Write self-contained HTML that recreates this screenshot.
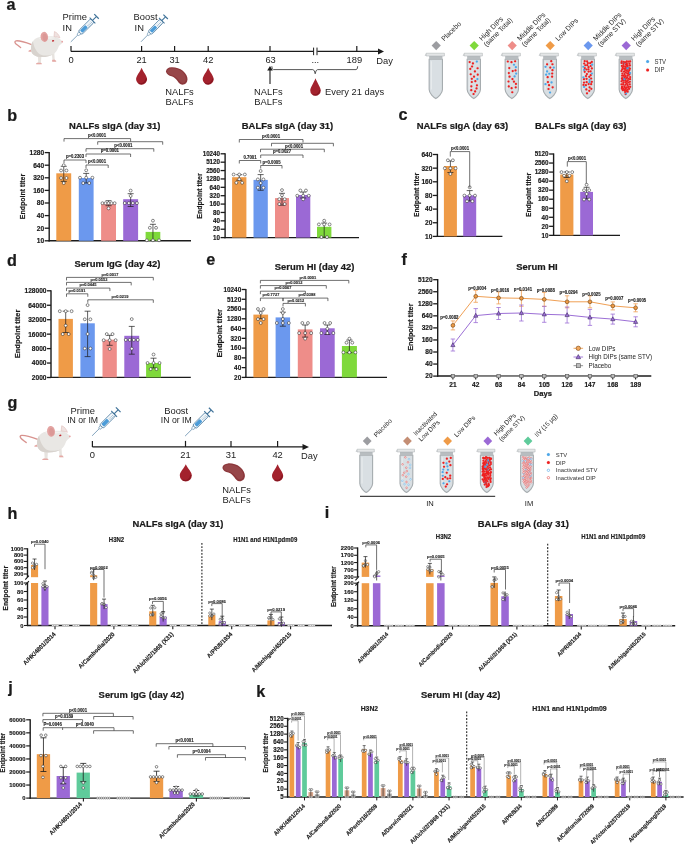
<!DOCTYPE html>
<html><head><meta charset="utf-8"><title>Figure</title>
<style>html,body{margin:0;padding:0;background:#fff;}svg{display:block;will-change:transform;}
text{font-family:"Liberation Sans", sans-serif;}</style></head>
<body><svg width="685" height="844" viewBox="0 0 685 844">
<rect width="685" height="844" fill="#fff"/>
<text transform="translate(6.4 10) scale(1 1.05)" font-size="16.2" font-weight="bold" stroke="#1a1a1a" stroke-width="0.22" text-anchor="start" fill="#1a1a1a">a</text>
<text transform="translate(7.2 120.8) scale(1 1.05)" font-size="16.2" font-weight="bold" stroke="#1a1a1a" stroke-width="0.22" text-anchor="start" fill="#1a1a1a">b</text>
<text transform="translate(398.6 120.4) scale(1 1.05)" font-size="16.2" font-weight="bold" stroke="#1a1a1a" stroke-width="0.22" text-anchor="start" fill="#1a1a1a">c</text>
<text transform="translate(6.9 265.8) scale(1 1.05)" font-size="16.2" font-weight="bold" stroke="#1a1a1a" stroke-width="0.22" text-anchor="start" fill="#1a1a1a">d</text>
<text transform="translate(206.3 264.8) scale(1 1.05)" font-size="16.2" font-weight="bold" stroke="#1a1a1a" stroke-width="0.22" text-anchor="start" fill="#1a1a1a">e</text>
<text transform="translate(401.4 265) scale(1 1.05)" font-size="16.2" font-weight="bold" stroke="#1a1a1a" stroke-width="0.22" text-anchor="start" fill="#1a1a1a">f</text>
<text transform="translate(7.4 408) scale(1 1.05)" font-size="16.2" font-weight="bold" stroke="#1a1a1a" stroke-width="0.22" text-anchor="start" fill="#1a1a1a">g</text>
<text transform="translate(7.6 518.8) scale(1 1.05)" font-size="16.2" font-weight="bold" stroke="#1a1a1a" stroke-width="0.22" text-anchor="start" fill="#1a1a1a">h</text>
<text transform="translate(324.8 517.6) scale(1 1.05)" font-size="16.2" font-weight="bold" stroke="#1a1a1a" stroke-width="0.22" text-anchor="start" fill="#1a1a1a">i</text>
<text transform="translate(8.2 693.4) scale(1 1.05)" font-size="16.2" font-weight="bold" stroke="#1a1a1a" stroke-width="0.22" text-anchor="start" fill="#1a1a1a">j</text>
<text transform="translate(256.2 696.7) scale(1 1.05)" font-size="16.2" font-weight="bold" stroke="#1a1a1a" stroke-width="0.22" text-anchor="start" fill="#1a1a1a">k</text>
<text transform="translate(114.7 128.8) scale(1 1.05)" font-size="9.45" font-weight="bold" stroke="#1a1a1a" stroke-width="0.22" text-anchor="middle" fill="#1a1a1a">NALFs sIgA (day 31)</text>
<line x1="49.2" y1="152" x2="49.2" y2="241.4" stroke="#1b1b1b" stroke-width="1.4"/>
<line x1="44.7" y1="152.6" x2="49.2" y2="152.6" stroke="#1b1b1b" stroke-width="1.3"/>
<text transform="translate(44.2 154.98) scale(1 1.05)" font-size="6.6" font-weight="bold" stroke="#1a1a1a" stroke-width="0.17" text-anchor="end" fill="#1a1a1a">1280</text>
<line x1="44.7" y1="165.2" x2="49.2" y2="165.2" stroke="#1b1b1b" stroke-width="1.3"/>
<text transform="translate(44.2 167.58) scale(1 1.05)" font-size="6.6" font-weight="bold" stroke="#1a1a1a" stroke-width="0.17" text-anchor="end" fill="#1a1a1a">640</text>
<line x1="44.7" y1="177.8" x2="49.2" y2="177.8" stroke="#1b1b1b" stroke-width="1.3"/>
<text transform="translate(44.2 180.18) scale(1 1.05)" font-size="6.6" font-weight="bold" stroke="#1a1a1a" stroke-width="0.17" text-anchor="end" fill="#1a1a1a">320</text>
<line x1="44.7" y1="190.4" x2="49.2" y2="190.4" stroke="#1b1b1b" stroke-width="1.3"/>
<text transform="translate(44.2 192.78) scale(1 1.05)" font-size="6.6" font-weight="bold" stroke="#1a1a1a" stroke-width="0.17" text-anchor="end" fill="#1a1a1a">160</text>
<line x1="44.7" y1="203" x2="49.2" y2="203" stroke="#1b1b1b" stroke-width="1.3"/>
<text transform="translate(44.2 205.38) scale(1 1.05)" font-size="6.6" font-weight="bold" stroke="#1a1a1a" stroke-width="0.17" text-anchor="end" fill="#1a1a1a">80</text>
<line x1="44.7" y1="215.6" x2="49.2" y2="215.6" stroke="#1b1b1b" stroke-width="1.3"/>
<text transform="translate(44.2 217.98) scale(1 1.05)" font-size="6.6" font-weight="bold" stroke="#1a1a1a" stroke-width="0.17" text-anchor="end" fill="#1a1a1a">40</text>
<line x1="44.7" y1="228.2" x2="49.2" y2="228.2" stroke="#1b1b1b" stroke-width="1.3"/>
<text transform="translate(44.2 230.58) scale(1 1.05)" font-size="6.6" font-weight="bold" stroke="#1a1a1a" stroke-width="0.17" text-anchor="end" fill="#1a1a1a">20</text>
<line x1="44.7" y1="240.8" x2="49.2" y2="240.8" stroke="#1b1b1b" stroke-width="1.3"/>
<text transform="translate(44.2 243.18) scale(1 1.05)" font-size="6.6" font-weight="bold" stroke="#1a1a1a" stroke-width="0.17" text-anchor="end" fill="#1a1a1a">10</text>
<line x1="48.6" y1="240.8" x2="191" y2="240.8" stroke="#1b1b1b" stroke-width="1.4"/>
<text transform="translate(25.2 196.5) rotate(-90) scale(1 1.05)" font-size="7" font-weight="bold" stroke="#1a1a1a" stroke-width="0.18" text-anchor="middle" fill="#1a1a1a">Endpoint titer</text>
<rect x="56.3" y="173.3" width="14.9" height="67.5" fill="#EF9B47"/>
<rect x="78.8" y="178" width="14.8" height="62.8" fill="#6B98EE"/>
<rect x="101.1" y="203.2" width="14.9" height="37.6" fill="#EE8D89"/>
<rect x="123.2" y="199.2" width="14.9" height="41.6" fill="#9B69D5"/>
<rect x="145.6" y="231.9" width="14.7" height="8.9" fill="#7FD93B"/>
<line x1="63.75" y1="166.3" x2="63.75" y2="181.4" stroke="#1b1b1b" stroke-width="0.7"/>
<line x1="60.75" y1="166.3" x2="66.75" y2="166.3" stroke="#1b1b1b" stroke-width="0.7"/>
<line x1="60.75" y1="181.4" x2="66.75" y2="181.4" stroke="#1b1b1b" stroke-width="0.7"/>
<circle cx="63.75" cy="165.2" r="1.45" fill="#fff" stroke="#2a2a2a" stroke-width="0.55"/>
<circle cx="61.05" cy="170.5" r="1.45" fill="#fff" stroke="#2a2a2a" stroke-width="0.55"/>
<circle cx="66.45" cy="170.5" r="1.45" fill="#fff" stroke="#2a2a2a" stroke-width="0.55"/>
<circle cx="61.05" cy="178" r="1.45" fill="#fff" stroke="#2a2a2a" stroke-width="0.55"/>
<circle cx="66.45" cy="178" r="1.45" fill="#fff" stroke="#2a2a2a" stroke-width="0.55"/>
<circle cx="63.75" cy="183.1" r="1.45" fill="#fff" stroke="#2a2a2a" stroke-width="0.55"/>
<line x1="86.2" y1="173.4" x2="86.2" y2="183" stroke="#1b1b1b" stroke-width="0.7"/>
<line x1="83.2" y1="173.4" x2="89.2" y2="173.4" stroke="#1b1b1b" stroke-width="0.7"/>
<line x1="83.2" y1="183" x2="89.2" y2="183" stroke="#1b1b1b" stroke-width="0.7"/>
<circle cx="86.2" cy="170.3" r="1.45" fill="#fff" stroke="#2a2a2a" stroke-width="0.55"/>
<circle cx="80" cy="177.7" r="1.45" fill="#fff" stroke="#2a2a2a" stroke-width="0.55"/>
<circle cx="86.2" cy="177.7" r="1.45" fill="#fff" stroke="#2a2a2a" stroke-width="0.55"/>
<circle cx="92.4" cy="177.7" r="1.45" fill="#fff" stroke="#2a2a2a" stroke-width="0.55"/>
<circle cx="83.2" cy="183.1" r="1.45" fill="#fff" stroke="#2a2a2a" stroke-width="0.55"/>
<circle cx="89.2" cy="183.1" r="1.45" fill="#fff" stroke="#2a2a2a" stroke-width="0.55"/>
<line x1="108.55" y1="200.7" x2="108.55" y2="205.7" stroke="#1b1b1b" stroke-width="0.7"/>
<line x1="105.55" y1="200.7" x2="111.55" y2="200.7" stroke="#1b1b1b" stroke-width="0.7"/>
<line x1="105.55" y1="205.7" x2="111.55" y2="205.7" stroke="#1b1b1b" stroke-width="0.7"/>
<circle cx="102.45" cy="203.2" r="1.45" fill="#fff" stroke="#2a2a2a" stroke-width="0.55"/>
<circle cx="105.55" cy="203.2" r="1.45" fill="#fff" stroke="#2a2a2a" stroke-width="0.55"/>
<circle cx="108.55" cy="203.2" r="1.45" fill="#fff" stroke="#2a2a2a" stroke-width="0.55"/>
<circle cx="111.55" cy="203.2" r="1.45" fill="#fff" stroke="#2a2a2a" stroke-width="0.55"/>
<circle cx="114.65" cy="203.2" r="1.45" fill="#fff" stroke="#2a2a2a" stroke-width="0.55"/>
<circle cx="108.55" cy="208.4" r="1.45" fill="#fff" stroke="#2a2a2a" stroke-width="0.55"/>
<line x1="130.65" y1="193.7" x2="130.65" y2="206.5" stroke="#1b1b1b" stroke-width="0.7"/>
<line x1="127.65" y1="193.7" x2="133.65" y2="193.7" stroke="#1b1b1b" stroke-width="0.7"/>
<line x1="127.65" y1="206.5" x2="133.65" y2="206.5" stroke="#1b1b1b" stroke-width="0.7"/>
<circle cx="130.65" cy="190.6" r="1.45" fill="#fff" stroke="#2a2a2a" stroke-width="0.55"/>
<circle cx="130.65" cy="195.9" r="1.45" fill="#fff" stroke="#2a2a2a" stroke-width="0.55"/>
<circle cx="124.75" cy="203.1" r="1.45" fill="#fff" stroke="#2a2a2a" stroke-width="0.55"/>
<circle cx="128.85" cy="203.1" r="1.45" fill="#fff" stroke="#2a2a2a" stroke-width="0.55"/>
<circle cx="132.85" cy="203.1" r="1.45" fill="#fff" stroke="#2a2a2a" stroke-width="0.55"/>
<circle cx="136.95" cy="203.1" r="1.45" fill="#fff" stroke="#2a2a2a" stroke-width="0.55"/>
<line x1="152.95" y1="224.3" x2="152.95" y2="240.4" stroke="#1b1b1b" stroke-width="0.7"/>
<line x1="149.95" y1="224.3" x2="155.95" y2="224.3" stroke="#1b1b1b" stroke-width="0.7"/>
<line x1="149.95" y1="240.4" x2="155.95" y2="240.4" stroke="#1b1b1b" stroke-width="0.7"/>
<circle cx="152.95" cy="220.7" r="1.45" fill="#fff" stroke="#2a2a2a" stroke-width="0.55"/>
<circle cx="149.85" cy="227.8" r="1.45" fill="#fff" stroke="#2a2a2a" stroke-width="0.55"/>
<circle cx="156.05" cy="227.8" r="1.45" fill="#fff" stroke="#2a2a2a" stroke-width="0.55"/>
<circle cx="146.85" cy="240.3" r="1.45" fill="#fff" stroke="#2a2a2a" stroke-width="0.55"/>
<circle cx="152.95" cy="240.3" r="1.45" fill="#fff" stroke="#2a2a2a" stroke-width="0.55"/>
<circle cx="159.05" cy="240.3" r="1.45" fill="#fff" stroke="#2a2a2a" stroke-width="0.55"/>
<path d="M64 141.6V138.6H130.6V141.6" fill="none" stroke="#333" stroke-width="0.7"/>
<text transform="translate(97 136.8) scale(1 1.05)" font-size="4.29" font-weight="bold" stroke="#222" stroke-width="0.11" text-anchor="middle" fill="#222">p&lt;0.0001</text>
<path d="M97.7 144.7V141.7H162.7V144.7" fill="none" stroke="#333" stroke-width="0.7"/>
<path d="M86 151.7V148.7H153.8V151.7" fill="none" stroke="#333" stroke-width="0.7"/>
<text transform="translate(123.4 147.1) scale(1 1.05)" font-size="4.29" font-weight="bold" stroke="#222" stroke-width="0.11" text-anchor="middle" fill="#222">p&lt;0.0001</text>
<path d="M86 157V154H130.6V157" fill="none" stroke="#333" stroke-width="0.7"/>
<text transform="translate(109.8 152.4) scale(1 1.05)" font-size="4.29" font-weight="bold" stroke="#222" stroke-width="0.11" text-anchor="middle" fill="#222">p=0.0001</text>
<path d="M64 163V160H86V163" fill="none" stroke="#333" stroke-width="0.7"/>
<text transform="translate(75 158.2) scale(1 1.05)" font-size="4.29" font-weight="bold" stroke="#222" stroke-width="0.11" text-anchor="middle" fill="#222">p=0.2303</text>
<path d="M86 168V165H108.2V168" fill="none" stroke="#333" stroke-width="0.7"/>
<text transform="translate(97 163.2) scale(1 1.05)" font-size="4.29" font-weight="bold" stroke="#222" stroke-width="0.11" text-anchor="middle" fill="#222">p&lt;0.0001</text>
<text transform="translate(287.5 128.8) scale(1 1.05)" font-size="9.45" font-weight="bold" stroke="#1a1a1a" stroke-width="0.22" text-anchor="middle" fill="#1a1a1a">BALFs sIgA (day 31)</text>
<line x1="225.1" y1="153.2" x2="225.1" y2="238.2" stroke="#1b1b1b" stroke-width="1.4"/>
<line x1="220.6" y1="153.8" x2="225.1" y2="153.8" stroke="#1b1b1b" stroke-width="1.3"/>
<text transform="translate(220.1 156.07) scale(1 1.05)" font-size="6.3" font-weight="bold" stroke="#1a1a1a" stroke-width="0.16" text-anchor="end" fill="#1a1a1a">10240</text>
<line x1="220.6" y1="162.18" x2="225.1" y2="162.18" stroke="#1b1b1b" stroke-width="1.3"/>
<text transform="translate(220.1 164.45) scale(1 1.05)" font-size="6.3" font-weight="bold" stroke="#1a1a1a" stroke-width="0.16" text-anchor="end" fill="#1a1a1a">5120</text>
<line x1="220.6" y1="170.56" x2="225.1" y2="170.56" stroke="#1b1b1b" stroke-width="1.3"/>
<text transform="translate(220.1 172.83) scale(1 1.05)" font-size="6.3" font-weight="bold" stroke="#1a1a1a" stroke-width="0.16" text-anchor="end" fill="#1a1a1a">2560</text>
<line x1="220.6" y1="178.94" x2="225.1" y2="178.94" stroke="#1b1b1b" stroke-width="1.3"/>
<text transform="translate(220.1 181.21) scale(1 1.05)" font-size="6.3" font-weight="bold" stroke="#1a1a1a" stroke-width="0.16" text-anchor="end" fill="#1a1a1a">1280</text>
<line x1="220.6" y1="187.32" x2="225.1" y2="187.32" stroke="#1b1b1b" stroke-width="1.3"/>
<text transform="translate(220.1 189.59) scale(1 1.05)" font-size="6.3" font-weight="bold" stroke="#1a1a1a" stroke-width="0.16" text-anchor="end" fill="#1a1a1a">640</text>
<line x1="220.6" y1="195.7" x2="225.1" y2="195.7" stroke="#1b1b1b" stroke-width="1.3"/>
<text transform="translate(220.1 197.97) scale(1 1.05)" font-size="6.3" font-weight="bold" stroke="#1a1a1a" stroke-width="0.16" text-anchor="end" fill="#1a1a1a">320</text>
<line x1="220.6" y1="204.08" x2="225.1" y2="204.08" stroke="#1b1b1b" stroke-width="1.3"/>
<text transform="translate(220.1 206.35) scale(1 1.05)" font-size="6.3" font-weight="bold" stroke="#1a1a1a" stroke-width="0.16" text-anchor="end" fill="#1a1a1a">160</text>
<line x1="220.6" y1="212.46" x2="225.1" y2="212.46" stroke="#1b1b1b" stroke-width="1.3"/>
<text transform="translate(220.1 214.73) scale(1 1.05)" font-size="6.3" font-weight="bold" stroke="#1a1a1a" stroke-width="0.16" text-anchor="end" fill="#1a1a1a">80</text>
<line x1="220.6" y1="220.84" x2="225.1" y2="220.84" stroke="#1b1b1b" stroke-width="1.3"/>
<text transform="translate(220.1 223.11) scale(1 1.05)" font-size="6.3" font-weight="bold" stroke="#1a1a1a" stroke-width="0.16" text-anchor="end" fill="#1a1a1a">40</text>
<line x1="220.6" y1="229.22" x2="225.1" y2="229.22" stroke="#1b1b1b" stroke-width="1.3"/>
<text transform="translate(220.1 231.49) scale(1 1.05)" font-size="6.3" font-weight="bold" stroke="#1a1a1a" stroke-width="0.16" text-anchor="end" fill="#1a1a1a">20</text>
<line x1="220.6" y1="237.6" x2="225.1" y2="237.6" stroke="#1b1b1b" stroke-width="1.3"/>
<text transform="translate(220.1 239.87) scale(1 1.05)" font-size="6.3" font-weight="bold" stroke="#1a1a1a" stroke-width="0.16" text-anchor="end" fill="#1a1a1a">10</text>
<line x1="224.5" y1="237.6" x2="359" y2="237.6" stroke="#1b1b1b" stroke-width="1.4"/>
<text transform="translate(202.3 196) rotate(-90) scale(1 1.05)" font-size="7" font-weight="bold" stroke="#1a1a1a" stroke-width="0.18" text-anchor="middle" fill="#1a1a1a">Endpoint titer</text>
<rect x="232.1" y="177.2" width="14.3" height="60.4" fill="#EF9B47"/>
<rect x="253.5" y="179.9" width="14.3" height="57.7" fill="#6B98EE"/>
<rect x="275" y="198.1" width="14" height="39.5" fill="#EE8D89"/>
<rect x="296" y="195" width="14.3" height="42.6" fill="#9B69D5"/>
<rect x="317" y="226.8" width="14.4" height="10.8" fill="#7FD93B"/>
<line x1="239.25" y1="174.7" x2="239.25" y2="180.2" stroke="#1b1b1b" stroke-width="0.7"/>
<line x1="236.25" y1="174.7" x2="242.25" y2="174.7" stroke="#1b1b1b" stroke-width="0.7"/>
<line x1="236.25" y1="180.2" x2="242.25" y2="180.2" stroke="#1b1b1b" stroke-width="0.7"/>
<circle cx="233.65" cy="174.5" r="1.45" fill="#fff" stroke="#2a2a2a" stroke-width="0.55"/>
<circle cx="239.25" cy="174.5" r="1.45" fill="#fff" stroke="#2a2a2a" stroke-width="0.55"/>
<circle cx="244.85" cy="174.5" r="1.45" fill="#fff" stroke="#2a2a2a" stroke-width="0.55"/>
<circle cx="239.25" cy="179.3" r="1.45" fill="#fff" stroke="#2a2a2a" stroke-width="0.55"/>
<circle cx="236.35" cy="182.8" r="1.45" fill="#fff" stroke="#2a2a2a" stroke-width="0.55"/>
<circle cx="242.15" cy="182.8" r="1.45" fill="#fff" stroke="#2a2a2a" stroke-width="0.55"/>
<line x1="260.65" y1="174.6" x2="260.65" y2="190.3" stroke="#1b1b1b" stroke-width="0.7"/>
<line x1="257.65" y1="174.6" x2="263.65" y2="174.6" stroke="#1b1b1b" stroke-width="0.7"/>
<line x1="257.65" y1="190.3" x2="263.65" y2="190.3" stroke="#1b1b1b" stroke-width="0.7"/>
<circle cx="260.65" cy="171" r="1.45" fill="#fff" stroke="#2a2a2a" stroke-width="0.55"/>
<circle cx="257.85" cy="179.4" r="1.45" fill="#fff" stroke="#2a2a2a" stroke-width="0.55"/>
<circle cx="263.45" cy="179.4" r="1.45" fill="#fff" stroke="#2a2a2a" stroke-width="0.55"/>
<circle cx="260.65" cy="183.1" r="1.45" fill="#fff" stroke="#2a2a2a" stroke-width="0.55"/>
<circle cx="257.85" cy="187.7" r="1.45" fill="#fff" stroke="#2a2a2a" stroke-width="0.55"/>
<circle cx="263.45" cy="187.7" r="1.45" fill="#fff" stroke="#2a2a2a" stroke-width="0.55"/>
<line x1="282" y1="193.3" x2="282" y2="205.2" stroke="#1b1b1b" stroke-width="0.7"/>
<line x1="279" y1="193.3" x2="285" y2="193.3" stroke="#1b1b1b" stroke-width="0.7"/>
<line x1="279" y1="205.2" x2="285" y2="205.2" stroke="#1b1b1b" stroke-width="0.7"/>
<circle cx="282" cy="190.1" r="1.45" fill="#fff" stroke="#2a2a2a" stroke-width="0.55"/>
<circle cx="282" cy="195.2" r="1.45" fill="#fff" stroke="#2a2a2a" stroke-width="0.55"/>
<circle cx="279.3" cy="199.2" r="1.45" fill="#fff" stroke="#2a2a2a" stroke-width="0.55"/>
<circle cx="284.7" cy="199.2" r="1.45" fill="#fff" stroke="#2a2a2a" stroke-width="0.55"/>
<circle cx="279.3" cy="204.1" r="1.45" fill="#fff" stroke="#2a2a2a" stroke-width="0.55"/>
<circle cx="284.7" cy="204.1" r="1.45" fill="#fff" stroke="#2a2a2a" stroke-width="0.55"/>
<line x1="303.15" y1="192" x2="303.15" y2="198" stroke="#1b1b1b" stroke-width="0.7"/>
<line x1="300.15" y1="192" x2="306.15" y2="192" stroke="#1b1b1b" stroke-width="0.7"/>
<line x1="300.15" y1="198" x2="306.15" y2="198" stroke="#1b1b1b" stroke-width="0.7"/>
<circle cx="300.35" cy="190.5" r="1.45" fill="#fff" stroke="#2a2a2a" stroke-width="0.55"/>
<circle cx="305.95" cy="190.5" r="1.45" fill="#fff" stroke="#2a2a2a" stroke-width="0.55"/>
<circle cx="297.25" cy="195.7" r="1.45" fill="#fff" stroke="#2a2a2a" stroke-width="0.55"/>
<circle cx="303.15" cy="195.7" r="1.45" fill="#fff" stroke="#2a2a2a" stroke-width="0.55"/>
<circle cx="308.75" cy="195.7" r="1.45" fill="#fff" stroke="#2a2a2a" stroke-width="0.55"/>
<circle cx="303.15" cy="199.3" r="1.45" fill="#fff" stroke="#2a2a2a" stroke-width="0.55"/>
<line x1="324.2" y1="223.1" x2="324.2" y2="237.3" stroke="#1b1b1b" stroke-width="0.7"/>
<line x1="321.2" y1="223.1" x2="327.2" y2="223.1" stroke="#1b1b1b" stroke-width="0.7"/>
<line x1="321.2" y1="237.3" x2="327.2" y2="237.3" stroke="#1b1b1b" stroke-width="0.7"/>
<circle cx="324.2" cy="220.7" r="1.45" fill="#fff" stroke="#2a2a2a" stroke-width="0.55"/>
<circle cx="318.9" cy="224.4" r="1.45" fill="#fff" stroke="#2a2a2a" stroke-width="0.55"/>
<circle cx="324.2" cy="224.4" r="1.45" fill="#fff" stroke="#2a2a2a" stroke-width="0.55"/>
<circle cx="329.6" cy="224.4" r="1.45" fill="#fff" stroke="#2a2a2a" stroke-width="0.55"/>
<circle cx="321.4" cy="237.1" r="1.45" fill="#fff" stroke="#2a2a2a" stroke-width="0.55"/>
<circle cx="327" cy="237.1" r="1.45" fill="#fff" stroke="#2a2a2a" stroke-width="0.55"/>
<path d="M239.3 142.5V139.5H303V142.5" fill="none" stroke="#333" stroke-width="0.7"/>
<text transform="translate(271 137.7) scale(1 1.05)" font-size="4.29" font-weight="bold" stroke="#222" stroke-width="0.11" text-anchor="middle" fill="#222">p&lt;0.0001</text>
<path d="M271.5 146.3V143.3H333.4V146.3" fill="none" stroke="#333" stroke-width="0.7"/>
<path d="M260.5 152.2V149.2H324.3V152.2" fill="none" stroke="#333" stroke-width="0.7"/>
<text transform="translate(294 147.5) scale(1 1.05)" font-size="4.29" font-weight="bold" stroke="#222" stroke-width="0.11" text-anchor="middle" fill="#222">p&lt;0.0001</text>
<path d="M260.7 158V155H303V158" fill="none" stroke="#333" stroke-width="0.7"/>
<text transform="translate(282 153.2) scale(1 1.05)" font-size="4.29" font-weight="bold" stroke="#222" stroke-width="0.11" text-anchor="middle" fill="#222">p=0.0027</text>
<path d="M239.3 163.5V160.5H260.7V163.5" fill="none" stroke="#333" stroke-width="0.7"/>
<text transform="translate(250 158.7) scale(1 1.05)" font-size="4.29" font-weight="bold" stroke="#222" stroke-width="0.11" text-anchor="middle" fill="#222">0.7001</text>
<path d="M260.7 168.5V165.5H282V168.5" fill="none" stroke="#333" stroke-width="0.7"/>
<text transform="translate(271.5 163.7) scale(1 1.05)" font-size="4.29" font-weight="bold" stroke="#222" stroke-width="0.11" text-anchor="middle" fill="#222">p=0.0005</text>
<text transform="translate(462.4 128.7) scale(1 1.05)" font-size="9.45" font-weight="bold" stroke="#1a1a1a" stroke-width="0.22" text-anchor="middle" fill="#1a1a1a">NALFs sIgA (day 63)</text>
<line x1="437.4" y1="153.9" x2="437.4" y2="237" stroke="#1b1b1b" stroke-width="1.4"/>
<line x1="432.9" y1="154.5" x2="437.4" y2="154.5" stroke="#1b1b1b" stroke-width="1.3"/>
<text transform="translate(432.4 156.88) scale(1 1.05)" font-size="6.6" font-weight="bold" stroke="#1a1a1a" stroke-width="0.17" text-anchor="end" fill="#1a1a1a">640</text>
<line x1="432.9" y1="168.15" x2="437.4" y2="168.15" stroke="#1b1b1b" stroke-width="1.3"/>
<text transform="translate(432.4 170.53) scale(1 1.05)" font-size="6.6" font-weight="bold" stroke="#1a1a1a" stroke-width="0.17" text-anchor="end" fill="#1a1a1a">320</text>
<line x1="432.9" y1="181.8" x2="437.4" y2="181.8" stroke="#1b1b1b" stroke-width="1.3"/>
<text transform="translate(432.4 184.18) scale(1 1.05)" font-size="6.6" font-weight="bold" stroke="#1a1a1a" stroke-width="0.17" text-anchor="end" fill="#1a1a1a">160</text>
<line x1="432.9" y1="195.45" x2="437.4" y2="195.45" stroke="#1b1b1b" stroke-width="1.3"/>
<text transform="translate(432.4 197.83) scale(1 1.05)" font-size="6.6" font-weight="bold" stroke="#1a1a1a" stroke-width="0.17" text-anchor="end" fill="#1a1a1a">80</text>
<line x1="432.9" y1="209.1" x2="437.4" y2="209.1" stroke="#1b1b1b" stroke-width="1.3"/>
<text transform="translate(432.4 211.48) scale(1 1.05)" font-size="6.6" font-weight="bold" stroke="#1a1a1a" stroke-width="0.17" text-anchor="end" fill="#1a1a1a">40</text>
<line x1="432.9" y1="222.75" x2="437.4" y2="222.75" stroke="#1b1b1b" stroke-width="1.3"/>
<text transform="translate(432.4 225.13) scale(1 1.05)" font-size="6.6" font-weight="bold" stroke="#1a1a1a" stroke-width="0.17" text-anchor="end" fill="#1a1a1a">20</text>
<line x1="432.9" y1="236.4" x2="437.4" y2="236.4" stroke="#1b1b1b" stroke-width="1.3"/>
<text transform="translate(432.4 238.78) scale(1 1.05)" font-size="6.6" font-weight="bold" stroke="#1a1a1a" stroke-width="0.17" text-anchor="end" fill="#1a1a1a">10</text>
<line x1="436.8" y1="236.4" x2="502.4" y2="236.4" stroke="#1b1b1b" stroke-width="1.4"/>
<text transform="translate(418.5 195) rotate(-90) scale(1 1.05)" font-size="6.8" font-weight="bold" stroke="#1a1a1a" stroke-width="0.17" text-anchor="middle" fill="#1a1a1a">Endpoint titer</text>
<rect x="443.9" y="166" width="13" height="70.4" fill="#EF9B47"/>
<rect x="463.2" y="195.3" width="13" height="41.1" fill="#9B69D5"/>
<line x1="450.4" y1="160.9" x2="450.4" y2="172.5" stroke="#1b1b1b" stroke-width="0.7"/>
<line x1="447.4" y1="160.9" x2="453.4" y2="160.9" stroke="#1b1b1b" stroke-width="0.7"/>
<line x1="447.4" y1="172.5" x2="453.4" y2="172.5" stroke="#1b1b1b" stroke-width="0.7"/>
<circle cx="447.9" cy="160.3" r="1.45" fill="#fff" stroke="#2a2a2a" stroke-width="0.55"/>
<circle cx="452.9" cy="160.3" r="1.45" fill="#fff" stroke="#2a2a2a" stroke-width="0.55"/>
<circle cx="444.8" cy="168.3" r="1.45" fill="#fff" stroke="#2a2a2a" stroke-width="0.55"/>
<circle cx="450.4" cy="168.3" r="1.45" fill="#fff" stroke="#2a2a2a" stroke-width="0.55"/>
<circle cx="455.6" cy="168.3" r="1.45" fill="#fff" stroke="#2a2a2a" stroke-width="0.55"/>
<circle cx="450.4" cy="174" r="1.45" fill="#fff" stroke="#2a2a2a" stroke-width="0.55"/>
<line x1="469.7" y1="190.6" x2="469.7" y2="201" stroke="#1b1b1b" stroke-width="0.7"/>
<line x1="466.7" y1="190.6" x2="472.7" y2="190.6" stroke="#1b1b1b" stroke-width="0.7"/>
<line x1="466.7" y1="201" x2="472.7" y2="201" stroke="#1b1b1b" stroke-width="0.7"/>
<circle cx="469.7" cy="187.3" r="1.45" fill="#fff" stroke="#2a2a2a" stroke-width="0.55"/>
<circle cx="464.4" cy="195.6" r="1.45" fill="#fff" stroke="#2a2a2a" stroke-width="0.55"/>
<circle cx="469.7" cy="195.6" r="1.45" fill="#fff" stroke="#2a2a2a" stroke-width="0.55"/>
<circle cx="475" cy="195.6" r="1.45" fill="#fff" stroke="#2a2a2a" stroke-width="0.55"/>
<circle cx="467" cy="201.2" r="1.45" fill="#fff" stroke="#2a2a2a" stroke-width="0.55"/>
<circle cx="472.4" cy="201.2" r="1.45" fill="#fff" stroke="#2a2a2a" stroke-width="0.55"/>
<path d="M450.3 156.6V151.6H469.7V187.6" fill="none" stroke="#333" stroke-width="0.7"/>
<text transform="translate(460 149.9) scale(1 1.05)" font-size="4.29" font-weight="bold" stroke="#222" stroke-width="0.11" text-anchor="middle" fill="#222">p&lt;0.0001</text>
<text transform="translate(580.7 128.7) scale(1 1.05)" font-size="9.45" font-weight="bold" stroke="#1a1a1a" stroke-width="0.22" text-anchor="middle" fill="#1a1a1a">BALFs sIgA (day 63)</text>
<line x1="553.6" y1="153.4" x2="553.6" y2="235.96" stroke="#1b1b1b" stroke-width="1.4"/>
<line x1="549.1" y1="154" x2="553.6" y2="154" stroke="#1b1b1b" stroke-width="1.3"/>
<text transform="translate(548.6 156.27) scale(1 1.05)" font-size="6.3" font-weight="bold" stroke="#1a1a1a" stroke-width="0.16" text-anchor="end" fill="#1a1a1a">5120</text>
<line x1="549.1" y1="163.04" x2="553.6" y2="163.04" stroke="#1b1b1b" stroke-width="1.3"/>
<text transform="translate(548.6 165.31) scale(1 1.05)" font-size="6.3" font-weight="bold" stroke="#1a1a1a" stroke-width="0.16" text-anchor="end" fill="#1a1a1a">2560</text>
<line x1="549.1" y1="172.08" x2="553.6" y2="172.08" stroke="#1b1b1b" stroke-width="1.3"/>
<text transform="translate(548.6 174.35) scale(1 1.05)" font-size="6.3" font-weight="bold" stroke="#1a1a1a" stroke-width="0.16" text-anchor="end" fill="#1a1a1a">1280</text>
<line x1="549.1" y1="181.12" x2="553.6" y2="181.12" stroke="#1b1b1b" stroke-width="1.3"/>
<text transform="translate(548.6 183.39) scale(1 1.05)" font-size="6.3" font-weight="bold" stroke="#1a1a1a" stroke-width="0.16" text-anchor="end" fill="#1a1a1a">640</text>
<line x1="549.1" y1="190.16" x2="553.6" y2="190.16" stroke="#1b1b1b" stroke-width="1.3"/>
<text transform="translate(548.6 192.43) scale(1 1.05)" font-size="6.3" font-weight="bold" stroke="#1a1a1a" stroke-width="0.16" text-anchor="end" fill="#1a1a1a">320</text>
<line x1="549.1" y1="199.2" x2="553.6" y2="199.2" stroke="#1b1b1b" stroke-width="1.3"/>
<text transform="translate(548.6 201.47) scale(1 1.05)" font-size="6.3" font-weight="bold" stroke="#1a1a1a" stroke-width="0.16" text-anchor="end" fill="#1a1a1a">160</text>
<line x1="549.1" y1="208.24" x2="553.6" y2="208.24" stroke="#1b1b1b" stroke-width="1.3"/>
<text transform="translate(548.6 210.51) scale(1 1.05)" font-size="6.3" font-weight="bold" stroke="#1a1a1a" stroke-width="0.16" text-anchor="end" fill="#1a1a1a">80</text>
<line x1="549.1" y1="217.28" x2="553.6" y2="217.28" stroke="#1b1b1b" stroke-width="1.3"/>
<text transform="translate(548.6 219.55) scale(1 1.05)" font-size="6.3" font-weight="bold" stroke="#1a1a1a" stroke-width="0.16" text-anchor="end" fill="#1a1a1a">40</text>
<line x1="549.1" y1="226.32" x2="553.6" y2="226.32" stroke="#1b1b1b" stroke-width="1.3"/>
<text transform="translate(548.6 228.59) scale(1 1.05)" font-size="6.3" font-weight="bold" stroke="#1a1a1a" stroke-width="0.16" text-anchor="end" fill="#1a1a1a">20</text>
<line x1="549.1" y1="235.36" x2="553.6" y2="235.36" stroke="#1b1b1b" stroke-width="1.3"/>
<text transform="translate(548.6 237.63) scale(1 1.05)" font-size="6.3" font-weight="bold" stroke="#1a1a1a" stroke-width="0.16" text-anchor="end" fill="#1a1a1a">10</text>
<line x1="553" y1="235.4" x2="620" y2="235.4" stroke="#1b1b1b" stroke-width="1.4"/>
<text transform="translate(531.2 195) rotate(-90) scale(1 1.05)" font-size="6.8" font-weight="bold" stroke="#1a1a1a" stroke-width="0.17" text-anchor="middle" fill="#1a1a1a">Endpoint titer</text>
<rect x="560.2" y="174.5" width="13.2" height="60.9" fill="#EF9B47"/>
<rect x="580.2" y="191.9" width="12.8" height="43.5" fill="#9B69D5"/>
<line x1="566.8" y1="172" x2="566.8" y2="177.5" stroke="#1b1b1b" stroke-width="0.7"/>
<line x1="563.8" y1="172" x2="569.8" y2="172" stroke="#1b1b1b" stroke-width="0.7"/>
<line x1="563.8" y1="177.5" x2="569.8" y2="177.5" stroke="#1b1b1b" stroke-width="0.7"/>
<circle cx="561.5" cy="172.1" r="1.45" fill="#fff" stroke="#2a2a2a" stroke-width="0.55"/>
<circle cx="566.8" cy="172.1" r="1.45" fill="#fff" stroke="#2a2a2a" stroke-width="0.55"/>
<circle cx="572.2" cy="172.1" r="1.45" fill="#fff" stroke="#2a2a2a" stroke-width="0.55"/>
<circle cx="564.1" cy="175.7" r="1.45" fill="#fff" stroke="#2a2a2a" stroke-width="0.55"/>
<circle cx="569.5" cy="175.7" r="1.45" fill="#fff" stroke="#2a2a2a" stroke-width="0.55"/>
<circle cx="566.8" cy="181.2" r="1.45" fill="#fff" stroke="#2a2a2a" stroke-width="0.55"/>
<line x1="586.6" y1="187.3" x2="586.6" y2="198.9" stroke="#1b1b1b" stroke-width="0.7"/>
<line x1="583.6" y1="187.3" x2="589.6" y2="187.3" stroke="#1b1b1b" stroke-width="0.7"/>
<line x1="583.6" y1="198.9" x2="589.6" y2="198.9" stroke="#1b1b1b" stroke-width="0.7"/>
<circle cx="586.6" cy="184.7" r="1.45" fill="#fff" stroke="#2a2a2a" stroke-width="0.55"/>
<circle cx="584" cy="190.2" r="1.45" fill="#fff" stroke="#2a2a2a" stroke-width="0.55"/>
<circle cx="589.2" cy="190.2" r="1.45" fill="#fff" stroke="#2a2a2a" stroke-width="0.55"/>
<circle cx="586.6" cy="194" r="1.45" fill="#fff" stroke="#2a2a2a" stroke-width="0.55"/>
<circle cx="584" cy="199.5" r="1.45" fill="#fff" stroke="#2a2a2a" stroke-width="0.55"/>
<circle cx="589.2" cy="199.5" r="1.45" fill="#fff" stroke="#2a2a2a" stroke-width="0.55"/>
<path d="M567.3 166.6V161.6H586.3V183.6" fill="none" stroke="#333" stroke-width="0.7"/>
<text transform="translate(577 159.9) scale(1 1.05)" font-size="4.29" font-weight="bold" stroke="#222" stroke-width="0.11" text-anchor="middle" fill="#222">p&lt;0.0001</text>
<text transform="translate(117.5 267.4) scale(1 1.05)" font-size="9.45" font-weight="bold" stroke="#1a1a1a" stroke-width="0.22" text-anchor="middle" fill="#1a1a1a">Serum IgG (day 42)</text>
<line x1="51" y1="290.2" x2="51" y2="378.1" stroke="#1b1b1b" stroke-width="1.4"/>
<line x1="47" y1="290.8" x2="51" y2="290.8" stroke="#1b1b1b" stroke-width="1.3"/>
<text transform="translate(46.5 293.18) scale(1 1.05)" font-size="6.6" font-weight="bold" stroke="#1a1a1a" stroke-width="0.17" text-anchor="end" fill="#1a1a1a">128000</text>
<line x1="47" y1="305.25" x2="51" y2="305.25" stroke="#1b1b1b" stroke-width="1.3"/>
<text transform="translate(46.5 307.63) scale(1 1.05)" font-size="6.6" font-weight="bold" stroke="#1a1a1a" stroke-width="0.17" text-anchor="end" fill="#1a1a1a">64000</text>
<line x1="47" y1="319.7" x2="51" y2="319.7" stroke="#1b1b1b" stroke-width="1.3"/>
<text transform="translate(46.5 322.08) scale(1 1.05)" font-size="6.6" font-weight="bold" stroke="#1a1a1a" stroke-width="0.17" text-anchor="end" fill="#1a1a1a">32000</text>
<line x1="47" y1="334.15" x2="51" y2="334.15" stroke="#1b1b1b" stroke-width="1.3"/>
<text transform="translate(46.5 336.53) scale(1 1.05)" font-size="6.6" font-weight="bold" stroke="#1a1a1a" stroke-width="0.17" text-anchor="end" fill="#1a1a1a">16000</text>
<line x1="47" y1="348.6" x2="51" y2="348.6" stroke="#1b1b1b" stroke-width="1.3"/>
<text transform="translate(46.5 350.98) scale(1 1.05)" font-size="6.6" font-weight="bold" stroke="#1a1a1a" stroke-width="0.17" text-anchor="end" fill="#1a1a1a">8000</text>
<line x1="47" y1="363.05" x2="51" y2="363.05" stroke="#1b1b1b" stroke-width="1.3"/>
<text transform="translate(46.5 365.43) scale(1 1.05)" font-size="6.6" font-weight="bold" stroke="#1a1a1a" stroke-width="0.17" text-anchor="end" fill="#1a1a1a">4000</text>
<line x1="47" y1="377.5" x2="51" y2="377.5" stroke="#1b1b1b" stroke-width="1.3"/>
<text transform="translate(46.5 379.88) scale(1 1.05)" font-size="6.6" font-weight="bold" stroke="#1a1a1a" stroke-width="0.17" text-anchor="end" fill="#1a1a1a">2000</text>
<line x1="50.4" y1="377.4" x2="190.8" y2="377.4" stroke="#1b1b1b" stroke-width="1.4"/>
<text transform="translate(19.7 333.9) rotate(-90) scale(1 1.05)" font-size="7.5" font-weight="bold" stroke="#1a1a1a" stroke-width="0.19" text-anchor="middle" fill="#1a1a1a">Endpoint titer</text>
<rect x="58.5" y="318.9" width="14.4" height="58.5" fill="#EF9B47"/>
<rect x="80.4" y="323.3" width="14.4" height="54.1" fill="#6B98EE"/>
<rect x="102.5" y="339.7" width="14.3" height="37.7" fill="#EE8D89"/>
<rect x="124.3" y="335.8" width="14.9" height="41.6" fill="#9B69D5"/>
<rect x="146.1" y="363" width="14.9" height="14.4" fill="#7FD93B"/>
<line x1="65.7" y1="311.2" x2="65.7" y2="332.5" stroke="#1b1b1b" stroke-width="0.7"/>
<line x1="62.7" y1="311.2" x2="68.7" y2="311.2" stroke="#1b1b1b" stroke-width="0.7"/>
<line x1="62.7" y1="332.5" x2="68.7" y2="332.5" stroke="#1b1b1b" stroke-width="0.7"/>
<circle cx="59.8" cy="311.2" r="1.45" fill="#fff" stroke="#2a2a2a" stroke-width="0.55"/>
<circle cx="65.7" cy="311.2" r="1.45" fill="#fff" stroke="#2a2a2a" stroke-width="0.55"/>
<circle cx="71.6" cy="311.2" r="1.45" fill="#fff" stroke="#2a2a2a" stroke-width="0.55"/>
<circle cx="65.7" cy="325.6" r="1.45" fill="#fff" stroke="#2a2a2a" stroke-width="0.55"/>
<circle cx="62.7" cy="334.1" r="1.45" fill="#fff" stroke="#2a2a2a" stroke-width="0.55"/>
<circle cx="68.7" cy="334.1" r="1.45" fill="#fff" stroke="#2a2a2a" stroke-width="0.55"/>
<line x1="87.6" y1="311.2" x2="87.6" y2="356.6" stroke="#1b1b1b" stroke-width="0.7"/>
<line x1="84.6" y1="311.2" x2="90.6" y2="311.2" stroke="#1b1b1b" stroke-width="0.7"/>
<line x1="84.6" y1="356.6" x2="90.6" y2="356.6" stroke="#1b1b1b" stroke-width="0.7"/>
<circle cx="87.6" cy="305.1" r="1.45" fill="#fff" stroke="#2a2a2a" stroke-width="0.55"/>
<circle cx="84.8" cy="319.3" r="1.45" fill="#fff" stroke="#2a2a2a" stroke-width="0.55"/>
<circle cx="90.4" cy="319.3" r="1.45" fill="#fff" stroke="#2a2a2a" stroke-width="0.55"/>
<circle cx="87.6" cy="334" r="1.45" fill="#fff" stroke="#2a2a2a" stroke-width="0.55"/>
<circle cx="84.8" cy="348.5" r="1.45" fill="#fff" stroke="#2a2a2a" stroke-width="0.55"/>
<circle cx="90.4" cy="348.5" r="1.45" fill="#fff" stroke="#2a2a2a" stroke-width="0.55"/>
<line x1="109.65" y1="335.3" x2="109.65" y2="345.3" stroke="#1b1b1b" stroke-width="0.7"/>
<line x1="106.65" y1="335.3" x2="112.65" y2="335.3" stroke="#1b1b1b" stroke-width="0.7"/>
<line x1="106.65" y1="345.3" x2="112.65" y2="345.3" stroke="#1b1b1b" stroke-width="0.7"/>
<circle cx="106.75" cy="334.1" r="1.45" fill="#fff" stroke="#2a2a2a" stroke-width="0.55"/>
<circle cx="112.55" cy="334.1" r="1.45" fill="#fff" stroke="#2a2a2a" stroke-width="0.55"/>
<circle cx="103.65" cy="340.2" r="1.45" fill="#fff" stroke="#2a2a2a" stroke-width="0.55"/>
<circle cx="109.65" cy="340.2" r="1.45" fill="#fff" stroke="#2a2a2a" stroke-width="0.55"/>
<circle cx="115.65" cy="340.2" r="1.45" fill="#fff" stroke="#2a2a2a" stroke-width="0.55"/>
<circle cx="109.65" cy="349" r="1.45" fill="#fff" stroke="#2a2a2a" stroke-width="0.55"/>
<line x1="131.75" y1="326.4" x2="131.75" y2="354.2" stroke="#1b1b1b" stroke-width="0.7"/>
<line x1="128.75" y1="326.4" x2="134.75" y2="326.4" stroke="#1b1b1b" stroke-width="0.7"/>
<line x1="128.75" y1="354.2" x2="134.75" y2="354.2" stroke="#1b1b1b" stroke-width="0.7"/>
<circle cx="131.75" cy="319.1" r="1.45" fill="#fff" stroke="#2a2a2a" stroke-width="0.55"/>
<circle cx="125.75" cy="339.9" r="1.45" fill="#fff" stroke="#2a2a2a" stroke-width="0.55"/>
<circle cx="129.75" cy="339.9" r="1.45" fill="#fff" stroke="#2a2a2a" stroke-width="0.55"/>
<circle cx="133.75" cy="339.9" r="1.45" fill="#fff" stroke="#2a2a2a" stroke-width="0.55"/>
<circle cx="137.75" cy="339.9" r="1.45" fill="#fff" stroke="#2a2a2a" stroke-width="0.55"/>
<circle cx="131.75" cy="348.7" r="1.45" fill="#fff" stroke="#2a2a2a" stroke-width="0.55"/>
<line x1="153.55" y1="358.2" x2="153.55" y2="367.9" stroke="#1b1b1b" stroke-width="0.7"/>
<line x1="150.55" y1="358.2" x2="156.55" y2="358.2" stroke="#1b1b1b" stroke-width="0.7"/>
<line x1="150.55" y1="367.9" x2="156.55" y2="367.9" stroke="#1b1b1b" stroke-width="0.7"/>
<circle cx="153.55" cy="354.5" r="1.45" fill="#fff" stroke="#2a2a2a" stroke-width="0.55"/>
<circle cx="147.55" cy="363" r="1.45" fill="#fff" stroke="#2a2a2a" stroke-width="0.55"/>
<circle cx="153.55" cy="363" r="1.45" fill="#fff" stroke="#2a2a2a" stroke-width="0.55"/>
<circle cx="159.55" cy="363" r="1.45" fill="#fff" stroke="#2a2a2a" stroke-width="0.55"/>
<circle cx="150.65" cy="369.1" r="1.45" fill="#fff" stroke="#2a2a2a" stroke-width="0.55"/>
<circle cx="156.45" cy="369.1" r="1.45" fill="#fff" stroke="#2a2a2a" stroke-width="0.55"/>
<path d="M66.5 280.4V277.4H153.3V280.4" fill="none" stroke="#333" stroke-width="0.7"/>
<text transform="translate(110 275.6) scale(1 1.05)" font-size="3.96" font-weight="bold" stroke="#222" stroke-width="0.1" text-anchor="middle" fill="#222">p=0.0017</text>
<path d="M66.5 285.4V282.4H131.2V285.4" fill="none" stroke="#333" stroke-width="0.7"/>
<text transform="translate(99 280.6) scale(1 1.05)" font-size="3.96" font-weight="bold" stroke="#222" stroke-width="0.1" text-anchor="middle" fill="#222">p=0.0553</text>
<path d="M66.5 291.1V288.1H109.9V291.1" fill="none" stroke="#333" stroke-width="0.7"/>
<text transform="translate(88 286.3) scale(1 1.05)" font-size="3.96" font-weight="bold" stroke="#222" stroke-width="0.1" text-anchor="middle" fill="#222">p=0.0445</text>
<path d="M66.5 296.8V293.8H87.8V296.8" fill="none" stroke="#333" stroke-width="0.7"/>
<text transform="translate(77 292) scale(1 1.05)" font-size="3.96" font-weight="bold" stroke="#222" stroke-width="0.1" text-anchor="middle" fill="#222">p=0.0191</text>
<path d="M87.8 302.8V299.8H153.3V302.8" fill="none" stroke="#333" stroke-width="0.7"/>
<text transform="translate(120 298) scale(1 1.05)" font-size="3.96" font-weight="bold" stroke="#222" stroke-width="0.1" text-anchor="middle" fill="#222">p=0.0219</text>
<text transform="translate(314.6 270) scale(1 1.05)" font-size="9.45" font-weight="bold" stroke="#1a1a1a" stroke-width="0.22" text-anchor="middle" fill="#1a1a1a">Serum HI (day 42)</text>
<line x1="245.9" y1="288.9" x2="245.9" y2="377.99" stroke="#1b1b1b" stroke-width="1.4"/>
<line x1="241.7" y1="289.5" x2="245.9" y2="289.5" stroke="#1b1b1b" stroke-width="1.3"/>
<text transform="translate(241.2 291.8) scale(1 1.05)" font-size="6.4" font-weight="bold" stroke="#1a1a1a" stroke-width="0.16" text-anchor="end" fill="#1a1a1a">10240</text>
<line x1="241.7" y1="299.27" x2="245.9" y2="299.27" stroke="#1b1b1b" stroke-width="1.3"/>
<text transform="translate(241.2 301.57) scale(1 1.05)" font-size="6.4" font-weight="bold" stroke="#1a1a1a" stroke-width="0.16" text-anchor="end" fill="#1a1a1a">5120</text>
<line x1="241.7" y1="309.03" x2="245.9" y2="309.03" stroke="#1b1b1b" stroke-width="1.3"/>
<text transform="translate(241.2 311.34) scale(1 1.05)" font-size="6.4" font-weight="bold" stroke="#1a1a1a" stroke-width="0.16" text-anchor="end" fill="#1a1a1a">2560</text>
<line x1="241.7" y1="318.8" x2="245.9" y2="318.8" stroke="#1b1b1b" stroke-width="1.3"/>
<text transform="translate(241.2 321.1) scale(1 1.05)" font-size="6.4" font-weight="bold" stroke="#1a1a1a" stroke-width="0.16" text-anchor="end" fill="#1a1a1a">1280</text>
<line x1="241.7" y1="328.56" x2="245.9" y2="328.56" stroke="#1b1b1b" stroke-width="1.3"/>
<text transform="translate(241.2 330.87) scale(1 1.05)" font-size="6.4" font-weight="bold" stroke="#1a1a1a" stroke-width="0.16" text-anchor="end" fill="#1a1a1a">640</text>
<line x1="241.7" y1="338.33" x2="245.9" y2="338.33" stroke="#1b1b1b" stroke-width="1.3"/>
<text transform="translate(241.2 340.63) scale(1 1.05)" font-size="6.4" font-weight="bold" stroke="#1a1a1a" stroke-width="0.16" text-anchor="end" fill="#1a1a1a">320</text>
<line x1="241.7" y1="348.1" x2="245.9" y2="348.1" stroke="#1b1b1b" stroke-width="1.3"/>
<text transform="translate(241.2 350.4) scale(1 1.05)" font-size="6.4" font-weight="bold" stroke="#1a1a1a" stroke-width="0.16" text-anchor="end" fill="#1a1a1a">160</text>
<line x1="241.7" y1="357.86" x2="245.9" y2="357.86" stroke="#1b1b1b" stroke-width="1.3"/>
<text transform="translate(241.2 360.17) scale(1 1.05)" font-size="6.4" font-weight="bold" stroke="#1a1a1a" stroke-width="0.16" text-anchor="end" fill="#1a1a1a">80</text>
<line x1="241.7" y1="367.63" x2="245.9" y2="367.63" stroke="#1b1b1b" stroke-width="1.3"/>
<text transform="translate(241.2 369.93) scale(1 1.05)" font-size="6.4" font-weight="bold" stroke="#1a1a1a" stroke-width="0.16" text-anchor="end" fill="#1a1a1a">40</text>
<line x1="241.7" y1="377.39" x2="245.9" y2="377.39" stroke="#1b1b1b" stroke-width="1.3"/>
<text transform="translate(241.2 379.7) scale(1 1.05)" font-size="6.4" font-weight="bold" stroke="#1a1a1a" stroke-width="0.16" text-anchor="end" fill="#1a1a1a">20</text>
<line x1="245.3" y1="377.4" x2="387" y2="377.4" stroke="#1b1b1b" stroke-width="1.4"/>
<text transform="translate(221.8 333.3) rotate(-90) scale(1 1.05)" font-size="7.5" font-weight="bold" stroke="#1a1a1a" stroke-width="0.19" text-anchor="middle" fill="#1a1a1a">Endpoint titer</text>
<rect x="253.4" y="314.6" width="14.7" height="62.8" fill="#EF9B47"/>
<rect x="275.6" y="317.4" width="14.5" height="60" fill="#6B98EE"/>
<rect x="297.8" y="329.4" width="14.7" height="48" fill="#EE8D89"/>
<rect x="320" y="328.3" width="14.7" height="49.1" fill="#9B69D5"/>
<rect x="341.9" y="346" width="15" height="31.4" fill="#7FD93B"/>
<line x1="260.75" y1="311.1" x2="260.75" y2="318.6" stroke="#1b1b1b" stroke-width="0.7"/>
<line x1="257.75" y1="311.1" x2="263.75" y2="311.1" stroke="#1b1b1b" stroke-width="0.7"/>
<line x1="257.75" y1="318.6" x2="263.75" y2="318.6" stroke="#1b1b1b" stroke-width="0.7"/>
<circle cx="257.95" cy="309" r="1.45" fill="#fff" stroke="#2a2a2a" stroke-width="0.55"/>
<circle cx="263.55" cy="309" r="1.45" fill="#fff" stroke="#2a2a2a" stroke-width="0.55"/>
<circle cx="260.75" cy="313" r="1.45" fill="#fff" stroke="#2a2a2a" stroke-width="0.55"/>
<circle cx="257.95" cy="319.1" r="1.45" fill="#fff" stroke="#2a2a2a" stroke-width="0.55"/>
<circle cx="263.55" cy="319.1" r="1.45" fill="#fff" stroke="#2a2a2a" stroke-width="0.55"/>
<circle cx="260.75" cy="323" r="1.45" fill="#fff" stroke="#2a2a2a" stroke-width="0.55"/>
<line x1="282.85" y1="312.2" x2="282.85" y2="326.2" stroke="#1b1b1b" stroke-width="0.7"/>
<line x1="279.85" y1="312.2" x2="285.85" y2="312.2" stroke="#1b1b1b" stroke-width="0.7"/>
<line x1="279.85" y1="326.2" x2="285.85" y2="326.2" stroke="#1b1b1b" stroke-width="0.7"/>
<circle cx="282.85" cy="309" r="1.45" fill="#fff" stroke="#2a2a2a" stroke-width="0.55"/>
<circle cx="282.85" cy="313" r="1.45" fill="#fff" stroke="#2a2a2a" stroke-width="0.55"/>
<circle cx="282.85" cy="319.1" r="1.45" fill="#fff" stroke="#2a2a2a" stroke-width="0.55"/>
<circle cx="276.85" cy="323" r="1.45" fill="#fff" stroke="#2a2a2a" stroke-width="0.55"/>
<circle cx="282.85" cy="323" r="1.45" fill="#fff" stroke="#2a2a2a" stroke-width="0.55"/>
<circle cx="288.85" cy="323" r="1.45" fill="#fff" stroke="#2a2a2a" stroke-width="0.55"/>
<line x1="305.15" y1="325" x2="305.15" y2="337.1" stroke="#1b1b1b" stroke-width="0.7"/>
<line x1="302.15" y1="325" x2="308.15" y2="325" stroke="#1b1b1b" stroke-width="0.7"/>
<line x1="302.15" y1="337.1" x2="308.15" y2="337.1" stroke="#1b1b1b" stroke-width="0.7"/>
<circle cx="302.35" cy="323" r="1.45" fill="#fff" stroke="#2a2a2a" stroke-width="0.55"/>
<circle cx="307.95" cy="323" r="1.45" fill="#fff" stroke="#2a2a2a" stroke-width="0.55"/>
<circle cx="299.15" cy="333.1" r="1.45" fill="#fff" stroke="#2a2a2a" stroke-width="0.55"/>
<circle cx="305.15" cy="333.1" r="1.45" fill="#fff" stroke="#2a2a2a" stroke-width="0.55"/>
<circle cx="311.15" cy="333.1" r="1.45" fill="#fff" stroke="#2a2a2a" stroke-width="0.55"/>
<circle cx="305.15" cy="338.7" r="1.45" fill="#fff" stroke="#2a2a2a" stroke-width="0.55"/>
<line x1="327.35" y1="325" x2="327.35" y2="334.4" stroke="#1b1b1b" stroke-width="0.7"/>
<line x1="324.35" y1="325" x2="330.35" y2="325" stroke="#1b1b1b" stroke-width="0.7"/>
<line x1="324.35" y1="334.4" x2="330.35" y2="334.4" stroke="#1b1b1b" stroke-width="0.7"/>
<circle cx="324.55" cy="323" r="1.45" fill="#fff" stroke="#2a2a2a" stroke-width="0.55"/>
<circle cx="330.15" cy="323" r="1.45" fill="#fff" stroke="#2a2a2a" stroke-width="0.55"/>
<circle cx="327.35" cy="328.8" r="1.45" fill="#fff" stroke="#2a2a2a" stroke-width="0.55"/>
<circle cx="321.35" cy="333.1" r="1.45" fill="#fff" stroke="#2a2a2a" stroke-width="0.55"/>
<circle cx="327.35" cy="333.1" r="1.45" fill="#fff" stroke="#2a2a2a" stroke-width="0.55"/>
<circle cx="333.35" cy="333.1" r="1.45" fill="#fff" stroke="#2a2a2a" stroke-width="0.55"/>
<line x1="349.4" y1="340" x2="349.4" y2="352.7" stroke="#1b1b1b" stroke-width="0.7"/>
<line x1="346.4" y1="340" x2="352.4" y2="340" stroke="#1b1b1b" stroke-width="0.7"/>
<line x1="346.4" y1="352.7" x2="352.4" y2="352.7" stroke="#1b1b1b" stroke-width="0.7"/>
<circle cx="349.4" cy="338.7" r="1.45" fill="#fff" stroke="#2a2a2a" stroke-width="0.55"/>
<circle cx="346.5" cy="342.7" r="1.45" fill="#fff" stroke="#2a2a2a" stroke-width="0.55"/>
<circle cx="352.3" cy="342.7" r="1.45" fill="#fff" stroke="#2a2a2a" stroke-width="0.55"/>
<circle cx="343.4" cy="352.4" r="1.45" fill="#fff" stroke="#2a2a2a" stroke-width="0.55"/>
<circle cx="349.4" cy="352.4" r="1.45" fill="#fff" stroke="#2a2a2a" stroke-width="0.55"/>
<circle cx="355.4" cy="352.4" r="1.45" fill="#fff" stroke="#2a2a2a" stroke-width="0.55"/>
<path d="M260.4 283.4V280.4H348.8V283.4" fill="none" stroke="#333" stroke-width="0.7"/>
<text transform="translate(307.8 278.5) scale(1 1.05)" font-size="3.96" font-weight="bold" stroke="#222" stroke-width="0.1" text-anchor="middle" fill="#222">p&lt;0.0001</text>
<path d="M260.4 288.6V285.6H326.3V288.6" fill="none" stroke="#333" stroke-width="0.7"/>
<text transform="translate(294 283.8) scale(1 1.05)" font-size="3.96" font-weight="bold" stroke="#222" stroke-width="0.1" text-anchor="middle" fill="#222">p=0.0012</text>
<path d="M260.4 294.2V291.2H305.4V294.2" fill="none" stroke="#333" stroke-width="0.7"/>
<text transform="translate(283 289.4) scale(1 1.05)" font-size="3.96" font-weight="bold" stroke="#222" stroke-width="0.1" text-anchor="middle" fill="#222">p=0.0067</text>
<path d="M260.4 301.1V298.1H283V301.1" fill="none" stroke="#333" stroke-width="0.7"/>
<text transform="translate(271 296.3) scale(1 1.05)" font-size="3.96" font-weight="bold" stroke="#222" stroke-width="0.1" text-anchor="middle" fill="#222">p=0.7727</text>
<path d="M283 301.1V298.1H327.9V301.1" fill="none" stroke="#333" stroke-width="0.7"/>
<text transform="translate(307 296.3) scale(1 1.05)" font-size="3.96" font-weight="bold" stroke="#222" stroke-width="0.1" text-anchor="middle" fill="#222">p=0.0388</text>
<path d="M283 306.4V303.4H305.4V306.4" fill="none" stroke="#333" stroke-width="0.7"/>
<text transform="translate(295.8 301.6) scale(1 1.05)" font-size="3.96" font-weight="bold" stroke="#222" stroke-width="0.1" text-anchor="middle" fill="#222">p=0.0212</text>
<text transform="translate(536.9 269.5) scale(1 1.05)" font-size="9.45" font-weight="bold" stroke="#1a1a1a" stroke-width="0.22" text-anchor="middle" fill="#1a1a1a">Serum HI</text>
<line x1="437.7" y1="279.1" x2="437.7" y2="376.7" stroke="#1b1b1b" stroke-width="1.4"/>
<line x1="433.2" y1="279.7" x2="437.7" y2="279.7" stroke="#1b1b1b" stroke-width="1.3"/>
<text transform="translate(432.7 282.08) scale(1 1.05)" font-size="6.6" font-weight="bold" stroke="#1a1a1a" stroke-width="0.17" text-anchor="end" fill="#1a1a1a">5120</text>
<line x1="433.2" y1="291.75" x2="437.7" y2="291.75" stroke="#1b1b1b" stroke-width="1.3"/>
<text transform="translate(432.7 294.13) scale(1 1.05)" font-size="6.6" font-weight="bold" stroke="#1a1a1a" stroke-width="0.17" text-anchor="end" fill="#1a1a1a">2560</text>
<line x1="433.2" y1="303.8" x2="437.7" y2="303.8" stroke="#1b1b1b" stroke-width="1.3"/>
<text transform="translate(432.7 306.18) scale(1 1.05)" font-size="6.6" font-weight="bold" stroke="#1a1a1a" stroke-width="0.17" text-anchor="end" fill="#1a1a1a">1280</text>
<line x1="433.2" y1="315.85" x2="437.7" y2="315.85" stroke="#1b1b1b" stroke-width="1.3"/>
<text transform="translate(432.7 318.23) scale(1 1.05)" font-size="6.6" font-weight="bold" stroke="#1a1a1a" stroke-width="0.17" text-anchor="end" fill="#1a1a1a">640</text>
<line x1="433.2" y1="327.9" x2="437.7" y2="327.9" stroke="#1b1b1b" stroke-width="1.3"/>
<text transform="translate(432.7 330.28) scale(1 1.05)" font-size="6.6" font-weight="bold" stroke="#1a1a1a" stroke-width="0.17" text-anchor="end" fill="#1a1a1a">320</text>
<line x1="433.2" y1="339.95" x2="437.7" y2="339.95" stroke="#1b1b1b" stroke-width="1.3"/>
<text transform="translate(432.7 342.33) scale(1 1.05)" font-size="6.6" font-weight="bold" stroke="#1a1a1a" stroke-width="0.17" text-anchor="end" fill="#1a1a1a">160</text>
<line x1="433.2" y1="352" x2="437.7" y2="352" stroke="#1b1b1b" stroke-width="1.3"/>
<text transform="translate(432.7 354.38) scale(1 1.05)" font-size="6.6" font-weight="bold" stroke="#1a1a1a" stroke-width="0.17" text-anchor="end" fill="#1a1a1a">80</text>
<line x1="433.2" y1="364.05" x2="437.7" y2="364.05" stroke="#1b1b1b" stroke-width="1.3"/>
<text transform="translate(432.7 366.43) scale(1 1.05)" font-size="6.6" font-weight="bold" stroke="#1a1a1a" stroke-width="0.17" text-anchor="end" fill="#1a1a1a">40</text>
<line x1="433.2" y1="376.1" x2="437.7" y2="376.1" stroke="#1b1b1b" stroke-width="1.3"/>
<text transform="translate(432.7 378.48) scale(1 1.05)" font-size="6.6" font-weight="bold" stroke="#1a1a1a" stroke-width="0.17" text-anchor="end" fill="#1a1a1a">20</text>
<line x1="437.1" y1="376.1" x2="651.3" y2="376.1" stroke="#1b1b1b" stroke-width="1.5"/>
<text transform="translate(412.9 327.2) rotate(-90) scale(1 1.05)" font-size="7.3" font-weight="bold" stroke="#1a1a1a" stroke-width="0.18" text-anchor="middle" fill="#1a1a1a">Endpoint titer</text>
<line x1="452.9" y1="376.1" x2="452.9" y2="379.6" stroke="#1b1b1b" stroke-width="1.1"/>
<text transform="translate(452.9 386.5) scale(1 1.05)" font-size="6.6" font-weight="bold" stroke="#1a1a1a" stroke-width="0.17" text-anchor="middle" fill="#1a1a1a">21</text>
<line x1="475.74" y1="376.1" x2="475.74" y2="379.6" stroke="#1b1b1b" stroke-width="1.1"/>
<text transform="translate(475.74 386.5) scale(1 1.05)" font-size="6.6" font-weight="bold" stroke="#1a1a1a" stroke-width="0.17" text-anchor="middle" fill="#1a1a1a">42</text>
<line x1="498.58" y1="376.1" x2="498.58" y2="379.6" stroke="#1b1b1b" stroke-width="1.1"/>
<text transform="translate(498.58 386.5) scale(1 1.05)" font-size="6.6" font-weight="bold" stroke="#1a1a1a" stroke-width="0.17" text-anchor="middle" fill="#1a1a1a">63</text>
<line x1="521.42" y1="376.1" x2="521.42" y2="379.6" stroke="#1b1b1b" stroke-width="1.1"/>
<text transform="translate(521.42 386.5) scale(1 1.05)" font-size="6.6" font-weight="bold" stroke="#1a1a1a" stroke-width="0.17" text-anchor="middle" fill="#1a1a1a">84</text>
<line x1="544.26" y1="376.1" x2="544.26" y2="379.6" stroke="#1b1b1b" stroke-width="1.1"/>
<text transform="translate(544.26 386.5) scale(1 1.05)" font-size="6.6" font-weight="bold" stroke="#1a1a1a" stroke-width="0.17" text-anchor="middle" fill="#1a1a1a">105</text>
<line x1="567.1" y1="376.1" x2="567.1" y2="379.6" stroke="#1b1b1b" stroke-width="1.1"/>
<text transform="translate(567.1 386.5) scale(1 1.05)" font-size="6.6" font-weight="bold" stroke="#1a1a1a" stroke-width="0.17" text-anchor="middle" fill="#1a1a1a">126</text>
<line x1="589.94" y1="376.1" x2="589.94" y2="379.6" stroke="#1b1b1b" stroke-width="1.1"/>
<text transform="translate(589.94 386.5) scale(1 1.05)" font-size="6.6" font-weight="bold" stroke="#1a1a1a" stroke-width="0.17" text-anchor="middle" fill="#1a1a1a">147</text>
<line x1="612.78" y1="376.1" x2="612.78" y2="379.6" stroke="#1b1b1b" stroke-width="1.1"/>
<text transform="translate(612.78 386.5) scale(1 1.05)" font-size="6.6" font-weight="bold" stroke="#1a1a1a" stroke-width="0.17" text-anchor="middle" fill="#1a1a1a">168</text>
<line x1="635.62" y1="376.1" x2="635.62" y2="379.6" stroke="#1b1b1b" stroke-width="1.1"/>
<text transform="translate(635.62 386.5) scale(1 1.05)" font-size="6.6" font-weight="bold" stroke="#1a1a1a" stroke-width="0.17" text-anchor="middle" fill="#1a1a1a">189</text>
<text transform="translate(542.9 396.3) scale(1 1.05)" font-size="7.6" font-weight="bold" stroke="#1a1a1a" stroke-width="0.19" text-anchor="middle" fill="#1a1a1a">Days</text>
<line x1="452.9" y1="376.1" x2="635.62" y2="376.1" stroke="#8a8a8a" stroke-width="1.6"/>
<rect x="451.2" y="374.4" width="3.4" height="3.4" fill="#bbb" stroke="#555" stroke-width="0.6"/>
<rect x="474.04" y="374.4" width="3.4" height="3.4" fill="#bbb" stroke="#555" stroke-width="0.6"/>
<rect x="496.88" y="374.4" width="3.4" height="3.4" fill="#bbb" stroke="#555" stroke-width="0.6"/>
<rect x="519.72" y="374.4" width="3.4" height="3.4" fill="#bbb" stroke="#555" stroke-width="0.6"/>
<rect x="542.56" y="374.4" width="3.4" height="3.4" fill="#bbb" stroke="#555" stroke-width="0.6"/>
<rect x="565.4" y="374.4" width="3.4" height="3.4" fill="#bbb" stroke="#555" stroke-width="0.6"/>
<rect x="588.24" y="374.4" width="3.4" height="3.4" fill="#bbb" stroke="#555" stroke-width="0.6"/>
<rect x="611.08" y="374.4" width="3.4" height="3.4" fill="#bbb" stroke="#555" stroke-width="0.6"/>
<rect x="633.92" y="374.4" width="3.4" height="3.4" fill="#bbb" stroke="#555" stroke-width="0.6"/>
<line x1="452.9" y1="320.9" x2="452.9" y2="329.9" stroke="#F0A055" stroke-width="0.8"/>
<line x1="450.7" y1="320.9" x2="455.1" y2="320.9" stroke="#F0A055" stroke-width="0.8"/>
<line x1="450.7" y1="329.9" x2="455.1" y2="329.9" stroke="#F0A055" stroke-width="0.8"/>
<line x1="475.74" y1="290.3" x2="475.74" y2="302.3" stroke="#F0A055" stroke-width="0.8"/>
<line x1="473.54" y1="290.3" x2="477.94" y2="290.3" stroke="#F0A055" stroke-width="0.8"/>
<line x1="473.54" y1="302.3" x2="477.94" y2="302.3" stroke="#F0A055" stroke-width="0.8"/>
<line x1="498.58" y1="291.9" x2="498.58" y2="303.9" stroke="#F0A055" stroke-width="0.8"/>
<line x1="496.38" y1="291.9" x2="500.78" y2="291.9" stroke="#F0A055" stroke-width="0.8"/>
<line x1="496.38" y1="303.9" x2="500.78" y2="303.9" stroke="#F0A055" stroke-width="0.8"/>
<line x1="521.42" y1="290.3" x2="521.42" y2="306.3" stroke="#F0A055" stroke-width="0.8"/>
<line x1="519.22" y1="290.3" x2="523.62" y2="290.3" stroke="#F0A055" stroke-width="0.8"/>
<line x1="519.22" y1="306.3" x2="523.62" y2="306.3" stroke="#F0A055" stroke-width="0.8"/>
<line x1="544.26" y1="292.4" x2="544.26" y2="306.4" stroke="#F0A055" stroke-width="0.8"/>
<line x1="542.06" y1="292.4" x2="546.46" y2="292.4" stroke="#F0A055" stroke-width="0.8"/>
<line x1="542.06" y1="306.4" x2="546.46" y2="306.4" stroke="#F0A055" stroke-width="0.8"/>
<line x1="567.1" y1="295.8" x2="567.1" y2="307.8" stroke="#F0A055" stroke-width="0.8"/>
<line x1="564.9" y1="295.8" x2="569.3" y2="295.8" stroke="#F0A055" stroke-width="0.8"/>
<line x1="564.9" y1="307.8" x2="569.3" y2="307.8" stroke="#F0A055" stroke-width="0.8"/>
<line x1="589.94" y1="295.8" x2="589.94" y2="307.8" stroke="#F0A055" stroke-width="0.8"/>
<line x1="587.74" y1="295.8" x2="592.14" y2="295.8" stroke="#F0A055" stroke-width="0.8"/>
<line x1="587.74" y1="307.8" x2="592.14" y2="307.8" stroke="#F0A055" stroke-width="0.8"/>
<line x1="612.78" y1="301.9" x2="612.78" y2="309.9" stroke="#F0A055" stroke-width="0.8"/>
<line x1="610.58" y1="301.9" x2="614.98" y2="301.9" stroke="#F0A055" stroke-width="0.8"/>
<line x1="610.58" y1="309.9" x2="614.98" y2="309.9" stroke="#F0A055" stroke-width="0.8"/>
<line x1="635.62" y1="303.8" x2="635.62" y2="311.8" stroke="#F0A055" stroke-width="0.8"/>
<line x1="633.42" y1="303.8" x2="637.82" y2="303.8" stroke="#F0A055" stroke-width="0.8"/>
<line x1="633.42" y1="311.8" x2="637.82" y2="311.8" stroke="#F0A055" stroke-width="0.8"/>
<line x1="452.9" y1="339" x2="452.9" y2="351" stroke="#9C6FD6" stroke-width="0.8"/>
<line x1="450.7" y1="339" x2="455.1" y2="339" stroke="#9C6FD6" stroke-width="0.8"/>
<line x1="450.7" y1="351" x2="455.1" y2="351" stroke="#9C6FD6" stroke-width="0.8"/>
<line x1="475.74" y1="308.6" x2="475.74" y2="322.6" stroke="#9C6FD6" stroke-width="0.8"/>
<line x1="473.54" y1="308.6" x2="477.94" y2="308.6" stroke="#9C6FD6" stroke-width="0.8"/>
<line x1="473.54" y1="322.6" x2="477.94" y2="322.6" stroke="#9C6FD6" stroke-width="0.8"/>
<line x1="498.58" y1="307.5" x2="498.58" y2="319.5" stroke="#9C6FD6" stroke-width="0.8"/>
<line x1="496.38" y1="307.5" x2="500.78" y2="307.5" stroke="#9C6FD6" stroke-width="0.8"/>
<line x1="496.38" y1="319.5" x2="500.78" y2="319.5" stroke="#9C6FD6" stroke-width="0.8"/>
<line x1="521.42" y1="305" x2="521.42" y2="321" stroke="#9C6FD6" stroke-width="0.8"/>
<line x1="519.22" y1="305" x2="523.62" y2="305" stroke="#9C6FD6" stroke-width="0.8"/>
<line x1="519.22" y1="321" x2="523.62" y2="321" stroke="#9C6FD6" stroke-width="0.8"/>
<line x1="544.26" y1="306.3" x2="544.26" y2="322.3" stroke="#9C6FD6" stroke-width="0.8"/>
<line x1="542.06" y1="306.3" x2="546.46" y2="306.3" stroke="#9C6FD6" stroke-width="0.8"/>
<line x1="542.06" y1="322.3" x2="546.46" y2="322.3" stroke="#9C6FD6" stroke-width="0.8"/>
<line x1="567.1" y1="307" x2="567.1" y2="323" stroke="#9C6FD6" stroke-width="0.8"/>
<line x1="564.9" y1="307" x2="569.3" y2="307" stroke="#9C6FD6" stroke-width="0.8"/>
<line x1="564.9" y1="323" x2="569.3" y2="323" stroke="#9C6FD6" stroke-width="0.8"/>
<line x1="589.94" y1="309.4" x2="589.94" y2="325.4" stroke="#9C6FD6" stroke-width="0.8"/>
<line x1="587.74" y1="309.4" x2="592.14" y2="309.4" stroke="#9C6FD6" stroke-width="0.8"/>
<line x1="587.74" y1="325.4" x2="592.14" y2="325.4" stroke="#9C6FD6" stroke-width="0.8"/>
<line x1="612.78" y1="314.1" x2="612.78" y2="324.1" stroke="#9C6FD6" stroke-width="0.8"/>
<line x1="610.58" y1="314.1" x2="614.98" y2="314.1" stroke="#9C6FD6" stroke-width="0.8"/>
<line x1="610.58" y1="324.1" x2="614.98" y2="324.1" stroke="#9C6FD6" stroke-width="0.8"/>
<line x1="635.62" y1="316.8" x2="635.62" y2="326.8" stroke="#9C6FD6" stroke-width="0.8"/>
<line x1="633.42" y1="316.8" x2="637.82" y2="316.8" stroke="#9C6FD6" stroke-width="0.8"/>
<line x1="633.42" y1="326.8" x2="637.82" y2="326.8" stroke="#9C6FD6" stroke-width="0.8"/>
<path d="M452.9 325.4 L475.74 296.3 L498.58 297.9 L521.42 298.3 L544.26 299.4 L567.1 301.8 L589.94 301.8 L612.78 305.9 L635.62 307.8" fill="none" stroke="#F0A055" stroke-width="1"/>
<path d="M452.9 345 L475.74 315.6 L498.58 313.5 L521.42 313 L544.26 314.3 L567.1 315 L589.94 317.4 L612.78 319.1 L635.62 321.8" fill="none" stroke="#9C6FD6" stroke-width="1"/>
<circle cx="452.9" cy="325.4" r="1.9" fill="#EE9A45" stroke="#6a3f12" stroke-width="0.6"/>
<circle cx="475.74" cy="296.3" r="1.9" fill="#EE9A45" stroke="#6a3f12" stroke-width="0.6"/>
<circle cx="498.58" cy="297.9" r="1.9" fill="#EE9A45" stroke="#6a3f12" stroke-width="0.6"/>
<circle cx="521.42" cy="298.3" r="1.9" fill="#EE9A45" stroke="#6a3f12" stroke-width="0.6"/>
<circle cx="544.26" cy="299.4" r="1.9" fill="#EE9A45" stroke="#6a3f12" stroke-width="0.6"/>
<circle cx="567.1" cy="301.8" r="1.9" fill="#EE9A45" stroke="#6a3f12" stroke-width="0.6"/>
<circle cx="589.94" cy="301.8" r="1.9" fill="#EE9A45" stroke="#6a3f12" stroke-width="0.6"/>
<circle cx="612.78" cy="305.9" r="1.9" fill="#EE9A45" stroke="#6a3f12" stroke-width="0.6"/>
<circle cx="635.62" cy="307.8" r="1.9" fill="#EE9A45" stroke="#6a3f12" stroke-width="0.6"/>
<path d="M452.9 342.7 L450.8 346.6 L455 346.6 Z" fill="#9C6FD6" stroke="#3e2a60" stroke-width="0.6"/>
<path d="M475.74 313.3 L473.64 317.2 L477.84 317.2 Z" fill="#9C6FD6" stroke="#3e2a60" stroke-width="0.6"/>
<path d="M498.58 311.2 L496.48 315.1 L500.68 315.1 Z" fill="#9C6FD6" stroke="#3e2a60" stroke-width="0.6"/>
<path d="M521.42 310.7 L519.32 314.6 L523.52 314.6 Z" fill="#9C6FD6" stroke="#3e2a60" stroke-width="0.6"/>
<path d="M544.26 312 L542.16 315.9 L546.36 315.9 Z" fill="#9C6FD6" stroke="#3e2a60" stroke-width="0.6"/>
<path d="M567.1 312.7 L565 316.6 L569.2 316.6 Z" fill="#9C6FD6" stroke="#3e2a60" stroke-width="0.6"/>
<path d="M589.94 315.1 L587.84 319 L592.04 319 Z" fill="#9C6FD6" stroke="#3e2a60" stroke-width="0.6"/>
<path d="M612.78 316.8 L610.68 320.7 L614.88 320.7 Z" fill="#9C6FD6" stroke="#3e2a60" stroke-width="0.6"/>
<path d="M635.62 319.5 L633.52 323.4 L637.72 323.4 Z" fill="#9C6FD6" stroke="#3e2a60" stroke-width="0.6"/>
<text transform="translate(449.3 319.1) scale(1 1.05)" font-size="4.29" font-weight="bold" stroke="#222" stroke-width="0.11" text-anchor="middle" fill="#222">p=0.0082</text>
<text transform="translate(477.24 289.6) scale(1 1.05)" font-size="4.29" font-weight="bold" stroke="#222" stroke-width="0.11" text-anchor="middle" fill="#222">p=0.0004</text>
<text transform="translate(500.08 291.7) scale(1 1.05)" font-size="4.29" font-weight="bold" stroke="#222" stroke-width="0.11" text-anchor="middle" fill="#222">p=0.0016</text>
<text transform="translate(522.92 290.6) scale(1 1.05)" font-size="4.29" font-weight="bold" stroke="#222" stroke-width="0.11" text-anchor="middle" fill="#222">p=0.0141</text>
<text transform="translate(545.76 292) scale(1 1.05)" font-size="4.29" font-weight="bold" stroke="#222" stroke-width="0.11" text-anchor="middle" fill="#222">p=0.0088</text>
<text transform="translate(568.6 294.3) scale(1 1.05)" font-size="4.29" font-weight="bold" stroke="#222" stroke-width="0.11" text-anchor="middle" fill="#222">p=0.0294</text>
<text transform="translate(591.44 296) scale(1 1.05)" font-size="4.29" font-weight="bold" stroke="#222" stroke-width="0.11" text-anchor="middle" fill="#222">p=0.0025</text>
<text transform="translate(614.28 300.3) scale(1 1.05)" font-size="4.29" font-weight="bold" stroke="#222" stroke-width="0.11" text-anchor="middle" fill="#222">p=0.0007</text>
<text transform="translate(637.12 302) scale(1 1.05)" font-size="4.29" font-weight="bold" stroke="#222" stroke-width="0.11" text-anchor="middle" fill="#222">p=0.0005</text>
<line x1="573.5" y1="348.3" x2="583.1" y2="348.3" stroke="#F0A055" stroke-width="0.9"/>
<circle cx="578.3" cy="348.3" r="2.2" fill="#F2A85E" stroke="#7a4a1a" stroke-width="0.6"/>
<text transform="translate(588.6 350.6) scale(1 1.05)" font-size="6.3" text-anchor="start" fill="#222">Low DIPs</text>
<line x1="573.5" y1="357" x2="583.1" y2="357" stroke="#9C6FD6" stroke-width="0.9"/>
<path d="M578.3 354.6 L576 358.7 L580.6 358.7 Z" fill="#9C6FD6" stroke="#3e2a60" stroke-width="0.6"/>
<text transform="translate(588.6 359.3) scale(1 1.05)" font-size="6.3" text-anchor="start" fill="#222">High DIPs (same STV)</text>
<line x1="573.5" y1="365.7" x2="583.1" y2="365.7" stroke="#888" stroke-width="0.9"/>
<rect x="576.3" y="363.7" width="4" height="4" fill="#bbb" stroke="#555" stroke-width="0.6"/>
<text transform="translate(588.6 368) scale(1 1.05)" font-size="6.3" text-anchor="start" fill="#222">Placebo</text>
<g transform="translate(10 28) scale(0.08759)"><path d="M250 190 C190 168 120 142 72 146 C48 150 52 172 80 192 C98 205 112 214 122 224" fill="none" stroke="#D8928E" stroke-width="15" stroke-linecap="round"/><path d="M248 242 L214 256 L210 270 L252 270 Z" fill="#E4A7A3"/><path d="M318 318 L322 388 C318 398 306 404 298 410 C320 414 345 414 362 412 C356 402 353 392 354 382 L358 322 Z" fill="#E7E3DF"/><path d="M300 402 C318 396 345 396 360 402 L364 414 L296 414 Z" fill="#E6A9A5"/><path d="M478 296 L484 360 C480 370 476 376 486 382 L528 384 C518 374 512 364 510 352 L506 286 Z" fill="#E7E3DF"/><path d="M482 366 C495 362 510 362 518 368 L530 384 L482 384 Z" fill="#E6A9A5"/><path d="M265 302 C232 272 232 192 262 150 C288 114 330 100 372 97 L470 94 C522 94 562 114 586 140 C602 150 606 162 596 171 C580 186 566 196 556 212 C546 242 530 276 500 296 C460 322 400 336 340 331 C300 327 280 316 265 302 Z" fill="#E9E7E4"/><path d="M265 302 C232 272 232 192 262 150 C270 200 290 260 340 300 C380 320 440 318 500 296 C460 322 400 336 340 331 C300 327 280 316 265 302 Z" fill="#D8D3CE"/><path d="M330 110 C400 100 470 100 520 110 C480 125 420 130 340 125 Z" fill="#F2F1EF"/><ellipse cx="392" cy="102" rx="43" ry="58" transform="rotate(-8 392 102)" fill="#E3A3A1"/><ellipse cx="398" cy="108" rx="26" ry="42" transform="rotate(-8 398 108)" fill="#DB9896"/><path d="M502 98 L508 40 C538 52 560 80 570 112 C548 104 525 100 502 98 Z" fill="#EFE2E0" stroke="#DDB8B5" stroke-width="6"/><ellipse cx="492" cy="146" rx="13" ry="9" transform="rotate(-20 492 146)" fill="#C0272D"/><circle cx="596" cy="156" r="10" fill="#E9A2A2"/></g>
<line x1="71" y1="51.4" x2="379" y2="51.4" stroke="#1b1b1b" stroke-width="1.4"/>
<path d="M378 48.4 L384 51.4 L378 54.4 Z" fill="#1b1b1b" stroke="none" stroke-width="1"/>
<line x1="71" y1="46" x2="71" y2="51.4" stroke="#1b1b1b" stroke-width="1.2"/>
<line x1="141.6" y1="46" x2="141.6" y2="51.4" stroke="#1b1b1b" stroke-width="1.2"/>
<line x1="174.6" y1="46" x2="174.6" y2="51.4" stroke="#1b1b1b" stroke-width="1.2"/>
<line x1="208.2" y1="46" x2="208.2" y2="51.4" stroke="#1b1b1b" stroke-width="1.2"/>
<line x1="270" y1="46" x2="270" y2="51.4" stroke="#1b1b1b" stroke-width="1.2"/>
<line x1="356.8" y1="46" x2="356.8" y2="51.4" stroke="#1b1b1b" stroke-width="1.2"/>
<rect x="313.3" y="47.4" width="4" height="8" fill="#fff"/>
<line x1="313.6" y1="47.6" x2="313.6" y2="55.2" stroke="#1b1b1b" stroke-width="1"/>
<line x1="317" y1="47.6" x2="317" y2="55.2" stroke="#1b1b1b" stroke-width="1"/>
<text transform="translate(71 63.2) scale(1 1.05)" font-size="9.35" text-anchor="middle" fill="#222">0</text>
<text transform="translate(141.6 63.2) scale(1 1.05)" font-size="9.35" text-anchor="middle" fill="#222">21</text>
<text transform="translate(174.6 63.2) scale(1 1.05)" font-size="9.35" text-anchor="middle" fill="#222">31</text>
<text transform="translate(208.2 63.2) scale(1 1.05)" font-size="9.35" text-anchor="middle" fill="#222">42</text>
<text transform="translate(270.6 63.2) scale(1 1.05)" font-size="9.35" text-anchor="middle" fill="#222">63</text>
<text transform="translate(354.4 63.2) scale(1 1.05)" font-size="9.35" text-anchor="middle" fill="#222">189</text>
<text transform="translate(315.3 63) scale(1 1.05)" font-size="9.35" text-anchor="middle" fill="#222">...</text>
<text transform="translate(376.3 63.5) scale(1 1.05)" font-size="9.35" text-anchor="start" fill="#222">Day</text>
<text transform="translate(62.6 19.9) scale(1 1.05)" font-size="9.35" text-anchor="start" fill="#222">Prime</text>
<text transform="translate(62.6 30.7) scale(1 1.05)" font-size="9.35" text-anchor="start" fill="#222">IN</text>
<text transform="translate(133.6 19.9) scale(1 1.05)" font-size="9.35" text-anchor="start" fill="#222">Boost</text>
<text transform="translate(134.6 30.7) scale(1 1.05)" font-size="9.35" text-anchor="start" fill="#222">IN</text>
<g transform="translate(70.8 41.9) rotate(-44.68) scale(1.01)"><line x1="0" y1="0" x2="10" y2="0" stroke="#3F7299" stroke-width="0.6"/><path d="M9.8 -0.9 L12.6 -1.6 L12.6 1.6 L9.8 0.9 Z" fill="none" stroke="#3F7299" stroke-width="0.5"/><rect x="12.8" y="-2.5" width="17.4" height="5" rx="1.6" fill="#F4F8FB" stroke="#3F7299" stroke-width="0.7"/><rect x="14.4" y="-1.8" width="7.6" height="3.6" rx="1" fill="#4C9CD8"/><line x1="23.5" y1="-0.5" x2="23.5" y2="1.9" stroke="#3F7299" stroke-width="0.4"/><line x1="25" y1="-0.5" x2="25" y2="1.9" stroke="#3F7299" stroke-width="0.4"/><line x1="26.5" y1="-0.5" x2="26.5" y2="1.9" stroke="#3F7299" stroke-width="0.4"/><line x1="28" y1="-0.5" x2="28" y2="1.9" stroke="#3F7299" stroke-width="0.4"/><line x1="30.2" y1="-4" x2="30.2" y2="4" stroke="#3F7299" stroke-width="1.0"/><line x1="30.2" y1="0" x2="35.6" y2="0" stroke="#3F7299" stroke-width="1.1"/><line x1="35.8" y1="-3.2" x2="35.8" y2="3.2" stroke="#3F7299" stroke-width="1.2"/></g>
<g transform="translate(141 41.8) rotate(-45.44) scale(0.98)"><line x1="0" y1="0" x2="10" y2="0" stroke="#3F7299" stroke-width="0.6"/><path d="M9.8 -0.9 L12.6 -1.6 L12.6 1.6 L9.8 0.9 Z" fill="none" stroke="#3F7299" stroke-width="0.5"/><rect x="12.8" y="-2.5" width="17.4" height="5" rx="1.6" fill="#F4F8FB" stroke="#3F7299" stroke-width="0.7"/><rect x="14.4" y="-1.8" width="7.6" height="3.6" rx="1" fill="#4C9CD8"/><line x1="23.5" y1="-0.5" x2="23.5" y2="1.9" stroke="#3F7299" stroke-width="0.4"/><line x1="25" y1="-0.5" x2="25" y2="1.9" stroke="#3F7299" stroke-width="0.4"/><line x1="26.5" y1="-0.5" x2="26.5" y2="1.9" stroke="#3F7299" stroke-width="0.4"/><line x1="28" y1="-0.5" x2="28" y2="1.9" stroke="#3F7299" stroke-width="0.4"/><line x1="30.2" y1="-4" x2="30.2" y2="4" stroke="#3F7299" stroke-width="1.0"/><line x1="30.2" y1="0" x2="35.6" y2="0" stroke="#3F7299" stroke-width="1.1"/><line x1="35.8" y1="-3.2" x2="35.8" y2="3.2" stroke="#3F7299" stroke-width="1.2"/></g>
<path d="M141.6 67.7 C143.25 71.95 147.1 75.9 147.1 79.2 A5.5 5.5 0 1 1 136.1 79.2 C136.1 75.9 139.95 71.95 141.6 67.7 Z" fill="#A3222D"/>
<path d="M146.28 78.7 C145.45 83.6 141.6 84.42 138.57 83.33" fill="none" stroke="#7A121C" stroke-width="1.2" opacity="0.7"/>
<path d="M208.2 67.7 C209.85 71.95 213.7 75.9 213.7 79.2 A5.5 5.5 0 1 1 202.7 79.2 C202.7 75.9 206.55 71.95 208.2 67.7 Z" fill="#A3222D"/>
<path d="M212.88 78.7 C212.05 83.6 208.2 84.42 205.17 83.33" fill="none" stroke="#7A121C" stroke-width="1.2" opacity="0.7"/>
<path d="M315.5 78.2 C317.07 82.6 320.75 87.4 320.75 90.55 A5.25 5.25 0 1 1 310.25 90.55 C310.25 87.4 313.93 82.6 315.5 78.2 Z" fill="#A3222D"/>
<path d="M319.96 90.05 C319.18 94.75 315.5 95.54 312.61 94.49" fill="none" stroke="#7A121C" stroke-width="1.2" opacity="0.7"/>
<g transform="translate(165.9 67.2) scale(0.96 0.97)"><path d="M0 4.6 C0.2 1.7 2.6 0.3 5.6 0.1 C9.6 -0.2 14.6 1.2 17.6 3.7 C21.1 6.7 22.7 10.2 22.5 12.7 C22.3 15.7 20.6 17.9 17.1 18 C14.6 17.9 13.6 16.2 12.1 14.2 C10.6 12.2 8.6 10.2 5.9 9.3 C3.1 8.5 1.1 7.7 0 4.6 Z" fill="#8C373B"/><path d="M1.2 4.6 C1.4 2.3 3.4 1.2 6 1.1 C9.6 0.9 14 2.2 16.8 4.5 C19.8 7.2 21 10.2 20.8 12.4 C20.6 14.8 19.4 16.2 17.4 16.3 C15.6 16.2 14.6 14.8 13.2 13 C11.6 11 9.4 9 6.4 8.2 C3.6 7.4 1.8 6.6 1.2 4.6 Z" fill="#974649"/></g>
<text transform="translate(179.5 94.9) scale(1 1.05)" font-size="9.35" text-anchor="middle" fill="#222">NALFs</text>
<text transform="translate(179.5 104.8) scale(1 1.05)" font-size="9.35" text-anchor="middle" fill="#222">BALFs</text>
<text transform="translate(268.3 94.9) scale(1 1.05)" font-size="9.35" text-anchor="middle" fill="#222">NALFs</text>
<text transform="translate(268.3 104.8) scale(1 1.05)" font-size="9.35" text-anchor="middle" fill="#222">BALFs</text>
<line x1="270" y1="84" x2="270" y2="70" stroke="#1b1b1b" stroke-width="1.1"/>
<path d="M267.2 70.5 L270 66 L272.8 70.5 Z" fill="#1b1b1b" stroke="none" stroke-width="1"/>
<path d="M271.8 66.2 Q271.8 69.6 273.5 69.6 H312.8 Q314.6 69.6 315.2 73.8 Q315.8 69.6 317.6 69.6 H356 Q357.7 69.6 357.7 66.2" fill="none" stroke="#444" stroke-width="0.9"/>
<text transform="translate(325 94.6) scale(1 1.05)" font-size="9.35" text-anchor="start" fill="#222">Every 21 days</text>
<path d="M429.15 59.2 V89.6 C429.15 93.6 433.8 97.6 435.8 98.6 C437.8 97.6 442.45 93.6 442.45 89.6 V59.2 Z" fill="#D9DFE3" stroke="#A6ACAF" stroke-width="1.1"/>
<path d="M431.35 61.2 V89.6" stroke="#EEF1F2" stroke-width="1.2" opacity="0.7"/>
<rect x="429.15" y="56" width="13.3" height="3.4" fill="#B8BDC0"/>
<path d="M426.2 53.2 H444.4 V56 H426.2 Z" fill="#E4E6E7" stroke="#A9AEB1" stroke-width="0.5"/>
<path d="M426.2 53.2 L424.6 55.6 L426.2 56 Z" fill="#C5C9CB"/>
<path d="M436.2 41 L440.8 45.6 L436.2 50.2 L431.6 45.6 Z" fill="#9C9DA1"/>
<text transform="translate(444.2 41.6) rotate(-45) scale(1 1.05)" font-size="6.8" text-anchor="start" fill="#2a2a2a">Placebo</text>
<path d="M467.15 59.2 V89.6 C467.15 93.6 471.8 97.6 473.8 98.6 C475.8 97.6 480.45 93.6 480.45 89.6 V59.2 Z" fill="#D9DFE3" stroke="#A6ACAF" stroke-width="1.1"/>
<path d="M469.35 61.2 V89.6" stroke="#EEF1F2" stroke-width="1.2" opacity="0.7"/>
<rect x="467.15" y="56" width="13.3" height="3.4" fill="#B8BDC0"/>
<path d="M464.2 53.2 H482.4 V56 H464.2 Z" fill="#E4E6E7" stroke="#A9AEB1" stroke-width="0.5"/>
<path d="M464.2 53.2 L462.6 55.6 L464.2 56 Z" fill="#C5C9CB"/>
<circle cx="477.6" cy="68.25" r="1.1" fill="#EE2020" stroke="#EE2020" stroke-width="0.1"/>
<circle cx="471.33" cy="86.37" r="1.1" fill="#EE2020" stroke="#EE2020" stroke-width="0.1"/>
<circle cx="476.81" cy="61.55" r="1.1" fill="#4DA6E8" stroke="#4DA6E8" stroke-width="0.1"/>
<circle cx="473.55" cy="94.01" r="1.1" fill="#EE2020" stroke="#EE2020" stroke-width="0.1"/>
<circle cx="477.4" cy="79.03" r="1.1" fill="#4DA6E8" stroke="#4DA6E8" stroke-width="0.1"/>
<circle cx="472.92" cy="63.39" r="1.1" fill="#EE2020" stroke="#EE2020" stroke-width="0.1"/>
<circle cx="471.28" cy="90.15" r="1.1" fill="#EE2020" stroke="#EE2020" stroke-width="0.1"/>
<circle cx="477.75" cy="74.7" r="1.1" fill="#EE2020" stroke="#EE2020" stroke-width="0.1"/>
<circle cx="470.73" cy="74.23" r="1.1" fill="#EE2020" stroke="#EE2020" stroke-width="0.1"/>
<circle cx="474.93" cy="71.39" r="1.1" fill="#EE2020" stroke="#EE2020" stroke-width="0.1"/>
<circle cx="471.81" cy="82.01" r="1.1" fill="#EE2020" stroke="#EE2020" stroke-width="0.1"/>
<circle cx="469.65" cy="62.07" r="1.1" fill="#EE2020" stroke="#EE2020" stroke-width="0.1"/>
<circle cx="475.33" cy="81.13" r="1.1" fill="#EE2020" stroke="#EE2020" stroke-width="0.1"/>
<circle cx="472.07" cy="66.51" r="1.1" fill="#EE2020" stroke="#EE2020" stroke-width="0.1"/>
<circle cx="476.53" cy="88.47" r="1.1" fill="#EE2020" stroke="#EE2020" stroke-width="0.1"/>
<circle cx="474.04" cy="76.71" r="1.1" fill="#EE2020" stroke="#EE2020" stroke-width="0.1"/>
<circle cx="475.12" cy="91.4" r="1.1" fill="#EE2020" stroke="#EE2020" stroke-width="0.1"/>
<circle cx="476.96" cy="85.28" r="1.1" fill="#EE2020" stroke="#EE2020" stroke-width="0.1"/>
<circle cx="470.27" cy="68.97" r="1.1" fill="#EE2020" stroke="#EE2020" stroke-width="0.1"/>
<circle cx="471.81" cy="78.86" r="1.1" fill="#EE2020" stroke="#EE2020" stroke-width="0.1"/>
<path d="M474.2 41 L478.8 45.6 L474.2 50.2 L469.6 45.6 Z" fill="#7FD93B"/>
<text transform="translate(482.1 41.2) rotate(-45) scale(1 1.05)" font-size="6.8" text-anchor="start" fill="#2a2a2a">High DIPs</text>
<text transform="translate(486.55 47.07) rotate(-45) scale(1 1.05)" font-size="6.8" text-anchor="start" fill="#2a2a2a">(same Total)</text>
<path d="M505.15 59.2 V89.6 C505.15 93.6 509.8 97.6 511.8 98.6 C513.8 97.6 518.45 93.6 518.45 89.6 V59.2 Z" fill="#D9DFE3" stroke="#A6ACAF" stroke-width="1.1"/>
<path d="M507.35 61.2 V89.6" stroke="#EEF1F2" stroke-width="1.2" opacity="0.7"/>
<rect x="505.15" y="56" width="13.3" height="3.4" fill="#B8BDC0"/>
<path d="M502.2 53.2 H520.4 V56 H502.2 Z" fill="#E4E6E7" stroke="#A9AEB1" stroke-width="0.5"/>
<path d="M502.2 53.2 L500.6 55.6 L502.2 56 Z" fill="#C5C9CB"/>
<circle cx="513.95" cy="81.69" r="1.1" fill="#EE2020" stroke="#EE2020" stroke-width="0.1"/>
<circle cx="512.28" cy="92.24" r="1.1" fill="#EE2020" stroke="#EE2020" stroke-width="0.1"/>
<circle cx="515.51" cy="70.39" r="1.1" fill="#EE2020" stroke="#EE2020" stroke-width="0.1"/>
<circle cx="509.27" cy="68.09" r="1.1" fill="#EE2020" stroke="#EE2020" stroke-width="0.1"/>
<circle cx="514.01" cy="64.75" r="1.1" fill="#4DA6E8" stroke="#4DA6E8" stroke-width="0.1"/>
<circle cx="515.74" cy="87.36" r="1.1" fill="#EE2020" stroke="#EE2020" stroke-width="0.1"/>
<circle cx="509.54" cy="76.63" r="1.1" fill="#EE2020" stroke="#EE2020" stroke-width="0.1"/>
<circle cx="508.83" cy="73.08" r="1.1" fill="#EE2020" stroke="#EE2020" stroke-width="0.1"/>
<circle cx="515.11" cy="61.26" r="1.1" fill="#EE2020" stroke="#EE2020" stroke-width="0.1"/>
<circle cx="511.63" cy="88.13" r="1.1" fill="#EE2020" stroke="#EE2020" stroke-width="0.1"/>
<circle cx="508.77" cy="86.39" r="1.1" fill="#EE2020" stroke="#EE2020" stroke-width="0.1"/>
<circle cx="515.85" cy="67.15" r="1.1" fill="#4DA6E8" stroke="#4DA6E8" stroke-width="0.1"/>
<circle cx="511.49" cy="62.15" r="1.1" fill="#EE2020" stroke="#EE2020" stroke-width="0.1"/>
<circle cx="507.77" cy="61.5" r="1.1" fill="#EE2020" stroke="#EE2020" stroke-width="0.1"/>
<circle cx="512.46" cy="79.09" r="1.1" fill="#EE2020" stroke="#EE2020" stroke-width="0.1"/>
<circle cx="512.72" cy="71.11" r="1.1" fill="#EE2020" stroke="#EE2020" stroke-width="0.1"/>
<circle cx="516.15" cy="73.6" r="1.1" fill="#4DA6E8" stroke="#4DA6E8" stroke-width="0.1"/>
<circle cx="508.48" cy="81.51" r="1.1" fill="#EE2020" stroke="#EE2020" stroke-width="0.1"/>
<circle cx="514.62" cy="76.43" r="1.1" fill="#4DA6E8" stroke="#4DA6E8" stroke-width="0.1"/>
<circle cx="515.95" cy="83.92" r="1.1" fill="#EE2020" stroke="#EE2020" stroke-width="0.1"/>
<path d="M512.2 41 L516.8 45.6 L512.2 50.2 L507.6 45.6 Z" fill="#EE8D89"/>
<text transform="translate(520.1 41.2) rotate(-45) scale(1 1.05)" font-size="6.8" text-anchor="start" fill="#2a2a2a">Middle DIPs</text>
<text transform="translate(524.55 47.07) rotate(-45) scale(1 1.05)" font-size="6.8" text-anchor="start" fill="#2a2a2a">(same Total)</text>
<path d="M543.15 59.2 V89.6 C543.15 93.6 547.8 97.6 549.8 98.6 C551.8 97.6 556.45 93.6 556.45 89.6 V59.2 Z" fill="#D9DFE3" stroke="#A6ACAF" stroke-width="1.1"/>
<path d="M545.35 61.2 V89.6" stroke="#EEF1F2" stroke-width="1.2" opacity="0.7"/>
<rect x="543.15" y="56" width="13.3" height="3.4" fill="#B8BDC0"/>
<path d="M540.2 53.2 H558.4 V56 H540.2 Z" fill="#E4E6E7" stroke="#A9AEB1" stroke-width="0.5"/>
<path d="M540.2 53.2 L538.6 55.6 L540.2 56 Z" fill="#C5C9CB"/>
<circle cx="552.47" cy="64.26" r="1.1" fill="#EE2020" stroke="#EE2020" stroke-width="0.1"/>
<circle cx="545.46" cy="84.17" r="1.1" fill="#4DA6E8" stroke="#4DA6E8" stroke-width="0.1"/>
<circle cx="552.67" cy="87.3" r="1.1" fill="#EE2020" stroke="#EE2020" stroke-width="0.1"/>
<circle cx="552.11" cy="76.67" r="1.1" fill="#EE2020" stroke="#EE2020" stroke-width="0.1"/>
<circle cx="549.03" cy="85.21" r="1.1" fill="#EE2020" stroke="#EE2020" stroke-width="0.1"/>
<circle cx="547.1" cy="71.47" r="1.1" fill="#4DA6E8" stroke="#4DA6E8" stroke-width="0.1"/>
<circle cx="547.68" cy="77.16" r="1.1" fill="#EE2020" stroke="#EE2020" stroke-width="0.1"/>
<circle cx="551.56" cy="82.41" r="1.1" fill="#4DA6E8" stroke="#4DA6E8" stroke-width="0.1"/>
<circle cx="551.25" cy="61.21" r="1.1" fill="#EE2020" stroke="#EE2020" stroke-width="0.1"/>
<circle cx="553.78" cy="67.54" r="1.1" fill="#4DA6E8" stroke="#4DA6E8" stroke-width="0.1"/>
<circle cx="552.49" cy="70.17" r="1.1" fill="#EE2020" stroke="#EE2020" stroke-width="0.1"/>
<circle cx="547.94" cy="82.09" r="1.1" fill="#EE2020" stroke="#EE2020" stroke-width="0.1"/>
<circle cx="549.27" cy="73.74" r="1.1" fill="#4DA6E8" stroke="#4DA6E8" stroke-width="0.1"/>
<circle cx="548.53" cy="88.98" r="1.1" fill="#EE2020" stroke="#EE2020" stroke-width="0.1"/>
<circle cx="547.1" cy="64.29" r="1.1" fill="#EE2020" stroke="#EE2020" stroke-width="0.1"/>
<circle cx="550.28" cy="67.55" r="1.1" fill="#EE2020" stroke="#EE2020" stroke-width="0.1"/>
<circle cx="552.2" cy="73.48" r="1.1" fill="#EE2020" stroke="#EE2020" stroke-width="0.1"/>
<circle cx="545.54" cy="66.86" r="1.1" fill="#4DA6E8" stroke="#4DA6E8" stroke-width="0.1"/>
<circle cx="546.11" cy="74.66" r="1.1" fill="#4DA6E8" stroke="#4DA6E8" stroke-width="0.1"/>
<circle cx="550.05" cy="92.5" r="1.1" fill="#4DA6E8" stroke="#4DA6E8" stroke-width="0.1"/>
<path d="M550.2 41 L554.8 45.6 L550.2 50.2 L545.6 45.6 Z" fill="#EF9B47"/>
<text transform="translate(558.2 41.6) rotate(-45) scale(1 1.05)" font-size="6.8" text-anchor="start" fill="#2a2a2a">Low DIPs</text>
<path d="M581.15 59.2 V89.6 C581.15 93.6 585.8 97.6 587.8 98.6 C589.8 97.6 594.45 93.6 594.45 89.6 V59.2 Z" fill="#D9DFE3" stroke="#A6ACAF" stroke-width="1.1"/>
<path d="M583.35 61.2 V89.6" stroke="#EEF1F2" stroke-width="1.2" opacity="0.7"/>
<rect x="581.15" y="56" width="13.3" height="3.4" fill="#B8BDC0"/>
<path d="M578.2 53.2 H596.4 V56 H578.2 Z" fill="#E4E6E7" stroke="#A9AEB1" stroke-width="0.5"/>
<path d="M578.2 53.2 L576.6 55.6 L578.2 56 Z" fill="#C5C9CB"/>
<circle cx="590.71" cy="66.01" r="1.1" fill="#EE2020" stroke="#EE2020" stroke-width="0.1"/>
<circle cx="588.46" cy="69.23" r="1.1" fill="#EE2020" stroke="#EE2020" stroke-width="0.1"/>
<circle cx="588.53" cy="67.15" r="1.1" fill="#EE2020" stroke="#EE2020" stroke-width="0.1"/>
<circle cx="583.91" cy="79.22" r="1.1" fill="#EE2020" stroke="#EE2020" stroke-width="0.1"/>
<circle cx="584.1" cy="69.91" r="1.1" fill="#4DA6E8" stroke="#4DA6E8" stroke-width="0.1"/>
<circle cx="591.83" cy="68.42" r="1.1" fill="#EE2020" stroke="#EE2020" stroke-width="0.1"/>
<circle cx="587.87" cy="63.11" r="1.1" fill="#EE2020" stroke="#EE2020" stroke-width="0.1"/>
<circle cx="586.6" cy="78.83" r="1.1" fill="#EE2020" stroke="#EE2020" stroke-width="0.1"/>
<circle cx="586.44" cy="69.5" r="1.1" fill="#EE2020" stroke="#EE2020" stroke-width="0.1"/>
<circle cx="591.81" cy="61.96" r="1.1" fill="#EE2020" stroke="#EE2020" stroke-width="0.1"/>
<circle cx="589.57" cy="82.13" r="1.1" fill="#4DA6E8" stroke="#4DA6E8" stroke-width="0.1"/>
<circle cx="586.66" cy="82.22" r="1.1" fill="#EE2020" stroke="#EE2020" stroke-width="0.1"/>
<circle cx="585.34" cy="65.27" r="1.1" fill="#EE2020" stroke="#EE2020" stroke-width="0.1"/>
<circle cx="589.26" cy="76.8" r="1.1" fill="#EE2020" stroke="#EE2020" stroke-width="0.1"/>
<circle cx="586.02" cy="76.11" r="1.1" fill="#EE2020" stroke="#EE2020" stroke-width="0.1"/>
<circle cx="591.15" cy="84.2" r="1.1" fill="#EE2020" stroke="#EE2020" stroke-width="0.1"/>
<circle cx="584.16" cy="63.5" r="1.1" fill="#EE2020" stroke="#EE2020" stroke-width="0.1"/>
<circle cx="591.78" cy="81.84" r="1.1" fill="#EE2020" stroke="#EE2020" stroke-width="0.1"/>
<circle cx="584.79" cy="68.07" r="1.1" fill="#EE2020" stroke="#EE2020" stroke-width="0.1"/>
<circle cx="584.69" cy="71.85" r="1.1" fill="#EE2020" stroke="#EE2020" stroke-width="0.1"/>
<circle cx="590.61" cy="71.35" r="1.1" fill="#EE2020" stroke="#EE2020" stroke-width="0.1"/>
<circle cx="591.14" cy="78.48" r="1.1" fill="#EE2020" stroke="#EE2020" stroke-width="0.1"/>
<circle cx="588.64" cy="84.08" r="1.1" fill="#EE2020" stroke="#EE2020" stroke-width="0.1"/>
<circle cx="586.9" cy="74.11" r="1.1" fill="#EE2020" stroke="#EE2020" stroke-width="0.1"/>
<circle cx="587" cy="93.32" r="1.1" fill="#EE2020" stroke="#EE2020" stroke-width="0.1"/>
<circle cx="592.19" cy="64.64" r="1.1" fill="#4DA6E8" stroke="#4DA6E8" stroke-width="0.1"/>
<circle cx="583.38" cy="77.3" r="1.1" fill="#4DA6E8" stroke="#4DA6E8" stroke-width="0.1"/>
<circle cx="583.99" cy="82.62" r="1.1" fill="#EE2020" stroke="#EE2020" stroke-width="0.1"/>
<circle cx="583.52" cy="84.96" r="1.1" fill="#EE2020" stroke="#EE2020" stroke-width="0.1"/>
<circle cx="585.91" cy="85.2" r="1.1" fill="#EE2020" stroke="#EE2020" stroke-width="0.1"/>
<circle cx="587.28" cy="65.2" r="1.1" fill="#EE2020" stroke="#EE2020" stroke-width="0.1"/>
<circle cx="588.56" cy="71.54" r="1.1" fill="#EE2020" stroke="#EE2020" stroke-width="0.1"/>
<circle cx="584.7" cy="61.21" r="1.1" fill="#EE2020" stroke="#EE2020" stroke-width="0.1"/>
<circle cx="590.71" cy="75.17" r="1.1" fill="#EE2020" stroke="#EE2020" stroke-width="0.1"/>
<circle cx="591.31" cy="88.83" r="1.1" fill="#EE2020" stroke="#EE2020" stroke-width="0.1"/>
<circle cx="591.86" cy="73.48" r="1.1" fill="#4DA6E8" stroke="#4DA6E8" stroke-width="0.1"/>
<circle cx="586.31" cy="89.44" r="1.1" fill="#EE2020" stroke="#EE2020" stroke-width="0.1"/>
<circle cx="589.58" cy="79.97" r="1.1" fill="#4DA6E8" stroke="#4DA6E8" stroke-width="0.1"/>
<circle cx="584.05" cy="86.94" r="1.1" fill="#4DA6E8" stroke="#4DA6E8" stroke-width="0.1"/>
<circle cx="587.08" cy="61.33" r="1.1" fill="#EE2020" stroke="#EE2020" stroke-width="0.1"/>
<circle cx="589.57" cy="87.34" r="1.1" fill="#EE2020" stroke="#EE2020" stroke-width="0.1"/>
<circle cx="590.19" cy="63.14" r="1.1" fill="#EE2020" stroke="#EE2020" stroke-width="0.1"/>
<circle cx="589.26" cy="90.79" r="1.1" fill="#EE2020" stroke="#EE2020" stroke-width="0.1"/>
<circle cx="583.38" cy="66.77" r="1.1" fill="#4DA6E8" stroke="#4DA6E8" stroke-width="0.1"/>
<path d="M588.2 41 L592.8 45.6 L588.2 50.2 L583.6 45.6 Z" fill="#6B98EE"/>
<text transform="translate(596.1 41.2) rotate(-45) scale(1 1.05)" font-size="6.8" text-anchor="start" fill="#2a2a2a">Middle DIPs</text>
<text transform="translate(600.55 47.07) rotate(-45) scale(1 1.05)" font-size="6.8" text-anchor="start" fill="#2a2a2a">(same STV)</text>
<path d="M619.15 59.2 V89.6 C619.15 93.6 623.8 97.6 625.8 98.6 C627.8 97.6 632.45 93.6 632.45 89.6 V59.2 Z" fill="#D9DFE3" stroke="#A6ACAF" stroke-width="1.1"/>
<path d="M621.35 61.2 V89.6" stroke="#EEF1F2" stroke-width="1.2" opacity="0.7"/>
<rect x="619.15" y="56" width="13.3" height="3.4" fill="#B8BDC0"/>
<path d="M616.2 53.2 H634.4 V56 H616.2 Z" fill="#E4E6E7" stroke="#A9AEB1" stroke-width="0.5"/>
<path d="M616.2 53.2 L614.6 55.6 L616.2 56 Z" fill="#C5C9CB"/>
<circle cx="621.88" cy="62.78" r="1.1" fill="#4DA6E8" stroke="#4DA6E8" stroke-width="0.1"/>
<circle cx="629.38" cy="74.61" r="1.1" fill="#EE2020" stroke="#EE2020" stroke-width="0.1"/>
<circle cx="628.41" cy="86.89" r="1.1" fill="#EE2020" stroke="#EE2020" stroke-width="0.1"/>
<circle cx="625.59" cy="94.07" r="1.1" fill="#EE2020" stroke="#EE2020" stroke-width="0.1"/>
<circle cx="622.24" cy="86.93" r="1.1" fill="#EE2020" stroke="#EE2020" stroke-width="0.1"/>
<circle cx="627.13" cy="77.57" r="1.1" fill="#EE2020" stroke="#EE2020" stroke-width="0.1"/>
<circle cx="628.74" cy="67.52" r="1.1" fill="#EE2020" stroke="#EE2020" stroke-width="0.1"/>
<circle cx="628.34" cy="82.49" r="1.1" fill="#EE2020" stroke="#EE2020" stroke-width="0.1"/>
<circle cx="625.76" cy="76.11" r="1.1" fill="#EE2020" stroke="#EE2020" stroke-width="0.1"/>
<circle cx="622.84" cy="90.19" r="1.1" fill="#EE2020" stroke="#EE2020" stroke-width="0.1"/>
<circle cx="626.09" cy="93.28" r="1.1" fill="#4DA6E8" stroke="#4DA6E8" stroke-width="0.1"/>
<circle cx="627.23" cy="73.61" r="1.1" fill="#EE2020" stroke="#EE2020" stroke-width="0.1"/>
<circle cx="627.65" cy="85.06" r="1.1" fill="#EE2020" stroke="#EE2020" stroke-width="0.1"/>
<circle cx="629.16" cy="72.94" r="1.1" fill="#EE2020" stroke="#EE2020" stroke-width="0.1"/>
<circle cx="621.95" cy="87.13" r="1.1" fill="#EE2020" stroke="#EE2020" stroke-width="0.1"/>
<circle cx="628.96" cy="68.36" r="1.1" fill="#4DA6E8" stroke="#4DA6E8" stroke-width="0.1"/>
<circle cx="622.69" cy="67.7" r="1.1" fill="#EE2020" stroke="#EE2020" stroke-width="0.1"/>
<circle cx="621.47" cy="84.44" r="1.1" fill="#EE2020" stroke="#EE2020" stroke-width="0.1"/>
<circle cx="624.56" cy="74.15" r="1.1" fill="#EE2020" stroke="#EE2020" stroke-width="0.1"/>
<circle cx="625.56" cy="80.4" r="1.1" fill="#EE2020" stroke="#EE2020" stroke-width="0.1"/>
<circle cx="628.2" cy="71.64" r="1.1" fill="#EE2020" stroke="#EE2020" stroke-width="0.1"/>
<circle cx="624.11" cy="68.66" r="1.1" fill="#EE2020" stroke="#EE2020" stroke-width="0.1"/>
<circle cx="626.22" cy="90.86" r="1.1" fill="#EE2020" stroke="#EE2020" stroke-width="0.1"/>
<circle cx="623.92" cy="80.56" r="1.1" fill="#EE2020" stroke="#EE2020" stroke-width="0.1"/>
<circle cx="622.38" cy="79.92" r="1.1" fill="#EE2020" stroke="#EE2020" stroke-width="0.1"/>
<circle cx="625.99" cy="64.7" r="1.1" fill="#EE2020" stroke="#EE2020" stroke-width="0.1"/>
<circle cx="629.87" cy="81.77" r="1.1" fill="#EE2020" stroke="#EE2020" stroke-width="0.1"/>
<circle cx="625.83" cy="88.95" r="1.1" fill="#EE2020" stroke="#EE2020" stroke-width="0.1"/>
<circle cx="625.12" cy="69.98" r="1.1" fill="#EE2020" stroke="#EE2020" stroke-width="0.1"/>
<circle cx="626.04" cy="68.36" r="1.1" fill="#EE2020" stroke="#EE2020" stroke-width="0.1"/>
<circle cx="621.55" cy="81.32" r="1.1" fill="#EE2020" stroke="#EE2020" stroke-width="0.1"/>
<circle cx="623.93" cy="78.89" r="1.1" fill="#EE2020" stroke="#EE2020" stroke-width="0.1"/>
<circle cx="627.48" cy="69.19" r="1.1" fill="#EE2020" stroke="#EE2020" stroke-width="0.1"/>
<circle cx="623.14" cy="84.4" r="1.1" fill="#EE2020" stroke="#EE2020" stroke-width="0.1"/>
<circle cx="625.44" cy="82.32" r="1.1" fill="#EE2020" stroke="#EE2020" stroke-width="0.1"/>
<circle cx="622" cy="78.26" r="1.1" fill="#EE2020" stroke="#EE2020" stroke-width="0.1"/>
<circle cx="622.36" cy="73.67" r="1.1" fill="#EE2020" stroke="#EE2020" stroke-width="0.1"/>
<circle cx="626.75" cy="83.52" r="1.1" fill="#EE2020" stroke="#EE2020" stroke-width="0.1"/>
<circle cx="627.7" cy="91.72" r="1.1" fill="#EE2020" stroke="#EE2020" stroke-width="0.1"/>
<circle cx="630.13" cy="77.04" r="1.1" fill="#EE2020" stroke="#EE2020" stroke-width="0.1"/>
<circle cx="627.62" cy="65.36" r="1.1" fill="#EE2020" stroke="#EE2020" stroke-width="0.1"/>
<circle cx="629.08" cy="73.71" r="1.1" fill="#EE2020" stroke="#EE2020" stroke-width="0.1"/>
<circle cx="623.38" cy="82.63" r="1.1" fill="#EE2020" stroke="#EE2020" stroke-width="0.1"/>
<circle cx="621.47" cy="71.07" r="1.1" fill="#EE2020" stroke="#EE2020" stroke-width="0.1"/>
<circle cx="622.36" cy="78.31" r="1.1" fill="#EE2020" stroke="#EE2020" stroke-width="0.1"/>
<circle cx="625.02" cy="62.96" r="1.1" fill="#4DA6E8" stroke="#4DA6E8" stroke-width="0.1"/>
<circle cx="628.58" cy="61.56" r="1.1" fill="#EE2020" stroke="#EE2020" stroke-width="0.1"/>
<circle cx="629.13" cy="88.83" r="1.1" fill="#EE2020" stroke="#EE2020" stroke-width="0.1"/>
<circle cx="624.46" cy="79.25" r="1.1" fill="#4DA6E8" stroke="#4DA6E8" stroke-width="0.1"/>
<circle cx="629.26" cy="70.32" r="1.1" fill="#EE2020" stroke="#EE2020" stroke-width="0.1"/>
<circle cx="625.54" cy="84.74" r="1.1" fill="#EE2020" stroke="#EE2020" stroke-width="0.1"/>
<circle cx="625.23" cy="66.8" r="1.1" fill="#EE2020" stroke="#EE2020" stroke-width="0.1"/>
<circle cx="624.39" cy="86.35" r="1.1" fill="#EE2020" stroke="#EE2020" stroke-width="0.1"/>
<circle cx="624.85" cy="87.49" r="1.1" fill="#EE2020" stroke="#EE2020" stroke-width="0.1"/>
<circle cx="622.09" cy="75.73" r="1.1" fill="#EE2020" stroke="#EE2020" stroke-width="0.1"/>
<circle cx="628.45" cy="78.74" r="1.1" fill="#EE2020" stroke="#EE2020" stroke-width="0.1"/>
<circle cx="626.87" cy="63.28" r="1.1" fill="#EE2020" stroke="#EE2020" stroke-width="0.1"/>
<circle cx="625.3" cy="62.28" r="1.1" fill="#EE2020" stroke="#EE2020" stroke-width="0.1"/>
<circle cx="621.92" cy="65.88" r="1.1" fill="#EE2020" stroke="#EE2020" stroke-width="0.1"/>
<circle cx="623.99" cy="71.7" r="1.1" fill="#EE2020" stroke="#EE2020" stroke-width="0.1"/>
<circle cx="630.08" cy="73.03" r="1.1" fill="#4DA6E8" stroke="#4DA6E8" stroke-width="0.1"/>
<circle cx="626.84" cy="81.52" r="1.1" fill="#EE2020" stroke="#EE2020" stroke-width="0.1"/>
<circle cx="629.91" cy="68.66" r="1.1" fill="#EE2020" stroke="#EE2020" stroke-width="0.1"/>
<circle cx="627.68" cy="89.71" r="1.1" fill="#EE2020" stroke="#EE2020" stroke-width="0.1"/>
<circle cx="626.78" cy="87.41" r="1.1" fill="#EE2020" stroke="#EE2020" stroke-width="0.1"/>
<circle cx="621.67" cy="61.25" r="1.1" fill="#EE2020" stroke="#EE2020" stroke-width="0.1"/>
<circle cx="630.19" cy="86.87" r="1.1" fill="#EE2020" stroke="#EE2020" stroke-width="0.1"/>
<circle cx="627.15" cy="67.11" r="1.1" fill="#EE2020" stroke="#EE2020" stroke-width="0.1"/>
<circle cx="623.46" cy="88.69" r="1.1" fill="#EE2020" stroke="#EE2020" stroke-width="0.1"/>
<circle cx="625.89" cy="78.59" r="1.1" fill="#EE2020" stroke="#EE2020" stroke-width="0.1"/>
<circle cx="629.93" cy="65.39" r="1.1" fill="#EE2020" stroke="#EE2020" stroke-width="0.1"/>
<circle cx="623.72" cy="61.86" r="1.1" fill="#EE2020" stroke="#EE2020" stroke-width="0.1"/>
<circle cx="627.84" cy="80.25" r="1.1" fill="#EE2020" stroke="#EE2020" stroke-width="0.1"/>
<circle cx="625.06" cy="92.02" r="1.1" fill="#EE2020" stroke="#EE2020" stroke-width="0.1"/>
<circle cx="622.12" cy="69.36" r="1.1" fill="#EE2020" stroke="#EE2020" stroke-width="0.1"/>
<circle cx="627.81" cy="75.66" r="1.1" fill="#EE2020" stroke="#EE2020" stroke-width="0.1"/>
<circle cx="626.81" cy="61.42" r="1.1" fill="#EE2020" stroke="#EE2020" stroke-width="0.1"/>
<circle cx="624.44" cy="78.26" r="1.1" fill="#4DA6E8" stroke="#4DA6E8" stroke-width="0.1"/>
<circle cx="623.81" cy="75.8" r="1.1" fill="#EE2020" stroke="#EE2020" stroke-width="0.1"/>
<circle cx="629.8" cy="84.3" r="1.1" fill="#EE2020" stroke="#EE2020" stroke-width="0.1"/>
<circle cx="623.55" cy="64" r="1.1" fill="#EE2020" stroke="#EE2020" stroke-width="0.1"/>
<circle cx="621.83" cy="88.7" r="1.1" fill="#EE2020" stroke="#EE2020" stroke-width="0.1"/>
<circle cx="626.81" cy="70.76" r="1.1" fill="#EE2020" stroke="#EE2020" stroke-width="0.1"/>
<circle cx="627.4" cy="68.31" r="1.1" fill="#4DA6E8" stroke="#4DA6E8" stroke-width="0.1"/>
<circle cx="623.74" cy="66.08" r="1.1" fill="#EE2020" stroke="#EE2020" stroke-width="0.1"/>
<circle cx="626.95" cy="65.43" r="1.1" fill="#EE2020" stroke="#EE2020" stroke-width="0.1"/>
<circle cx="621.5" cy="62.92" r="1.1" fill="#EE2020" stroke="#EE2020" stroke-width="0.1"/>
<circle cx="624.61" cy="77.31" r="1.1" fill="#EE2020" stroke="#EE2020" stroke-width="0.1"/>
<circle cx="630.04" cy="79.21" r="1.1" fill="#EE2020" stroke="#EE2020" stroke-width="0.1"/>
<circle cx="630.17" cy="61.39" r="1.1" fill="#EE2020" stroke="#EE2020" stroke-width="0.1"/>
<circle cx="624.5" cy="90.18" r="1.1" fill="#EE2020" stroke="#EE2020" stroke-width="0.1"/>
<circle cx="625.81" cy="72.29" r="1.1" fill="#EE2020" stroke="#EE2020" stroke-width="0.1"/>
<circle cx="629.39" cy="63.55" r="1.1" fill="#EE2020" stroke="#EE2020" stroke-width="0.1"/>
<path d="M626.2 41 L630.8 45.6 L626.2 50.2 L621.6 45.6 Z" fill="#9B69D5"/>
<text transform="translate(634.1 41.2) rotate(-45) scale(1 1.05)" font-size="6.8" text-anchor="start" fill="#2a2a2a">High DIPs</text>
<text transform="translate(638.55 47.07) rotate(-45) scale(1 1.05)" font-size="6.8" text-anchor="start" fill="#2a2a2a">(same STV)</text>
<circle cx="647.6" cy="61.6" r="1.5" fill="#4DA6E8" stroke="#4DA6E8" stroke-width="0.1"/>
<circle cx="647.6" cy="69.9" r="1.5" fill="#EE2020" stroke="#EE2020" stroke-width="0.1"/>
<text transform="translate(654.4 64.1) scale(1 1.05)" font-size="6" text-anchor="start" fill="#333">STV</text>
<text transform="translate(654.4 72.4) scale(1 1.05)" font-size="6" text-anchor="start" fill="#333">DIP</text>
<g transform="translate(15 422) scale(0.09197)"><path d="M250 190 C190 168 120 142 72 146 C48 150 52 172 80 192 C98 205 112 214 122 224" fill="none" stroke="#D8928E" stroke-width="15" stroke-linecap="round"/><path d="M248 242 L214 256 L210 270 L252 270 Z" fill="#E4A7A3"/><path d="M318 318 L322 388 C318 398 306 404 298 410 C320 414 345 414 362 412 C356 402 353 392 354 382 L358 322 Z" fill="#E7E3DF"/><path d="M300 402 C318 396 345 396 360 402 L364 414 L296 414 Z" fill="#E6A9A5"/><path d="M478 296 L484 360 C480 370 476 376 486 382 L528 384 C518 374 512 364 510 352 L506 286 Z" fill="#E7E3DF"/><path d="M482 366 C495 362 510 362 518 368 L530 384 L482 384 Z" fill="#E6A9A5"/><path d="M265 302 C232 272 232 192 262 150 C288 114 330 100 372 97 L470 94 C522 94 562 114 586 140 C602 150 606 162 596 171 C580 186 566 196 556 212 C546 242 530 276 500 296 C460 322 400 336 340 331 C300 327 280 316 265 302 Z" fill="#E9E7E4"/><path d="M265 302 C232 272 232 192 262 150 C270 200 290 260 340 300 C380 320 440 318 500 296 C460 322 400 336 340 331 C300 327 280 316 265 302 Z" fill="#D8D3CE"/><path d="M330 110 C400 100 470 100 520 110 C480 125 420 130 340 125 Z" fill="#F2F1EF"/><ellipse cx="392" cy="102" rx="43" ry="58" transform="rotate(-8 392 102)" fill="#E3A3A1"/><ellipse cx="398" cy="108" rx="26" ry="42" transform="rotate(-8 398 108)" fill="#DB9896"/><path d="M502 98 L508 40 C538 52 560 80 570 112 C548 104 525 100 502 98 Z" fill="#EFE2E0" stroke="#DDB8B5" stroke-width="6"/><ellipse cx="492" cy="146" rx="13" ry="9" transform="rotate(-20 492 146)" fill="#C0272D"/><circle cx="596" cy="156" r="10" fill="#E9A2A2"/></g>
<line x1="92.4" y1="446.9" x2="304" y2="446.9" stroke="#1b1b1b" stroke-width="1.4"/>
<path d="M302.5 443.9 L309 446.9 L302.5 449.9 Z" fill="#1b1b1b" stroke="none" stroke-width="1"/>
<line x1="92.4" y1="440.9" x2="92.4" y2="446.9" stroke="#1b1b1b" stroke-width="1.2"/>
<line x1="185.5" y1="440.9" x2="185.5" y2="446.9" stroke="#1b1b1b" stroke-width="1.2"/>
<line x1="231" y1="440.9" x2="231" y2="446.9" stroke="#1b1b1b" stroke-width="1.2"/>
<line x1="277.6" y1="440.9" x2="277.6" y2="446.9" stroke="#1b1b1b" stroke-width="1.2"/>
<text transform="translate(92.4 458.4) scale(1 1.05)" font-size="9.35" text-anchor="middle" fill="#222">0</text>
<text transform="translate(185.5 458.4) scale(1 1.05)" font-size="9.35" text-anchor="middle" fill="#222">21</text>
<text transform="translate(231 458.4) scale(1 1.05)" font-size="9.35" text-anchor="middle" fill="#222">31</text>
<text transform="translate(277.6 458.4) scale(1 1.05)" font-size="9.35" text-anchor="middle" fill="#222">42</text>
<text transform="translate(301 458.6) scale(1 1.05)" font-size="9.35" text-anchor="start" fill="#222">Day</text>
<text transform="translate(82.8 414.3) scale(1 1.05)" font-size="9.35" text-anchor="middle" fill="#222">Prime</text>
<text transform="translate(82.6 423) scale(1 1.05)" font-size="8.7" text-anchor="middle" fill="#222">IN or IM</text>
<text transform="translate(176.2 414.1) scale(1 1.05)" font-size="9.35" text-anchor="middle" fill="#222">Boost</text>
<text transform="translate(176.3 423) scale(1 1.05)" font-size="8.7" text-anchor="middle" fill="#222">IN or IM</text>
<g transform="translate(92.1 435.8) rotate(-44.9) scale(1.03)"><line x1="0" y1="0" x2="10" y2="0" stroke="#3F7299" stroke-width="0.6"/><path d="M9.8 -0.9 L12.6 -1.6 L12.6 1.6 L9.8 0.9 Z" fill="none" stroke="#3F7299" stroke-width="0.5"/><rect x="12.8" y="-2.5" width="17.4" height="5" rx="1.6" fill="#F4F8FB" stroke="#3F7299" stroke-width="0.7"/><rect x="14.4" y="-1.8" width="7.6" height="3.6" rx="1" fill="#4C9CD8"/><line x1="23.5" y1="-0.5" x2="23.5" y2="1.9" stroke="#3F7299" stroke-width="0.4"/><line x1="25" y1="-0.5" x2="25" y2="1.9" stroke="#3F7299" stroke-width="0.4"/><line x1="26.5" y1="-0.5" x2="26.5" y2="1.9" stroke="#3F7299" stroke-width="0.4"/><line x1="28" y1="-0.5" x2="28" y2="1.9" stroke="#3F7299" stroke-width="0.4"/><line x1="30.2" y1="-4" x2="30.2" y2="4" stroke="#3F7299" stroke-width="1.0"/><line x1="30.2" y1="0" x2="35.6" y2="0" stroke="#3F7299" stroke-width="1.1"/><line x1="35.8" y1="-3.2" x2="35.8" y2="3.2" stroke="#3F7299" stroke-width="1.2"/></g>
<g transform="translate(185.1 436.1) rotate(-44.9) scale(1.03)"><line x1="0" y1="0" x2="10" y2="0" stroke="#3F7299" stroke-width="0.6"/><path d="M9.8 -0.9 L12.6 -1.6 L12.6 1.6 L9.8 0.9 Z" fill="none" stroke="#3F7299" stroke-width="0.5"/><rect x="12.8" y="-2.5" width="17.4" height="5" rx="1.6" fill="#F4F8FB" stroke="#3F7299" stroke-width="0.7"/><rect x="14.4" y="-1.8" width="7.6" height="3.6" rx="1" fill="#4C9CD8"/><line x1="23.5" y1="-0.5" x2="23.5" y2="1.9" stroke="#3F7299" stroke-width="0.4"/><line x1="25" y1="-0.5" x2="25" y2="1.9" stroke="#3F7299" stroke-width="0.4"/><line x1="26.5" y1="-0.5" x2="26.5" y2="1.9" stroke="#3F7299" stroke-width="0.4"/><line x1="28" y1="-0.5" x2="28" y2="1.9" stroke="#3F7299" stroke-width="0.4"/><line x1="30.2" y1="-4" x2="30.2" y2="4" stroke="#3F7299" stroke-width="1.0"/><line x1="30.2" y1="0" x2="35.6" y2="0" stroke="#3F7299" stroke-width="1.1"/><line x1="35.8" y1="-3.2" x2="35.8" y2="3.2" stroke="#3F7299" stroke-width="1.2"/></g>
<path d="M185.8 464.3 C187.6 468.6 191.8 471.9 191.8 475.5 A6 6 0 1 1 179.8 475.5 C179.8 471.9 184 468.6 185.8 464.3 Z" fill="#A3222D"/>
<path d="M190.9 475 C190 480.3 185.8 481.2 182.5 480" fill="none" stroke="#7A121C" stroke-width="1.2" opacity="0.7"/>
<path d="M277.6 464.3 C279.28 468.6 283.2 472.54 283.2 475.9 A5.6 5.6 0 1 1 272 475.9 C272 472.54 275.92 468.6 277.6 464.3 Z" fill="#A3222D"/>
<path d="M282.36 475.4 C281.52 480.38 277.6 481.22 274.52 480.1" fill="none" stroke="#7A121C" stroke-width="1.2" opacity="0.7"/>
<g transform="translate(222.4 463.3) scale(1 1)"><path d="M0 4.6 C0.2 1.7 2.6 0.3 5.6 0.1 C9.6 -0.2 14.6 1.2 17.6 3.7 C21.1 6.7 22.7 10.2 22.5 12.7 C22.3 15.7 20.6 17.9 17.1 18 C14.6 17.9 13.6 16.2 12.1 14.2 C10.6 12.2 8.6 10.2 5.9 9.3 C3.1 8.5 1.1 7.7 0 4.6 Z" fill="#8C373B"/><path d="M1.2 4.6 C1.4 2.3 3.4 1.2 6 1.1 C9.6 0.9 14 2.2 16.8 4.5 C19.8 7.2 21 10.2 20.8 12.4 C20.6 14.8 19.4 16.2 17.4 16.3 C15.6 16.2 14.6 14.8 13.2 13 C11.6 11 9.4 9 6.4 8.2 C3.6 7.4 1.8 6.6 1.2 4.6 Z" fill="#974649"/></g>
<text transform="translate(236.6 492.6) scale(1 1.05)" font-size="9.35" text-anchor="middle" fill="#222">NALFs</text>
<text transform="translate(236.6 503.2) scale(1 1.05)" font-size="9.35" text-anchor="middle" fill="#222">BALFs</text>
<path d="M359.8 455.2 V483.4 C359.8 487.4 364.2 491.4 366.2 492.4 C368.2 491.4 372.6 487.4 372.6 483.4 V455.2 Z" fill="#D9DFE3" stroke="#A6ACAF" stroke-width="1.1"/>
<path d="M362 457.2 V483.4" stroke="#EEF1F2" stroke-width="1.2" opacity="0.7"/>
<rect x="359.8" y="452" width="12.8" height="3.4" fill="#B8BDC0"/>
<path d="M357.1 449.2 H374.3 V452 H357.1 Z" fill="#E4E6E7" stroke="#A9AEB1" stroke-width="0.5"/>
<path d="M357.1 449.2 L355.5 451.6 L357.1 452 Z" fill="#C5C9CB"/>
<path d="M367.2 436.6 L371.6 441 L367.2 445.4 L362.8 441 Z" fill="#9C9DA1"/>
<text transform="translate(376.4 437.4) rotate(-45) scale(1 1.05)" font-size="6.3" text-anchor="start" fill="#2a2a2a">Placebo</text>
<path d="M400 455.2 V483.4 C400 487.4 404.4 491.4 406.4 492.4 C408.4 491.4 412.8 487.4 412.8 483.4 V455.2 Z" fill="#D9DFE3" stroke="#A6ACAF" stroke-width="1.1"/>
<path d="M402.2 457.2 V483.4" stroke="#EEF1F2" stroke-width="1.2" opacity="0.7"/>
<rect x="400" y="452" width="12.8" height="3.4" fill="#B8BDC0"/>
<path d="M397.3 449.2 H414.5 V452 H397.3 Z" fill="#E4E6E7" stroke="#A9AEB1" stroke-width="0.5"/>
<path d="M397.3 449.2 L395.7 451.6 L397.3 452 Z" fill="#C5C9CB"/>
<circle cx="406.5" cy="482" r="0.8" fill="#fff" stroke="#E24B4B" stroke-width="0.5"/>
<circle cx="408.48" cy="474.1" r="0.8" fill="#fff" stroke="#5AAEE8" stroke-width="0.5"/>
<circle cx="410.25" cy="464.94" r="0.8" fill="#fff" stroke="#5AAEE8" stroke-width="0.5"/>
<circle cx="404.52" cy="484.1" r="0.8" fill="#fff" stroke="#5AAEE8" stroke-width="0.5"/>
<circle cx="409.04" cy="459.22" r="0.8" fill="#fff" stroke="#5AAEE8" stroke-width="0.5"/>
<circle cx="406.22" cy="476.69" r="0.8" fill="#fff" stroke="#E24B4B" stroke-width="0.5"/>
<circle cx="406.58" cy="487.83" r="0.8" fill="#fff" stroke="#E24B4B" stroke-width="0.5"/>
<circle cx="409.99" cy="467.89" r="0.8" fill="#fff" stroke="#5AAEE8" stroke-width="0.5"/>
<circle cx="402.29" cy="480.79" r="0.8" fill="#fff" stroke="#5AAEE8" stroke-width="0.5"/>
<circle cx="402.56" cy="464.34" r="0.8" fill="#fff" stroke="#E24B4B" stroke-width="0.5"/>
<circle cx="408.54" cy="484.79" r="0.8" fill="#fff" stroke="#5AAEE8" stroke-width="0.5"/>
<circle cx="404.18" cy="472.71" r="0.8" fill="#fff" stroke="#E24B4B" stroke-width="0.5"/>
<circle cx="410.54" cy="479.25" r="0.8" fill="#fff" stroke="#5AAEE8" stroke-width="0.5"/>
<circle cx="402.78" cy="475.17" r="0.8" fill="#fff" stroke="#E24B4B" stroke-width="0.5"/>
<circle cx="406.27" cy="467.73" r="0.8" fill="#fff" stroke="#E24B4B" stroke-width="0.5"/>
<circle cx="406.84" cy="471.11" r="0.8" fill="#fff" stroke="#E24B4B" stroke-width="0.5"/>
<circle cx="407.99" cy="462.26" r="0.8" fill="#fff" stroke="#E24B4B" stroke-width="0.5"/>
<circle cx="405.32" cy="457.3" r="0.8" fill="#fff" stroke="#E24B4B" stroke-width="0.5"/>
<path d="M407.4 436.6 L411.8 441 L407.4 445.4 L403 441 Z" fill="#C48E74"/>
<text transform="translate(416.1 435.9) rotate(-45) scale(1 1.05)" font-size="6.3" text-anchor="start" fill="#2a2a2a">Inactivated</text>
<text transform="translate(421.19 441.84) rotate(-45) scale(1 1.05)" font-size="6.3" text-anchor="start" fill="#2a2a2a">Low DIPs</text>
<path d="M440.2 455.2 V483.4 C440.2 487.4 444.6 491.4 446.6 492.4 C448.6 491.4 453 487.4 453 483.4 V455.2 Z" fill="#D9DFE3" stroke="#A6ACAF" stroke-width="1.1"/>
<path d="M442.4 457.2 V483.4" stroke="#EEF1F2" stroke-width="1.2" opacity="0.7"/>
<rect x="440.2" y="452" width="12.8" height="3.4" fill="#B8BDC0"/>
<path d="M437.5 449.2 H454.7 V452 H437.5 Z" fill="#E4E6E7" stroke="#A9AEB1" stroke-width="0.5"/>
<path d="M437.5 449.2 L435.9 451.6 L437.5 452 Z" fill="#C5C9CB"/>
<circle cx="450.44" cy="465.13" r="1.1" fill="#EE2020" stroke="#EE2020" stroke-width="0.1"/>
<circle cx="445.3" cy="477.2" r="1.1" fill="#EE2020" stroke="#EE2020" stroke-width="0.1"/>
<circle cx="444" cy="466.74" r="1.1" fill="#EE2020" stroke="#EE2020" stroke-width="0.1"/>
<circle cx="443.5" cy="483.26" r="1.1" fill="#4DA6E8" stroke="#4DA6E8" stroke-width="0.1"/>
<circle cx="443.21" cy="469.5" r="1.1" fill="#4DA6E8" stroke="#4DA6E8" stroke-width="0.1"/>
<circle cx="446.87" cy="458.71" r="1.1" fill="#EE2020" stroke="#EE2020" stroke-width="0.1"/>
<circle cx="447.54" cy="478.64" r="1.1" fill="#EE2020" stroke="#EE2020" stroke-width="0.1"/>
<circle cx="443.41" cy="462.86" r="1.1" fill="#EE2020" stroke="#EE2020" stroke-width="0.1"/>
<circle cx="450.79" cy="457.93" r="1.1" fill="#EE2020" stroke="#EE2020" stroke-width="0.1"/>
<circle cx="442.75" cy="475.73" r="1.1" fill="#4DA6E8" stroke="#4DA6E8" stroke-width="0.1"/>
<circle cx="442.65" cy="472.14" r="1.1" fill="#4DA6E8" stroke="#4DA6E8" stroke-width="0.1"/>
<circle cx="449.33" cy="461.57" r="1.1" fill="#EE2020" stroke="#EE2020" stroke-width="0.1"/>
<circle cx="447.4" cy="466.33" r="1.1" fill="#4DA6E8" stroke="#4DA6E8" stroke-width="0.1"/>
<circle cx="449.29" cy="481.27" r="1.1" fill="#4DA6E8" stroke="#4DA6E8" stroke-width="0.1"/>
<circle cx="450.16" cy="478.24" r="1.1" fill="#EE2020" stroke="#EE2020" stroke-width="0.1"/>
<circle cx="450.23" cy="475.66" r="1.1" fill="#EE2020" stroke="#EE2020" stroke-width="0.1"/>
<circle cx="446.75" cy="472.74" r="1.1" fill="#EE2020" stroke="#EE2020" stroke-width="0.1"/>
<circle cx="446.52" cy="463.44" r="1.1" fill="#4DA6E8" stroke="#4DA6E8" stroke-width="0.1"/>
<circle cx="447.08" cy="484.26" r="1.1" fill="#EE2020" stroke="#EE2020" stroke-width="0.1"/>
<circle cx="447.95" cy="469.77" r="1.1" fill="#4DA6E8" stroke="#4DA6E8" stroke-width="0.1"/>
<circle cx="442.81" cy="478.94" r="1.1" fill="#EE2020" stroke="#EE2020" stroke-width="0.1"/>
<circle cx="445.77" cy="486.62" r="1.1" fill="#EE2020" stroke="#EE2020" stroke-width="0.1"/>
<path d="M447.6 436.6 L452 441 L447.6 445.4 L443.2 441 Z" fill="#EF9B47"/>
<text transform="translate(456.8 437.4) rotate(-45) scale(1 1.05)" font-size="6.3" text-anchor="start" fill="#2a2a2a">Low DIPs</text>
<path d="M480.4 455.2 V483.4 C480.4 487.4 484.8 491.4 486.8 492.4 C488.8 491.4 493.2 487.4 493.2 483.4 V455.2 Z" fill="#D9DFE3" stroke="#A6ACAF" stroke-width="1.1"/>
<path d="M482.6 457.2 V483.4" stroke="#EEF1F2" stroke-width="1.2" opacity="0.7"/>
<rect x="480.4" y="452" width="12.8" height="3.4" fill="#B8BDC0"/>
<path d="M477.7 449.2 H494.9 V452 H477.7 Z" fill="#E4E6E7" stroke="#A9AEB1" stroke-width="0.5"/>
<path d="M477.7 449.2 L476.1 451.6 L477.7 452 Z" fill="#C5C9CB"/>
<circle cx="490.87" cy="463.99" r="1.1" fill="#EE2020" stroke="#EE2020" stroke-width="0.1"/>
<circle cx="486.33" cy="463.09" r="1.1" fill="#EE2020" stroke="#EE2020" stroke-width="0.1"/>
<circle cx="490.73" cy="458.92" r="1.1" fill="#EE2020" stroke="#EE2020" stroke-width="0.1"/>
<circle cx="490.98" cy="469.35" r="1.1" fill="#EE2020" stroke="#EE2020" stroke-width="0.1"/>
<circle cx="490.06" cy="479.33" r="1.1" fill="#4DA6E8" stroke="#4DA6E8" stroke-width="0.1"/>
<circle cx="487.55" cy="481.24" r="1.1" fill="#EE2020" stroke="#EE2020" stroke-width="0.1"/>
<circle cx="483.12" cy="474.29" r="1.1" fill="#EE2020" stroke="#EE2020" stroke-width="0.1"/>
<circle cx="490.1" cy="467.72" r="1.1" fill="#EE2020" stroke="#EE2020" stroke-width="0.1"/>
<circle cx="488.84" cy="484.89" r="1.1" fill="#EE2020" stroke="#EE2020" stroke-width="0.1"/>
<circle cx="487.11" cy="473.23" r="1.1" fill="#EE2020" stroke="#EE2020" stroke-width="0.1"/>
<circle cx="484.43" cy="475.21" r="1.1" fill="#EE2020" stroke="#EE2020" stroke-width="0.1"/>
<circle cx="484.13" cy="476.92" r="1.1" fill="#EE2020" stroke="#EE2020" stroke-width="0.1"/>
<circle cx="487.9" cy="486.27" r="1.1" fill="#EE2020" stroke="#EE2020" stroke-width="0.1"/>
<circle cx="488.77" cy="472.94" r="1.1" fill="#EE2020" stroke="#EE2020" stroke-width="0.1"/>
<circle cx="484.25" cy="471.5" r="1.1" fill="#EE2020" stroke="#EE2020" stroke-width="0.1"/>
<circle cx="487.03" cy="473.11" r="1.1" fill="#EE2020" stroke="#EE2020" stroke-width="0.1"/>
<circle cx="488.54" cy="483.55" r="1.1" fill="#EE2020" stroke="#EE2020" stroke-width="0.1"/>
<circle cx="485.44" cy="481.12" r="1.1" fill="#EE2020" stroke="#EE2020" stroke-width="0.1"/>
<circle cx="483.32" cy="457.96" r="1.1" fill="#EE2020" stroke="#EE2020" stroke-width="0.1"/>
<circle cx="486.16" cy="475.38" r="1.1" fill="#EE2020" stroke="#EE2020" stroke-width="0.1"/>
<circle cx="486.14" cy="479" r="1.1" fill="#EE2020" stroke="#EE2020" stroke-width="0.1"/>
<circle cx="484.32" cy="466.54" r="1.1" fill="#EE2020" stroke="#EE2020" stroke-width="0.1"/>
<circle cx="483.69" cy="473.47" r="1.1" fill="#EE2020" stroke="#EE2020" stroke-width="0.1"/>
<circle cx="488.64" cy="462.07" r="1.1" fill="#4DA6E8" stroke="#4DA6E8" stroke-width="0.1"/>
<circle cx="490.32" cy="473.95" r="1.1" fill="#EE2020" stroke="#EE2020" stroke-width="0.1"/>
<circle cx="489.46" cy="470.08" r="1.1" fill="#EE2020" stroke="#EE2020" stroke-width="0.1"/>
<circle cx="488.07" cy="468.31" r="1.1" fill="#EE2020" stroke="#EE2020" stroke-width="0.1"/>
<circle cx="484.24" cy="482.25" r="1.1" fill="#EE2020" stroke="#EE2020" stroke-width="0.1"/>
<circle cx="483.24" cy="463.13" r="1.1" fill="#EE2020" stroke="#EE2020" stroke-width="0.1"/>
<circle cx="488.15" cy="474.76" r="1.1" fill="#EE2020" stroke="#EE2020" stroke-width="0.1"/>
<circle cx="488.02" cy="472.55" r="1.1" fill="#EE2020" stroke="#EE2020" stroke-width="0.1"/>
<circle cx="482.71" cy="468.97" r="1.1" fill="#EE2020" stroke="#EE2020" stroke-width="0.1"/>
<circle cx="489.29" cy="461.48" r="1.1" fill="#EE2020" stroke="#EE2020" stroke-width="0.1"/>
<circle cx="483.5" cy="465.13" r="1.1" fill="#EE2020" stroke="#EE2020" stroke-width="0.1"/>
<circle cx="484.78" cy="478.68" r="1.1" fill="#EE2020" stroke="#EE2020" stroke-width="0.1"/>
<circle cx="483.32" cy="474.64" r="1.1" fill="#EE2020" stroke="#EE2020" stroke-width="0.1"/>
<circle cx="485.71" cy="467.36" r="1.1" fill="#EE2020" stroke="#EE2020" stroke-width="0.1"/>
<circle cx="488.21" cy="478.96" r="1.1" fill="#EE2020" stroke="#EE2020" stroke-width="0.1"/>
<circle cx="489.33" cy="461.85" r="1.1" fill="#EE2020" stroke="#EE2020" stroke-width="0.1"/>
<circle cx="484.91" cy="458.4" r="1.1" fill="#EE2020" stroke="#EE2020" stroke-width="0.1"/>
<circle cx="484.77" cy="464" r="1.1" fill="#EE2020" stroke="#EE2020" stroke-width="0.1"/>
<circle cx="487.9" cy="460.53" r="1.1" fill="#EE2020" stroke="#EE2020" stroke-width="0.1"/>
<circle cx="486.55" cy="484.86" r="1.1" fill="#EE2020" stroke="#EE2020" stroke-width="0.1"/>
<circle cx="486.14" cy="464.97" r="1.1" fill="#EE2020" stroke="#EE2020" stroke-width="0.1"/>
<circle cx="486.38" cy="471.65" r="1.1" fill="#EE2020" stroke="#EE2020" stroke-width="0.1"/>
<circle cx="486.55" cy="487" r="1.1" fill="#EE2020" stroke="#EE2020" stroke-width="0.1"/>
<circle cx="486.58" cy="459.28" r="1.1" fill="#EE2020" stroke="#EE2020" stroke-width="0.1"/>
<circle cx="482.63" cy="479.25" r="1.1" fill="#EE2020" stroke="#EE2020" stroke-width="0.1"/>
<circle cx="489.43" cy="477.41" r="1.1" fill="#EE2020" stroke="#EE2020" stroke-width="0.1"/>
<circle cx="489.88" cy="462.19" r="1.1" fill="#4DA6E8" stroke="#4DA6E8" stroke-width="0.1"/>
<circle cx="485.39" cy="473.81" r="1.1" fill="#EE2020" stroke="#EE2020" stroke-width="0.1"/>
<circle cx="486.02" cy="457.22" r="1.1" fill="#EE2020" stroke="#EE2020" stroke-width="0.1"/>
<circle cx="488.85" cy="460.61" r="1.1" fill="#EE2020" stroke="#EE2020" stroke-width="0.1"/>
<circle cx="485.72" cy="477.44" r="1.1" fill="#EE2020" stroke="#EE2020" stroke-width="0.1"/>
<circle cx="484.64" cy="462.35" r="1.1" fill="#EE2020" stroke="#EE2020" stroke-width="0.1"/>
<circle cx="483.43" cy="460.71" r="1.1" fill="#EE2020" stroke="#EE2020" stroke-width="0.1"/>
<circle cx="488.3" cy="460.29" r="1.1" fill="#4DA6E8" stroke="#4DA6E8" stroke-width="0.1"/>
<circle cx="484.36" cy="479.31" r="1.1" fill="#EE2020" stroke="#EE2020" stroke-width="0.1"/>
<circle cx="490.37" cy="480.07" r="1.1" fill="#EE2020" stroke="#EE2020" stroke-width="0.1"/>
<circle cx="484.75" cy="484.6" r="1.1" fill="#EE2020" stroke="#EE2020" stroke-width="0.1"/>
<circle cx="485.79" cy="461.17" r="1.1" fill="#EE2020" stroke="#EE2020" stroke-width="0.1"/>
<circle cx="489.96" cy="459.85" r="1.1" fill="#EE2020" stroke="#EE2020" stroke-width="0.1"/>
<circle cx="482.62" cy="471.75" r="1.1" fill="#EE2020" stroke="#EE2020" stroke-width="0.1"/>
<circle cx="484.73" cy="468.7" r="1.1" fill="#EE2020" stroke="#EE2020" stroke-width="0.1"/>
<circle cx="483.08" cy="468.22" r="1.1" fill="#EE2020" stroke="#EE2020" stroke-width="0.1"/>
<circle cx="490.98" cy="458.59" r="1.1" fill="#EE2020" stroke="#EE2020" stroke-width="0.1"/>
<circle cx="482.61" cy="475.41" r="1.1" fill="#EE2020" stroke="#EE2020" stroke-width="0.1"/>
<circle cx="490.79" cy="462.33" r="1.1" fill="#EE2020" stroke="#EE2020" stroke-width="0.1"/>
<circle cx="483.29" cy="470.17" r="1.1" fill="#EE2020" stroke="#EE2020" stroke-width="0.1"/>
<circle cx="486.52" cy="480.62" r="1.1" fill="#EE2020" stroke="#EE2020" stroke-width="0.1"/>
<circle cx="487.88" cy="465.01" r="1.1" fill="#EE2020" stroke="#EE2020" stroke-width="0.1"/>
<circle cx="490.78" cy="478.3" r="1.1" fill="#EE2020" stroke="#EE2020" stroke-width="0.1"/>
<circle cx="485.66" cy="482.88" r="1.1" fill="#4DA6E8" stroke="#4DA6E8" stroke-width="0.1"/>
<circle cx="488.32" cy="463.45" r="1.1" fill="#EE2020" stroke="#EE2020" stroke-width="0.1"/>
<circle cx="487.81" cy="466.7" r="1.1" fill="#EE2020" stroke="#EE2020" stroke-width="0.1"/>
<circle cx="486.04" cy="482.99" r="1.1" fill="#EE2020" stroke="#EE2020" stroke-width="0.1"/>
<circle cx="490.91" cy="472.19" r="1.1" fill="#EE2020" stroke="#EE2020" stroke-width="0.1"/>
<circle cx="485.24" cy="466.81" r="1.1" fill="#4DA6E8" stroke="#4DA6E8" stroke-width="0.1"/>
<circle cx="487.59" cy="469.7" r="1.1" fill="#4DA6E8" stroke="#4DA6E8" stroke-width="0.1"/>
<circle cx="490.32" cy="475.87" r="1.1" fill="#EE2020" stroke="#EE2020" stroke-width="0.1"/>
<circle cx="482.64" cy="466.67" r="1.1" fill="#EE2020" stroke="#EE2020" stroke-width="0.1"/>
<circle cx="486.19" cy="469.53" r="1.1" fill="#EE2020" stroke="#EE2020" stroke-width="0.1"/>
<circle cx="483.43" cy="480.79" r="1.1" fill="#EE2020" stroke="#EE2020" stroke-width="0.1"/>
<circle cx="483.45" cy="458.06" r="1.1" fill="#EE2020" stroke="#EE2020" stroke-width="0.1"/>
<circle cx="488.43" cy="485.59" r="1.1" fill="#EE2020" stroke="#EE2020" stroke-width="0.1"/>
<circle cx="488.01" cy="471.28" r="1.1" fill="#EE2020" stroke="#EE2020" stroke-width="0.1"/>
<circle cx="489.4" cy="457.92" r="1.1" fill="#EE2020" stroke="#EE2020" stroke-width="0.1"/>
<circle cx="487.73" cy="457.79" r="1.1" fill="#EE2020" stroke="#EE2020" stroke-width="0.1"/>
<circle cx="487.04" cy="464.63" r="1.1" fill="#4DA6E8" stroke="#4DA6E8" stroke-width="0.1"/>
<circle cx="489.76" cy="465.3" r="1.1" fill="#EE2020" stroke="#EE2020" stroke-width="0.1"/>
<circle cx="490.57" cy="481.91" r="1.1" fill="#EE2020" stroke="#EE2020" stroke-width="0.1"/>
<circle cx="487.82" cy="477.4" r="1.1" fill="#EE2020" stroke="#EE2020" stroke-width="0.1"/>
<circle cx="486.47" cy="469.39" r="1.1" fill="#EE2020" stroke="#EE2020" stroke-width="0.1"/>
<path d="M487.8 436.6 L492.2 441 L487.8 445.4 L483.4 441 Z" fill="#9B69D5"/>
<text transform="translate(496.5 435.9) rotate(-45) scale(1 1.05)" font-size="6.3" text-anchor="start" fill="#2a2a2a">High DIPs</text>
<text transform="translate(501.59 441.84) rotate(-45) scale(1 1.05)" font-size="6.3" text-anchor="start" fill="#2a2a2a">(same STV)</text>
<path d="M520.6 455.2 V483.4 C520.6 487.4 525 491.4 527 492.4 C529 491.4 533.4 487.4 533.4 483.4 V455.2 Z" fill="#D9DFE3" stroke="#A6ACAF" stroke-width="1.1"/>
<path d="M522.8 457.2 V483.4" stroke="#EEF1F2" stroke-width="1.2" opacity="0.7"/>
<rect x="520.6" y="452" width="12.8" height="3.4" fill="#B8BDC0"/>
<path d="M517.9 449.2 H535.1 V452 H517.9 Z" fill="#E4E6E7" stroke="#A9AEB1" stroke-width="0.5"/>
<path d="M517.9 449.2 L516.3 451.6 L517.9 452 Z" fill="#C5C9CB"/>
<circle cx="530.4" cy="476.62" r="0.8" fill="#fff" stroke="#E24B4B" stroke-width="0.5"/>
<circle cx="530.85" cy="473.07" r="0.8" fill="#fff" stroke="#E24B4B" stroke-width="0.5"/>
<circle cx="529.28" cy="464" r="0.8" fill="#fff" stroke="#5AAEE8" stroke-width="0.5"/>
<circle cx="523.09" cy="479.08" r="0.8" fill="#fff" stroke="#E24B4B" stroke-width="0.5"/>
<circle cx="527.2" cy="483.14" r="0.8" fill="#fff" stroke="#E24B4B" stroke-width="0.5"/>
<circle cx="526.57" cy="487.53" r="0.8" fill="#fff" stroke="#E24B4B" stroke-width="0.5"/>
<circle cx="525.43" cy="471.04" r="0.8" fill="#fff" stroke="#E24B4B" stroke-width="0.5"/>
<circle cx="523.36" cy="466.25" r="0.8" fill="#fff" stroke="#E24B4B" stroke-width="0.5"/>
<circle cx="523.67" cy="481.57" r="0.8" fill="#fff" stroke="#E24B4B" stroke-width="0.5"/>
<circle cx="531.12" cy="478.09" r="0.8" fill="#fff" stroke="#E24B4B" stroke-width="0.5"/>
<circle cx="529.42" cy="461.88" r="0.8" fill="#fff" stroke="#E24B4B" stroke-width="0.5"/>
<circle cx="526.19" cy="481.6" r="0.8" fill="#fff" stroke="#E24B4B" stroke-width="0.5"/>
<circle cx="522.94" cy="476.88" r="0.8" fill="#fff" stroke="#E24B4B" stroke-width="0.5"/>
<circle cx="526.1" cy="469.07" r="0.8" fill="#fff" stroke="#E24B4B" stroke-width="0.5"/>
<circle cx="529.15" cy="457.47" r="0.8" fill="#fff" stroke="#E24B4B" stroke-width="0.5"/>
<circle cx="524.54" cy="476.71" r="0.8" fill="#fff" stroke="#E24B4B" stroke-width="0.5"/>
<circle cx="529.65" cy="476.45" r="0.8" fill="#fff" stroke="#5AAEE8" stroke-width="0.5"/>
<circle cx="525.67" cy="484.81" r="0.8" fill="#fff" stroke="#E24B4B" stroke-width="0.5"/>
<circle cx="526.11" cy="469.76" r="0.8" fill="#fff" stroke="#5AAEE8" stroke-width="0.5"/>
<circle cx="529.51" cy="470.19" r="0.8" fill="#fff" stroke="#5AAEE8" stroke-width="0.5"/>
<circle cx="527.12" cy="466.65" r="0.8" fill="#fff" stroke="#E24B4B" stroke-width="0.5"/>
<circle cx="530.81" cy="475.36" r="0.8" fill="#fff" stroke="#5AAEE8" stroke-width="0.5"/>
<circle cx="531.19" cy="462.81" r="0.8" fill="#fff" stroke="#E24B4B" stroke-width="0.5"/>
<circle cx="528.14" cy="458.74" r="0.8" fill="#fff" stroke="#5AAEE8" stroke-width="0.5"/>
<circle cx="525.46" cy="462.89" r="0.8" fill="#fff" stroke="#E24B4B" stroke-width="0.5"/>
<circle cx="522.81" cy="460.74" r="0.8" fill="#fff" stroke="#5AAEE8" stroke-width="0.5"/>
<circle cx="531.2" cy="464.69" r="0.8" fill="#fff" stroke="#5AAEE8" stroke-width="0.5"/>
<circle cx="523.02" cy="457.21" r="0.8" fill="#fff" stroke="#E24B4B" stroke-width="0.5"/>
<circle cx="523.61" cy="459.34" r="0.8" fill="#fff" stroke="#E24B4B" stroke-width="0.5"/>
<circle cx="528.44" cy="463.16" r="0.8" fill="#fff" stroke="#E24B4B" stroke-width="0.5"/>
<circle cx="530.81" cy="466.55" r="0.8" fill="#fff" stroke="#E24B4B" stroke-width="0.5"/>
<circle cx="526.61" cy="472.36" r="0.8" fill="#fff" stroke="#E24B4B" stroke-width="0.5"/>
<circle cx="530.07" cy="470.75" r="0.8" fill="#fff" stroke="#E24B4B" stroke-width="0.5"/>
<circle cx="524.24" cy="474.87" r="0.8" fill="#fff" stroke="#E24B4B" stroke-width="0.5"/>
<circle cx="529.16" cy="460.02" r="0.8" fill="#fff" stroke="#E24B4B" stroke-width="0.5"/>
<circle cx="527.64" cy="473.74" r="0.8" fill="#fff" stroke="#E24B4B" stroke-width="0.5"/>
<circle cx="525.02" cy="457.54" r="0.8" fill="#fff" stroke="#E24B4B" stroke-width="0.5"/>
<circle cx="523.29" cy="468.6" r="0.8" fill="#fff" stroke="#E24B4B" stroke-width="0.5"/>
<circle cx="527.04" cy="475.45" r="0.8" fill="#fff" stroke="#E24B4B" stroke-width="0.5"/>
<circle cx="523.55" cy="470.82" r="0.8" fill="#fff" stroke="#E24B4B" stroke-width="0.5"/>
<circle cx="526.69" cy="457.8" r="0.8" fill="#fff" stroke="#E24B4B" stroke-width="0.5"/>
<circle cx="529.85" cy="479.07" r="0.8" fill="#fff" stroke="#E24B4B" stroke-width="0.5"/>
<circle cx="529.67" cy="464.22" r="0.8" fill="#fff" stroke="#E24B4B" stroke-width="0.5"/>
<circle cx="530.88" cy="480.72" r="0.8" fill="#fff" stroke="#E24B4B" stroke-width="0.5"/>
<circle cx="524.65" cy="483.09" r="0.8" fill="#fff" stroke="#E24B4B" stroke-width="0.5"/>
<circle cx="526.01" cy="465.41" r="0.8" fill="#fff" stroke="#E24B4B" stroke-width="0.5"/>
<circle cx="529.65" cy="464.14" r="0.8" fill="#fff" stroke="#5AAEE8" stroke-width="0.5"/>
<circle cx="526.53" cy="479.89" r="0.8" fill="#fff" stroke="#E24B4B" stroke-width="0.5"/>
<circle cx="523.52" cy="473.59" r="0.8" fill="#fff" stroke="#5AAEE8" stroke-width="0.5"/>
<circle cx="526.95" cy="460.07" r="0.8" fill="#fff" stroke="#E24B4B" stroke-width="0.5"/>
<circle cx="524.36" cy="464.89" r="0.8" fill="#fff" stroke="#E24B4B" stroke-width="0.5"/>
<circle cx="528.96" cy="482.29" r="0.8" fill="#fff" stroke="#E24B4B" stroke-width="0.5"/>
<circle cx="528.43" cy="471.92" r="0.8" fill="#fff" stroke="#E24B4B" stroke-width="0.5"/>
<circle cx="524.79" cy="480.41" r="0.8" fill="#fff" stroke="#E24B4B" stroke-width="0.5"/>
<circle cx="526.88" cy="463.89" r="0.8" fill="#fff" stroke="#E24B4B" stroke-width="0.5"/>
<circle cx="523.31" cy="477.92" r="0.8" fill="#fff" stroke="#5AAEE8" stroke-width="0.5"/>
<circle cx="526.09" cy="477.11" r="0.8" fill="#fff" stroke="#E24B4B" stroke-width="0.5"/>
<circle cx="530.62" cy="460.69" r="0.8" fill="#fff" stroke="#E24B4B" stroke-width="0.5"/>
<circle cx="531.11" cy="458.35" r="0.8" fill="#fff" stroke="#E24B4B" stroke-width="0.5"/>
<circle cx="529.07" cy="484.64" r="0.8" fill="#fff" stroke="#E24B4B" stroke-width="0.5"/>
<circle cx="525.29" cy="459.2" r="0.8" fill="#fff" stroke="#E24B4B" stroke-width="0.5"/>
<circle cx="524.94" cy="478.82" r="0.8" fill="#fff" stroke="#E24B4B" stroke-width="0.5"/>
<circle cx="528.21" cy="465.21" r="0.8" fill="#fff" stroke="#E24B4B" stroke-width="0.5"/>
<circle cx="528.19" cy="478.08" r="0.8" fill="#fff" stroke="#E24B4B" stroke-width="0.5"/>
<circle cx="529.18" cy="467.66" r="0.8" fill="#fff" stroke="#E24B4B" stroke-width="0.5"/>
<circle cx="528.74" cy="475.96" r="0.8" fill="#fff" stroke="#E24B4B" stroke-width="0.5"/>
<circle cx="525.37" cy="467.23" r="0.8" fill="#fff" stroke="#E24B4B" stroke-width="0.5"/>
<circle cx="531.14" cy="459.04" r="0.8" fill="#fff" stroke="#5AAEE8" stroke-width="0.5"/>
<circle cx="525.47" cy="461.25" r="0.8" fill="#fff" stroke="#5AAEE8" stroke-width="0.5"/>
<circle cx="530.57" cy="468.99" r="0.8" fill="#fff" stroke="#E24B4B" stroke-width="0.5"/>
<circle cx="528.01" cy="480.9" r="0.8" fill="#fff" stroke="#E24B4B" stroke-width="0.5"/>
<circle cx="523.02" cy="463.32" r="0.8" fill="#fff" stroke="#E24B4B" stroke-width="0.5"/>
<circle cx="527.03" cy="470.53" r="0.8" fill="#fff" stroke="#E24B4B" stroke-width="0.5"/>
<circle cx="523.46" cy="472.67" r="0.8" fill="#fff" stroke="#E24B4B" stroke-width="0.5"/>
<circle cx="524" cy="461.94" r="0.8" fill="#fff" stroke="#E24B4B" stroke-width="0.5"/>
<circle cx="527.57" cy="468.22" r="0.8" fill="#fff" stroke="#E24B4B" stroke-width="0.5"/>
<circle cx="528.61" cy="469.52" r="0.8" fill="#fff" stroke="#E24B4B" stroke-width="0.5"/>
<circle cx="527.16" cy="462.02" r="0.8" fill="#fff" stroke="#E24B4B" stroke-width="0.5"/>
<circle cx="529.39" cy="472.84" r="0.8" fill="#fff" stroke="#5AAEE8" stroke-width="0.5"/>
<circle cx="531.13" cy="482.35" r="0.8" fill="#fff" stroke="#E24B4B" stroke-width="0.5"/>
<circle cx="525.88" cy="473.84" r="0.8" fill="#fff" stroke="#E24B4B" stroke-width="0.5"/>
<circle cx="529.22" cy="473.35" r="0.8" fill="#fff" stroke="#E24B4B" stroke-width="0.5"/>
<circle cx="527.92" cy="486.32" r="0.8" fill="#fff" stroke="#E24B4B" stroke-width="0.5"/>
<circle cx="530.25" cy="474.67" r="0.8" fill="#fff" stroke="#E24B4B" stroke-width="0.5"/>
<path d="M528 436.6 L532.4 441 L528 445.4 L523.6 441 Z" fill="#5FCB9B"/>
<text transform="translate(537.2 437.4) rotate(-45) scale(1 1.05)" font-size="6.3" text-anchor="start" fill="#2a2a2a">IIV (15 µg)</text>
<line x1="360" y1="496.3" x2="495.2" y2="496.3" stroke="#1b1b1b" stroke-width="1"/>
<text transform="translate(430 505.5) scale(1 1.05)" font-size="7.6" text-anchor="middle" fill="#222">IN</text>
<text transform="translate(529 505.5) scale(1 1.05)" font-size="7.6" text-anchor="middle" fill="#222">IM</text>
<circle cx="548.4" cy="454.6" r="1.5" fill="#4DA6E8" stroke="#4DA6E8" stroke-width="0.1"/>
<circle cx="548.4" cy="462.6" r="1.5" fill="#EE2020" stroke="#EE2020" stroke-width="0.1"/>
<circle cx="548.4" cy="470.3" r="1.2" fill="#fff" stroke="#4DA6E8" stroke-width="0.6"/>
<circle cx="548.4" cy="477.7" r="1.2" fill="#fff" stroke="#E24B4B" stroke-width="0.6"/>
<text transform="translate(555.8 456.7) scale(1 1.05)" font-size="5.9" text-anchor="start" fill="#333">STV</text>
<text transform="translate(555.8 464.7) scale(1 1.05)" font-size="5.9" text-anchor="start" fill="#333">DIP</text>
<text transform="translate(555.8 472.4) scale(1 1.05)" font-size="5.9" text-anchor="start" fill="#333">Inactivated STV</text>
<text transform="translate(555.8 479.8) scale(1 1.05)" font-size="5.9" text-anchor="start" fill="#333">Inactivated DIP</text>
<text transform="translate(177.9 527) scale(1 1.05)" font-size="9.4" font-weight="bold" stroke="#1a1a1a" stroke-width="0.22" text-anchor="middle" fill="#1a1a1a">NALFs sIgA (day 31)</text>
<line x1="27.5" y1="548.2" x2="27.5" y2="577.2" stroke="#1b1b1b" stroke-width="1.4"/>
<line x1="27.5" y1="582.6" x2="27.5" y2="626.1" stroke="#1b1b1b" stroke-width="1.4"/>
<line x1="25.3" y1="579.6" x2="28.9" y2="575.6" stroke="#1b1b1b" stroke-width="1.1"/>
<line x1="25.3" y1="585.2" x2="28.9" y2="581.2" stroke="#1b1b1b" stroke-width="1.1"/>
<line x1="24" y1="548.8" x2="27.5" y2="548.8" stroke="#1b1b1b" stroke-width="1.1"/>
<text transform="translate(23.5 550.8) scale(1 1.05)" font-size="5.75" font-weight="bold" stroke="#1a1a1a" stroke-width="0.14" text-anchor="end" fill="#1a1a1a">1000</text>
<line x1="24" y1="555.1" x2="27.5" y2="555.1" stroke="#1b1b1b" stroke-width="1.1"/>
<text transform="translate(23.5 557.1) scale(1 1.05)" font-size="5.75" font-weight="bold" stroke="#1a1a1a" stroke-width="0.14" text-anchor="end" fill="#1a1a1a">800</text>
<line x1="24" y1="561.4" x2="27.5" y2="561.4" stroke="#1b1b1b" stroke-width="1.1"/>
<text transform="translate(23.5 563.4) scale(1 1.05)" font-size="5.75" font-weight="bold" stroke="#1a1a1a" stroke-width="0.14" text-anchor="end" fill="#1a1a1a">600</text>
<line x1="24" y1="567.7" x2="27.5" y2="567.7" stroke="#1b1b1b" stroke-width="1.1"/>
<text transform="translate(23.5 569.7) scale(1 1.05)" font-size="5.75" font-weight="bold" stroke="#1a1a1a" stroke-width="0.14" text-anchor="end" fill="#1a1a1a">400</text>
<line x1="24" y1="574" x2="27.5" y2="574" stroke="#1b1b1b" stroke-width="1.1"/>
<text transform="translate(23.5 576) scale(1 1.05)" font-size="5.75" font-weight="bold" stroke="#1a1a1a" stroke-width="0.14" text-anchor="end" fill="#1a1a1a">200</text>
<line x1="24" y1="583" x2="27.5" y2="583" stroke="#1b1b1b" stroke-width="1.1"/>
<text transform="translate(23.5 585) scale(1 1.05)" font-size="5.75" font-weight="bold" stroke="#1a1a1a" stroke-width="0.14" text-anchor="end" fill="#1a1a1a">100</text>
<line x1="24" y1="591.5" x2="27.5" y2="591.5" stroke="#1b1b1b" stroke-width="1.1"/>
<text transform="translate(23.5 593.5) scale(1 1.05)" font-size="5.75" font-weight="bold" stroke="#1a1a1a" stroke-width="0.14" text-anchor="end" fill="#1a1a1a">80</text>
<line x1="24" y1="600" x2="27.5" y2="600" stroke="#1b1b1b" stroke-width="1.1"/>
<text transform="translate(23.5 602) scale(1 1.05)" font-size="5.75" font-weight="bold" stroke="#1a1a1a" stroke-width="0.14" text-anchor="end" fill="#1a1a1a">60</text>
<line x1="24" y1="608.5" x2="27.5" y2="608.5" stroke="#1b1b1b" stroke-width="1.1"/>
<text transform="translate(23.5 610.5) scale(1 1.05)" font-size="5.75" font-weight="bold" stroke="#1a1a1a" stroke-width="0.14" text-anchor="end" fill="#1a1a1a">40</text>
<line x1="24" y1="617" x2="27.5" y2="617" stroke="#1b1b1b" stroke-width="1.1"/>
<text transform="translate(23.5 619) scale(1 1.05)" font-size="5.75" font-weight="bold" stroke="#1a1a1a" stroke-width="0.14" text-anchor="end" fill="#1a1a1a">20</text>
<line x1="24" y1="625.5" x2="27.5" y2="625.5" stroke="#1b1b1b" stroke-width="1.1"/>
<text transform="translate(23.5 627.5) scale(1 1.05)" font-size="5.75" font-weight="bold" stroke="#1a1a1a" stroke-width="0.14" text-anchor="end" fill="#1a1a1a">0</text>
<line x1="26.9" y1="625.5" x2="332" y2="625.5" stroke="#1b1b1b" stroke-width="1.4"/>
<text transform="translate(7.9 588.3) rotate(-90) scale(1 1.05)" font-size="6.9" font-weight="bold" stroke="#1a1a1a" stroke-width="0.17" text-anchor="middle" fill="#1a1a1a">Endpoint titer</text>
<text transform="translate(116.5 541.9) scale(1 1.05)" font-size="6" font-weight="bold" stroke="#222" stroke-width="0.15" text-anchor="middle" fill="#222">H3N2</text>
<text transform="translate(265.3 542) scale(1 1.05)" font-size="6" font-weight="bold" stroke="#222" stroke-width="0.15" text-anchor="middle" fill="#222">H1N1 and H1N1pdm09</text>
<line x1="201.9" y1="543" x2="201.9" y2="625.5" stroke="#222" stroke-width="1.1" stroke-dasharray="1.8 1.5"/>
<rect x="31" y="565" width="7.1" height="12.2" fill="#EF9B47"/>
<rect x="31" y="583" width="7.1" height="42.5" fill="#EF9B47"/>
<rect x="41.4" y="586" width="7.1" height="39.5" fill="#9B69D5"/>
<circle cx="52.8" cy="625.5" r="0.9" fill="#fff" stroke="#999" stroke-width="0.45"/>
<circle cx="54.47" cy="625.5" r="0.9" fill="#fff" stroke="#999" stroke-width="0.45"/>
<circle cx="56.13" cy="625.5" r="0.9" fill="#fff" stroke="#999" stroke-width="0.45"/>
<circle cx="57.8" cy="625.5" r="0.9" fill="#fff" stroke="#999" stroke-width="0.45"/>
<circle cx="63.1" cy="625.5" r="0.9" fill="#fff" stroke="#999" stroke-width="0.45"/>
<circle cx="64.77" cy="625.5" r="0.9" fill="#fff" stroke="#999" stroke-width="0.45"/>
<circle cx="66.43" cy="625.5" r="0.9" fill="#fff" stroke="#999" stroke-width="0.45"/>
<circle cx="68.1" cy="625.5" r="0.9" fill="#fff" stroke="#999" stroke-width="0.45"/>
<circle cx="73.5" cy="625.5" r="0.9" fill="#fff" stroke="#999" stroke-width="0.45"/>
<circle cx="75.17" cy="625.5" r="0.9" fill="#fff" stroke="#999" stroke-width="0.45"/>
<circle cx="76.83" cy="625.5" r="0.9" fill="#fff" stroke="#999" stroke-width="0.45"/>
<circle cx="78.5" cy="625.5" r="0.9" fill="#fff" stroke="#999" stroke-width="0.45"/>
<line x1="55" y1="626.3" x2="55" y2="629.3" stroke="#1b1b1b" stroke-width="1.1"/>
<circle cx="32.5" cy="567.76" r="1.15" fill="#fff" stroke="#333" stroke-width="0.5"/>
<circle cx="34.55" cy="567.06" r="1.15" fill="#fff" stroke="#333" stroke-width="0.5"/>
<circle cx="36.6" cy="564.36" r="1.15" fill="#fff" stroke="#333" stroke-width="0.5"/>
<circle cx="32.5" cy="563.07" r="1.15" fill="#fff" stroke="#333" stroke-width="0.5"/>
<circle cx="34.55" cy="565.09" r="1.15" fill="#fff" stroke="#333" stroke-width="0.5"/>
<circle cx="42.9" cy="586.57" r="1.15" fill="#fff" stroke="#333" stroke-width="0.5"/>
<circle cx="44.95" cy="585.43" r="1.15" fill="#fff" stroke="#333" stroke-width="0.5"/>
<circle cx="47" cy="586.62" r="1.15" fill="#fff" stroke="#333" stroke-width="0.5"/>
<circle cx="42.9" cy="583.65" r="1.15" fill="#fff" stroke="#333" stroke-width="0.5"/>
<circle cx="44.95" cy="588.51" r="1.15" fill="#fff" stroke="#333" stroke-width="0.5"/>
<line x1="34.55" y1="559" x2="34.55" y2="570" stroke="#1b1b1b" stroke-width="0.7"/>
<line x1="32.55" y1="559" x2="36.55" y2="559" stroke="#1b1b1b" stroke-width="0.7"/>
<line x1="44.95" y1="581" x2="44.95" y2="591" stroke="#1b1b1b" stroke-width="0.7"/>
<line x1="42.95" y1="581" x2="46.95" y2="581" stroke="#1b1b1b" stroke-width="0.7"/>
<rect x="90.1" y="575.2" width="7.1" height="2" fill="#EF9B47"/>
<rect x="90.1" y="583" width="7.1" height="42.5" fill="#EF9B47"/>
<rect x="100.5" y="604.1" width="7.1" height="21.4" fill="#9B69D5"/>
<circle cx="111.7" cy="625.5" r="0.9" fill="#fff" stroke="#999" stroke-width="0.45"/>
<circle cx="113.37" cy="625.5" r="0.9" fill="#fff" stroke="#999" stroke-width="0.45"/>
<circle cx="115.03" cy="625.5" r="0.9" fill="#fff" stroke="#999" stroke-width="0.45"/>
<circle cx="116.7" cy="625.5" r="0.9" fill="#fff" stroke="#999" stroke-width="0.45"/>
<circle cx="122" cy="625.5" r="0.9" fill="#fff" stroke="#999" stroke-width="0.45"/>
<circle cx="123.67" cy="625.5" r="0.9" fill="#fff" stroke="#999" stroke-width="0.45"/>
<circle cx="125.33" cy="625.5" r="0.9" fill="#fff" stroke="#999" stroke-width="0.45"/>
<circle cx="127" cy="625.5" r="0.9" fill="#fff" stroke="#999" stroke-width="0.45"/>
<circle cx="132.4" cy="625.5" r="0.9" fill="#fff" stroke="#999" stroke-width="0.45"/>
<circle cx="134.07" cy="625.5" r="0.9" fill="#fff" stroke="#999" stroke-width="0.45"/>
<circle cx="135.73" cy="625.5" r="0.9" fill="#fff" stroke="#999" stroke-width="0.45"/>
<circle cx="137.4" cy="625.5" r="0.9" fill="#fff" stroke="#999" stroke-width="0.45"/>
<line x1="113.9" y1="626.3" x2="113.9" y2="629.3" stroke="#1b1b1b" stroke-width="1.1"/>
<circle cx="91.6" cy="572.27" r="1.15" fill="#fff" stroke="#333" stroke-width="0.5"/>
<circle cx="93.65" cy="577.98" r="1.15" fill="#fff" stroke="#333" stroke-width="0.5"/>
<circle cx="95.7" cy="577.31" r="1.15" fill="#fff" stroke="#333" stroke-width="0.5"/>
<circle cx="91.6" cy="573.24" r="1.15" fill="#fff" stroke="#333" stroke-width="0.5"/>
<circle cx="93.65" cy="575.16" r="1.15" fill="#fff" stroke="#333" stroke-width="0.5"/>
<circle cx="102" cy="603.72" r="1.15" fill="#fff" stroke="#333" stroke-width="0.5"/>
<circle cx="104.05" cy="604.58" r="1.15" fill="#fff" stroke="#333" stroke-width="0.5"/>
<circle cx="106.1" cy="607.49" r="1.15" fill="#fff" stroke="#333" stroke-width="0.5"/>
<circle cx="102" cy="603.83" r="1.15" fill="#fff" stroke="#333" stroke-width="0.5"/>
<circle cx="104.05" cy="604.16" r="1.15" fill="#fff" stroke="#333" stroke-width="0.5"/>
<line x1="93.65" y1="569.2" x2="93.65" y2="580.2" stroke="#1b1b1b" stroke-width="0.7"/>
<line x1="91.65" y1="569.2" x2="95.65" y2="569.2" stroke="#1b1b1b" stroke-width="0.7"/>
<line x1="104.05" y1="599.1" x2="104.05" y2="609.1" stroke="#1b1b1b" stroke-width="0.7"/>
<line x1="102.05" y1="599.1" x2="106.05" y2="599.1" stroke="#1b1b1b" stroke-width="0.7"/>
<rect x="149.2" y="611.3" width="7.1" height="14.2" fill="#EF9B47"/>
<rect x="159.6" y="616.6" width="7.1" height="8.9" fill="#9B69D5"/>
<circle cx="170.6" cy="625.5" r="0.9" fill="#fff" stroke="#999" stroke-width="0.45"/>
<circle cx="172.27" cy="625.5" r="0.9" fill="#fff" stroke="#999" stroke-width="0.45"/>
<circle cx="173.93" cy="625.5" r="0.9" fill="#fff" stroke="#999" stroke-width="0.45"/>
<circle cx="175.6" cy="625.5" r="0.9" fill="#fff" stroke="#999" stroke-width="0.45"/>
<circle cx="180.9" cy="625.5" r="0.9" fill="#fff" stroke="#999" stroke-width="0.45"/>
<circle cx="182.57" cy="625.5" r="0.9" fill="#fff" stroke="#999" stroke-width="0.45"/>
<circle cx="184.23" cy="625.5" r="0.9" fill="#fff" stroke="#999" stroke-width="0.45"/>
<circle cx="185.9" cy="625.5" r="0.9" fill="#fff" stroke="#999" stroke-width="0.45"/>
<circle cx="191.3" cy="625.5" r="0.9" fill="#fff" stroke="#999" stroke-width="0.45"/>
<circle cx="192.97" cy="625.5" r="0.9" fill="#fff" stroke="#999" stroke-width="0.45"/>
<circle cx="194.63" cy="625.5" r="0.9" fill="#fff" stroke="#999" stroke-width="0.45"/>
<circle cx="196.3" cy="625.5" r="0.9" fill="#fff" stroke="#999" stroke-width="0.45"/>
<line x1="172.8" y1="626.3" x2="172.8" y2="629.3" stroke="#1b1b1b" stroke-width="1.1"/>
<circle cx="150.7" cy="614.95" r="1.15" fill="#fff" stroke="#333" stroke-width="0.5"/>
<circle cx="152.75" cy="614.88" r="1.15" fill="#fff" stroke="#333" stroke-width="0.5"/>
<circle cx="154.8" cy="607.75" r="1.15" fill="#fff" stroke="#333" stroke-width="0.5"/>
<circle cx="150.7" cy="607.98" r="1.15" fill="#fff" stroke="#333" stroke-width="0.5"/>
<circle cx="152.75" cy="613.98" r="1.15" fill="#fff" stroke="#333" stroke-width="0.5"/>
<circle cx="161.1" cy="616.4" r="1.15" fill="#fff" stroke="#333" stroke-width="0.5"/>
<circle cx="163.15" cy="617.86" r="1.15" fill="#fff" stroke="#333" stroke-width="0.5"/>
<circle cx="165.2" cy="617.93" r="1.15" fill="#fff" stroke="#333" stroke-width="0.5"/>
<circle cx="161.1" cy="613.74" r="1.15" fill="#fff" stroke="#333" stroke-width="0.5"/>
<circle cx="163.15" cy="612.69" r="1.15" fill="#fff" stroke="#333" stroke-width="0.5"/>
<line x1="152.75" y1="605.3" x2="152.75" y2="616.3" stroke="#1b1b1b" stroke-width="0.7"/>
<line x1="150.75" y1="605.3" x2="154.75" y2="605.3" stroke="#1b1b1b" stroke-width="0.7"/>
<line x1="163.15" y1="611.6" x2="163.15" y2="621.6" stroke="#1b1b1b" stroke-width="0.7"/>
<line x1="161.15" y1="611.6" x2="165.15" y2="611.6" stroke="#1b1b1b" stroke-width="0.7"/>
<rect x="208.3" y="615.1" width="7.1" height="10.4" fill="#EF9B47"/>
<rect x="218.7" y="621.2" width="7.1" height="4.3" fill="#9B69D5"/>
<circle cx="229.5" cy="625.5" r="0.9" fill="#fff" stroke="#999" stroke-width="0.45"/>
<circle cx="231.17" cy="625.5" r="0.9" fill="#fff" stroke="#999" stroke-width="0.45"/>
<circle cx="232.83" cy="625.5" r="0.9" fill="#fff" stroke="#999" stroke-width="0.45"/>
<circle cx="234.5" cy="625.5" r="0.9" fill="#fff" stroke="#999" stroke-width="0.45"/>
<circle cx="239.8" cy="625.5" r="0.9" fill="#fff" stroke="#999" stroke-width="0.45"/>
<circle cx="241.47" cy="625.5" r="0.9" fill="#fff" stroke="#999" stroke-width="0.45"/>
<circle cx="243.13" cy="625.5" r="0.9" fill="#fff" stroke="#999" stroke-width="0.45"/>
<circle cx="244.8" cy="625.5" r="0.9" fill="#fff" stroke="#999" stroke-width="0.45"/>
<circle cx="250.2" cy="625.5" r="0.9" fill="#fff" stroke="#999" stroke-width="0.45"/>
<circle cx="251.87" cy="625.5" r="0.9" fill="#fff" stroke="#999" stroke-width="0.45"/>
<circle cx="253.53" cy="625.5" r="0.9" fill="#fff" stroke="#999" stroke-width="0.45"/>
<circle cx="255.2" cy="625.5" r="0.9" fill="#fff" stroke="#999" stroke-width="0.45"/>
<line x1="231.7" y1="626.3" x2="231.7" y2="629.3" stroke="#1b1b1b" stroke-width="1.1"/>
<circle cx="209.8" cy="613" r="1.15" fill="#fff" stroke="#333" stroke-width="0.5"/>
<circle cx="211.85" cy="615.45" r="1.15" fill="#fff" stroke="#333" stroke-width="0.5"/>
<circle cx="213.9" cy="614.06" r="1.15" fill="#fff" stroke="#333" stroke-width="0.5"/>
<circle cx="209.8" cy="615.93" r="1.15" fill="#fff" stroke="#333" stroke-width="0.5"/>
<circle cx="211.85" cy="616.11" r="1.15" fill="#fff" stroke="#333" stroke-width="0.5"/>
<circle cx="220.2" cy="619.27" r="1.15" fill="#fff" stroke="#333" stroke-width="0.5"/>
<circle cx="222.25" cy="622.68" r="1.15" fill="#fff" stroke="#333" stroke-width="0.5"/>
<circle cx="224.3" cy="622.67" r="1.15" fill="#fff" stroke="#333" stroke-width="0.5"/>
<circle cx="220.2" cy="623.99" r="1.15" fill="#fff" stroke="#333" stroke-width="0.5"/>
<circle cx="222.25" cy="618.69" r="1.15" fill="#fff" stroke="#333" stroke-width="0.5"/>
<line x1="211.85" y1="609.1" x2="211.85" y2="620.1" stroke="#1b1b1b" stroke-width="0.7"/>
<line x1="209.85" y1="609.1" x2="213.85" y2="609.1" stroke="#1b1b1b" stroke-width="0.7"/>
<line x1="222.25" y1="616.2" x2="222.25" y2="626.2" stroke="#1b1b1b" stroke-width="0.7"/>
<line x1="220.25" y1="616.2" x2="224.25" y2="616.2" stroke="#1b1b1b" stroke-width="0.7"/>
<rect x="267.4" y="620.4" width="7.1" height="5.1" fill="#EF9B47"/>
<rect x="277.8" y="622" width="7.1" height="3.5" fill="#9B69D5"/>
<circle cx="288.4" cy="625.5" r="0.9" fill="#fff" stroke="#999" stroke-width="0.45"/>
<circle cx="290.07" cy="625.5" r="0.9" fill="#fff" stroke="#999" stroke-width="0.45"/>
<circle cx="291.73" cy="625.5" r="0.9" fill="#fff" stroke="#999" stroke-width="0.45"/>
<circle cx="293.4" cy="625.5" r="0.9" fill="#fff" stroke="#999" stroke-width="0.45"/>
<circle cx="298.7" cy="625.5" r="0.9" fill="#fff" stroke="#999" stroke-width="0.45"/>
<circle cx="300.37" cy="625.5" r="0.9" fill="#fff" stroke="#999" stroke-width="0.45"/>
<circle cx="302.03" cy="625.5" r="0.9" fill="#fff" stroke="#999" stroke-width="0.45"/>
<circle cx="303.7" cy="625.5" r="0.9" fill="#fff" stroke="#999" stroke-width="0.45"/>
<circle cx="309.1" cy="625.5" r="0.9" fill="#fff" stroke="#999" stroke-width="0.45"/>
<circle cx="310.77" cy="625.5" r="0.9" fill="#fff" stroke="#999" stroke-width="0.45"/>
<circle cx="312.43" cy="625.5" r="0.9" fill="#fff" stroke="#999" stroke-width="0.45"/>
<circle cx="314.1" cy="625.5" r="0.9" fill="#fff" stroke="#999" stroke-width="0.45"/>
<line x1="290.6" y1="626.3" x2="290.6" y2="629.3" stroke="#1b1b1b" stroke-width="1.1"/>
<circle cx="268.9" cy="618.29" r="1.15" fill="#fff" stroke="#333" stroke-width="0.5"/>
<circle cx="270.95" cy="617.23" r="1.15" fill="#fff" stroke="#333" stroke-width="0.5"/>
<circle cx="273" cy="619.57" r="1.15" fill="#fff" stroke="#333" stroke-width="0.5"/>
<circle cx="268.9" cy="617.64" r="1.15" fill="#fff" stroke="#333" stroke-width="0.5"/>
<circle cx="270.95" cy="616.93" r="1.15" fill="#fff" stroke="#333" stroke-width="0.5"/>
<circle cx="279.3" cy="618.85" r="1.15" fill="#fff" stroke="#333" stroke-width="0.5"/>
<circle cx="281.35" cy="623.62" r="1.15" fill="#fff" stroke="#333" stroke-width="0.5"/>
<circle cx="283.4" cy="623.22" r="1.15" fill="#fff" stroke="#333" stroke-width="0.5"/>
<circle cx="279.3" cy="624.5" r="1.15" fill="#fff" stroke="#333" stroke-width="0.5"/>
<circle cx="281.35" cy="620.17" r="1.15" fill="#fff" stroke="#333" stroke-width="0.5"/>
<line x1="270.95" y1="614.4" x2="270.95" y2="625.4" stroke="#1b1b1b" stroke-width="0.7"/>
<line x1="268.95" y1="614.4" x2="272.95" y2="614.4" stroke="#1b1b1b" stroke-width="0.7"/>
<line x1="281.35" y1="617" x2="281.35" y2="627" stroke="#1b1b1b" stroke-width="0.7"/>
<line x1="279.35" y1="617" x2="283.35" y2="617" stroke="#1b1b1b" stroke-width="0.7"/>
<path d="M34.5 546.8V544.2H45V569.2" fill="none" stroke="#333" stroke-width="0.7"/>
<text transform="translate(39.75 543.2) scale(1 1.05)" font-size="4.18" font-weight="bold" stroke="#222" stroke-width="0.1" text-anchor="middle" fill="#222">p=0.0040</text>
<path d="M93.7 572.5V569.5H104V597.5" fill="none" stroke="#333" stroke-width="0.7"/>
<text transform="translate(98.85 568.5) scale(1 1.05)" font-size="4.18" font-weight="bold" stroke="#222" stroke-width="0.1" text-anchor="middle" fill="#222">p=0.0002</text>
<path d="M152.5 603.9V601.4H163.3V611.4" fill="none" stroke="#333" stroke-width="0.7"/>
<text transform="translate(157.9 600.4) scale(1 1.05)" font-size="4.18" font-weight="bold" stroke="#222" stroke-width="0.1" text-anchor="middle" fill="#222">p=0.0056</text>
<path d="M211.8 606.1V603.6H222.2V617.6" fill="none" stroke="#333" stroke-width="0.7"/>
<text transform="translate(217 602.6) scale(1 1.05)" font-size="4.18" font-weight="bold" stroke="#222" stroke-width="0.1" text-anchor="middle" fill="#222">p=0.0086</text>
<path d="M271 614.4V611.9H281.3V617.9" fill="none" stroke="#333" stroke-width="0.7"/>
<text transform="translate(276.15 610.9) scale(1 1.05)" font-size="4.18" font-weight="bold" stroke="#222" stroke-width="0.1" text-anchor="middle" fill="#222">p=0.0219</text>
<text transform="translate(56.1 634.7) rotate(-45) scale(1 1.05)" font-size="5.8" font-weight="bold" stroke="#1a1a1a" stroke-width="0.14" text-anchor="end" fill="#1a1a1a">A/HK/4801/2014</text>
<text transform="translate(115 634.7) rotate(-45) scale(1 1.05)" font-size="5.8" font-weight="bold" stroke="#1a1a1a" stroke-width="0.14" text-anchor="end" fill="#1a1a1a">A/Cambodia/2020</text>
<text transform="translate(173.9 634.7) rotate(-45) scale(1 1.05)" font-size="5.8" font-weight="bold" stroke="#1a1a1a" stroke-width="0.14" text-anchor="end" fill="#1a1a1a">A/Aichi/2/1968 (X31)</text>
<text transform="translate(232.8 634.7) rotate(-45) scale(1 1.05)" font-size="5.8" font-weight="bold" stroke="#1a1a1a" stroke-width="0.14" text-anchor="end" fill="#1a1a1a">A/PR/8/1934</text>
<text transform="translate(291.7 634.7) rotate(-45) scale(1 1.05)" font-size="5.8" font-weight="bold" stroke="#1a1a1a" stroke-width="0.14" text-anchor="end" fill="#1a1a1a">A/Michigan/45/2015</text>
<text transform="translate(523.3 527.2) scale(1 1.05)" font-size="9.4" font-weight="bold" stroke="#1a1a1a" stroke-width="0.22" text-anchor="middle" fill="#1a1a1a">BALFs sIgA (day 31)</text>
<line x1="357.6" y1="547.4" x2="357.6" y2="577.2" stroke="#1b1b1b" stroke-width="1.4"/>
<line x1="357.6" y1="582.2" x2="357.6" y2="626.4" stroke="#1b1b1b" stroke-width="1.4"/>
<line x1="355.4" y1="580.4" x2="359" y2="576.4" stroke="#1b1b1b" stroke-width="1.1"/>
<line x1="355.4" y1="585.6" x2="359" y2="581.6" stroke="#1b1b1b" stroke-width="1.1"/>
<line x1="354.1" y1="548" x2="357.6" y2="548" stroke="#1b1b1b" stroke-width="1.1"/>
<text transform="translate(353.6 550) scale(1 1.05)" font-size="5.75" font-weight="bold" stroke="#1a1a1a" stroke-width="0.14" text-anchor="end" fill="#1a1a1a">2200</text>
<line x1="354.1" y1="555.27" x2="357.6" y2="555.27" stroke="#1b1b1b" stroke-width="1.1"/>
<text transform="translate(353.6 557.27) scale(1 1.05)" font-size="5.75" font-weight="bold" stroke="#1a1a1a" stroke-width="0.14" text-anchor="end" fill="#1a1a1a">1700</text>
<line x1="354.1" y1="562.54" x2="357.6" y2="562.54" stroke="#1b1b1b" stroke-width="1.1"/>
<text transform="translate(353.6 564.54) scale(1 1.05)" font-size="5.75" font-weight="bold" stroke="#1a1a1a" stroke-width="0.14" text-anchor="end" fill="#1a1a1a">1200</text>
<line x1="354.1" y1="569.81" x2="357.6" y2="569.81" stroke="#1b1b1b" stroke-width="1.1"/>
<text transform="translate(353.6 571.81) scale(1 1.05)" font-size="5.75" font-weight="bold" stroke="#1a1a1a" stroke-width="0.14" text-anchor="end" fill="#1a1a1a">700</text>
<line x1="354.1" y1="577.08" x2="357.6" y2="577.08" stroke="#1b1b1b" stroke-width="1.1"/>
<text transform="translate(353.6 579.08) scale(1 1.05)" font-size="5.75" font-weight="bold" stroke="#1a1a1a" stroke-width="0.14" text-anchor="end" fill="#1a1a1a">200</text>
<line x1="354.1" y1="583.2" x2="357.6" y2="583.2" stroke="#1b1b1b" stroke-width="1.1"/>
<text transform="translate(353.6 585.2) scale(1 1.05)" font-size="5.75" font-weight="bold" stroke="#1a1a1a" stroke-width="0.14" text-anchor="end" fill="#1a1a1a">200</text>
<line x1="354.1" y1="591.72" x2="357.6" y2="591.72" stroke="#1b1b1b" stroke-width="1.1"/>
<text transform="translate(353.6 593.72) scale(1 1.05)" font-size="5.75" font-weight="bold" stroke="#1a1a1a" stroke-width="0.14" text-anchor="end" fill="#1a1a1a">160</text>
<line x1="354.1" y1="600.24" x2="357.6" y2="600.24" stroke="#1b1b1b" stroke-width="1.1"/>
<text transform="translate(353.6 602.24) scale(1 1.05)" font-size="5.75" font-weight="bold" stroke="#1a1a1a" stroke-width="0.14" text-anchor="end" fill="#1a1a1a">120</text>
<line x1="354.1" y1="608.76" x2="357.6" y2="608.76" stroke="#1b1b1b" stroke-width="1.1"/>
<text transform="translate(353.6 610.76) scale(1 1.05)" font-size="5.75" font-weight="bold" stroke="#1a1a1a" stroke-width="0.14" text-anchor="end" fill="#1a1a1a">80</text>
<line x1="354.1" y1="617.28" x2="357.6" y2="617.28" stroke="#1b1b1b" stroke-width="1.1"/>
<text transform="translate(353.6 619.28) scale(1 1.05)" font-size="5.75" font-weight="bold" stroke="#1a1a1a" stroke-width="0.14" text-anchor="end" fill="#1a1a1a">40</text>
<line x1="354.1" y1="625.8" x2="357.6" y2="625.8" stroke="#1b1b1b" stroke-width="1.1"/>
<text transform="translate(353.6 627.8) scale(1 1.05)" font-size="5.75" font-weight="bold" stroke="#1a1a1a" stroke-width="0.14" text-anchor="end" fill="#1a1a1a">0</text>
<line x1="357" y1="625.8" x2="675.2" y2="625.8" stroke="#1b1b1b" stroke-width="1.4"/>
<text transform="translate(335.8 586.7) rotate(-90) scale(1 1.05)" font-size="6.3" font-weight="bold" stroke="#1a1a1a" stroke-width="0.16" text-anchor="middle" fill="#1a1a1a">Endpoint titer</text>
<text transform="translate(443.5 538.9) scale(1 1.05)" font-size="6" font-weight="bold" stroke="#222" stroke-width="0.15" text-anchor="middle" fill="#222">H3N2</text>
<text transform="translate(613.3 539.4) scale(1 1.05)" font-size="6" font-weight="bold" stroke="#222" stroke-width="0.15" text-anchor="middle" fill="#222">H1N1 and H1N1pdm09</text>
<line x1="547.7" y1="543.8" x2="547.7" y2="625.8" stroke="#222" stroke-width="1.1" stroke-dasharray="1.8 1.5"/>
<rect x="361.7" y="562.6" width="7.5" height="14.3" fill="#EF9B47"/>
<rect x="361.7" y="583.2" width="7.5" height="42.6" fill="#EF9B47"/>
<rect x="372.9" y="575.5" width="7.5" height="1.4" fill="#9B69D5"/>
<rect x="372.9" y="583.2" width="7.5" height="42.6" fill="#9B69D5"/>
<circle cx="384.95" cy="625.8" r="0.8" fill="#fff" stroke="#999" stroke-width="0.45"/>
<circle cx="386.45" cy="625.8" r="0.8" fill="#fff" stroke="#999" stroke-width="0.45"/>
<circle cx="387.95" cy="625.8" r="0.8" fill="#fff" stroke="#999" stroke-width="0.45"/>
<circle cx="389.45" cy="625.8" r="0.8" fill="#fff" stroke="#999" stroke-width="0.45"/>
<circle cx="390.95" cy="625.8" r="0.8" fill="#fff" stroke="#999" stroke-width="0.45"/>
<circle cx="392.45" cy="625.8" r="0.8" fill="#fff" stroke="#999" stroke-width="0.45"/>
<circle cx="395.65" cy="625.8" r="0.8" fill="#fff" stroke="#999" stroke-width="0.45"/>
<circle cx="397.15" cy="625.8" r="0.8" fill="#fff" stroke="#999" stroke-width="0.45"/>
<circle cx="398.65" cy="625.8" r="0.8" fill="#fff" stroke="#999" stroke-width="0.45"/>
<circle cx="400.15" cy="625.8" r="0.8" fill="#fff" stroke="#999" stroke-width="0.45"/>
<circle cx="401.65" cy="625.8" r="0.8" fill="#fff" stroke="#999" stroke-width="0.45"/>
<circle cx="403.15" cy="625.8" r="0.8" fill="#fff" stroke="#999" stroke-width="0.45"/>
<circle cx="406.35" cy="625.8" r="0.8" fill="#fff" stroke="#999" stroke-width="0.45"/>
<circle cx="407.85" cy="625.8" r="0.8" fill="#fff" stroke="#999" stroke-width="0.45"/>
<circle cx="409.35" cy="625.8" r="0.8" fill="#fff" stroke="#999" stroke-width="0.45"/>
<circle cx="410.85" cy="625.8" r="0.8" fill="#fff" stroke="#999" stroke-width="0.45"/>
<circle cx="412.35" cy="625.8" r="0.8" fill="#fff" stroke="#999" stroke-width="0.45"/>
<circle cx="413.85" cy="625.8" r="0.8" fill="#fff" stroke="#999" stroke-width="0.45"/>
<line x1="388.2" y1="626.6" x2="388.2" y2="629.6" stroke="#1b1b1b" stroke-width="1.1"/>
<circle cx="363.4" cy="565.85" r="1.15" fill="#fff" stroke="#333" stroke-width="0.5"/>
<circle cx="365.45" cy="564.09" r="1.15" fill="#fff" stroke="#333" stroke-width="0.5"/>
<circle cx="367.5" cy="564.73" r="1.15" fill="#fff" stroke="#333" stroke-width="0.5"/>
<circle cx="363.4" cy="565.84" r="1.15" fill="#fff" stroke="#333" stroke-width="0.5"/>
<circle cx="365.45" cy="560.68" r="1.15" fill="#fff" stroke="#333" stroke-width="0.5"/>
<circle cx="374.6" cy="575.81" r="1.15" fill="#fff" stroke="#333" stroke-width="0.5"/>
<circle cx="376.65" cy="573.81" r="1.15" fill="#fff" stroke="#333" stroke-width="0.5"/>
<circle cx="378.7" cy="571.74" r="1.15" fill="#fff" stroke="#333" stroke-width="0.5"/>
<circle cx="374.6" cy="576.73" r="1.15" fill="#fff" stroke="#333" stroke-width="0.5"/>
<circle cx="376.65" cy="573.18" r="1.15" fill="#fff" stroke="#333" stroke-width="0.5"/>
<line x1="365.45" y1="556.6" x2="365.45" y2="567.6" stroke="#1b1b1b" stroke-width="0.7"/>
<line x1="363.45" y1="556.6" x2="367.45" y2="556.6" stroke="#1b1b1b" stroke-width="0.7"/>
<line x1="376.65" y1="570.5" x2="376.65" y2="580.5" stroke="#1b1b1b" stroke-width="0.7"/>
<rect x="426.1" y="569.4" width="7.5" height="7.5" fill="#EF9B47"/>
<rect x="426.1" y="583.2" width="7.5" height="42.6" fill="#EF9B47"/>
<rect x="437.1" y="575.5" width="7.5" height="1.4" fill="#9B69D5"/>
<rect x="437.1" y="583.2" width="7.5" height="42.6" fill="#9B69D5"/>
<circle cx="449.3" cy="625.8" r="0.8" fill="#fff" stroke="#999" stroke-width="0.45"/>
<circle cx="450.8" cy="625.8" r="0.8" fill="#fff" stroke="#999" stroke-width="0.45"/>
<circle cx="452.3" cy="625.8" r="0.8" fill="#fff" stroke="#999" stroke-width="0.45"/>
<circle cx="453.8" cy="625.8" r="0.8" fill="#fff" stroke="#999" stroke-width="0.45"/>
<circle cx="455.3" cy="625.8" r="0.8" fill="#fff" stroke="#999" stroke-width="0.45"/>
<circle cx="456.8" cy="625.8" r="0.8" fill="#fff" stroke="#999" stroke-width="0.45"/>
<circle cx="460" cy="625.8" r="0.8" fill="#fff" stroke="#999" stroke-width="0.45"/>
<circle cx="461.5" cy="625.8" r="0.8" fill="#fff" stroke="#999" stroke-width="0.45"/>
<circle cx="463" cy="625.8" r="0.8" fill="#fff" stroke="#999" stroke-width="0.45"/>
<circle cx="464.5" cy="625.8" r="0.8" fill="#fff" stroke="#999" stroke-width="0.45"/>
<circle cx="466" cy="625.8" r="0.8" fill="#fff" stroke="#999" stroke-width="0.45"/>
<circle cx="467.5" cy="625.8" r="0.8" fill="#fff" stroke="#999" stroke-width="0.45"/>
<circle cx="470.7" cy="625.8" r="0.8" fill="#fff" stroke="#999" stroke-width="0.45"/>
<circle cx="472.2" cy="625.8" r="0.8" fill="#fff" stroke="#999" stroke-width="0.45"/>
<circle cx="473.7" cy="625.8" r="0.8" fill="#fff" stroke="#999" stroke-width="0.45"/>
<circle cx="475.2" cy="625.8" r="0.8" fill="#fff" stroke="#999" stroke-width="0.45"/>
<circle cx="476.7" cy="625.8" r="0.8" fill="#fff" stroke="#999" stroke-width="0.45"/>
<circle cx="478.2" cy="625.8" r="0.8" fill="#fff" stroke="#999" stroke-width="0.45"/>
<line x1="452.55" y1="626.6" x2="452.55" y2="629.6" stroke="#1b1b1b" stroke-width="1.1"/>
<circle cx="427.8" cy="566.72" r="1.15" fill="#fff" stroke="#333" stroke-width="0.5"/>
<circle cx="429.85" cy="570.92" r="1.15" fill="#fff" stroke="#333" stroke-width="0.5"/>
<circle cx="431.9" cy="570.48" r="1.15" fill="#fff" stroke="#333" stroke-width="0.5"/>
<circle cx="427.8" cy="569.23" r="1.15" fill="#fff" stroke="#333" stroke-width="0.5"/>
<circle cx="429.85" cy="567.13" r="1.15" fill="#fff" stroke="#333" stroke-width="0.5"/>
<circle cx="438.8" cy="571.6" r="1.15" fill="#fff" stroke="#333" stroke-width="0.5"/>
<circle cx="440.85" cy="572.4" r="1.15" fill="#fff" stroke="#333" stroke-width="0.5"/>
<circle cx="442.9" cy="574.64" r="1.15" fill="#fff" stroke="#333" stroke-width="0.5"/>
<circle cx="438.8" cy="576.97" r="1.15" fill="#fff" stroke="#333" stroke-width="0.5"/>
<circle cx="440.85" cy="572.61" r="1.15" fill="#fff" stroke="#333" stroke-width="0.5"/>
<line x1="429.85" y1="563.4" x2="429.85" y2="574.4" stroke="#1b1b1b" stroke-width="0.7"/>
<line x1="427.85" y1="563.4" x2="431.85" y2="563.4" stroke="#1b1b1b" stroke-width="0.7"/>
<line x1="440.85" y1="570.5" x2="440.85" y2="580.5" stroke="#1b1b1b" stroke-width="0.7"/>
<rect x="490.5" y="582.9" width="7.5" height="42.9" fill="#EF9B47"/>
<rect x="501.3" y="596.3" width="7.5" height="29.5" fill="#9B69D5"/>
<circle cx="513.65" cy="625.8" r="0.8" fill="#fff" stroke="#999" stroke-width="0.45"/>
<circle cx="515.15" cy="625.8" r="0.8" fill="#fff" stroke="#999" stroke-width="0.45"/>
<circle cx="516.65" cy="625.8" r="0.8" fill="#fff" stroke="#999" stroke-width="0.45"/>
<circle cx="518.15" cy="625.8" r="0.8" fill="#fff" stroke="#999" stroke-width="0.45"/>
<circle cx="519.65" cy="625.8" r="0.8" fill="#fff" stroke="#999" stroke-width="0.45"/>
<circle cx="521.15" cy="625.8" r="0.8" fill="#fff" stroke="#999" stroke-width="0.45"/>
<circle cx="524.35" cy="625.8" r="0.8" fill="#fff" stroke="#999" stroke-width="0.45"/>
<circle cx="525.85" cy="625.8" r="0.8" fill="#fff" stroke="#999" stroke-width="0.45"/>
<circle cx="527.35" cy="625.8" r="0.8" fill="#fff" stroke="#999" stroke-width="0.45"/>
<circle cx="528.85" cy="625.8" r="0.8" fill="#fff" stroke="#999" stroke-width="0.45"/>
<circle cx="530.35" cy="625.8" r="0.8" fill="#fff" stroke="#999" stroke-width="0.45"/>
<circle cx="531.85" cy="625.8" r="0.8" fill="#fff" stroke="#999" stroke-width="0.45"/>
<circle cx="535.05" cy="625.8" r="0.8" fill="#fff" stroke="#999" stroke-width="0.45"/>
<circle cx="536.55" cy="625.8" r="0.8" fill="#fff" stroke="#999" stroke-width="0.45"/>
<circle cx="538.05" cy="625.8" r="0.8" fill="#fff" stroke="#999" stroke-width="0.45"/>
<circle cx="539.55" cy="625.8" r="0.8" fill="#fff" stroke="#999" stroke-width="0.45"/>
<circle cx="541.05" cy="625.8" r="0.8" fill="#fff" stroke="#999" stroke-width="0.45"/>
<circle cx="542.55" cy="625.8" r="0.8" fill="#fff" stroke="#999" stroke-width="0.45"/>
<line x1="516.9" y1="626.6" x2="516.9" y2="629.6" stroke="#1b1b1b" stroke-width="1.1"/>
<circle cx="492.2" cy="586.57" r="1.15" fill="#fff" stroke="#333" stroke-width="0.5"/>
<circle cx="494.25" cy="580.02" r="1.15" fill="#fff" stroke="#333" stroke-width="0.5"/>
<circle cx="496.3" cy="579.09" r="1.15" fill="#fff" stroke="#333" stroke-width="0.5"/>
<circle cx="492.2" cy="586.89" r="1.15" fill="#fff" stroke="#333" stroke-width="0.5"/>
<circle cx="494.25" cy="580.37" r="1.15" fill="#fff" stroke="#333" stroke-width="0.5"/>
<circle cx="503" cy="592.92" r="1.15" fill="#fff" stroke="#333" stroke-width="0.5"/>
<circle cx="505.05" cy="594.01" r="1.15" fill="#fff" stroke="#333" stroke-width="0.5"/>
<circle cx="507.1" cy="594.73" r="1.15" fill="#fff" stroke="#333" stroke-width="0.5"/>
<circle cx="503" cy="599.5" r="1.15" fill="#fff" stroke="#333" stroke-width="0.5"/>
<circle cx="505.05" cy="596.27" r="1.15" fill="#fff" stroke="#333" stroke-width="0.5"/>
<line x1="494.25" y1="576.9" x2="494.25" y2="587.9" stroke="#1b1b1b" stroke-width="0.7"/>
<line x1="492.25" y1="576.9" x2="496.25" y2="576.9" stroke="#1b1b1b" stroke-width="0.7"/>
<line x1="505.05" y1="591.3" x2="505.05" y2="601.3" stroke="#1b1b1b" stroke-width="0.7"/>
<rect x="554.9" y="596" width="7.5" height="29.8" fill="#EF9B47"/>
<rect x="565.5" y="614" width="7.5" height="11.8" fill="#9B69D5"/>
<circle cx="578" cy="625.8" r="0.8" fill="#fff" stroke="#999" stroke-width="0.45"/>
<circle cx="579.5" cy="625.8" r="0.8" fill="#fff" stroke="#999" stroke-width="0.45"/>
<circle cx="581" cy="625.8" r="0.8" fill="#fff" stroke="#999" stroke-width="0.45"/>
<circle cx="582.5" cy="625.8" r="0.8" fill="#fff" stroke="#999" stroke-width="0.45"/>
<circle cx="584" cy="625.8" r="0.8" fill="#fff" stroke="#999" stroke-width="0.45"/>
<circle cx="585.5" cy="625.8" r="0.8" fill="#fff" stroke="#999" stroke-width="0.45"/>
<circle cx="588.7" cy="625.8" r="0.8" fill="#fff" stroke="#999" stroke-width="0.45"/>
<circle cx="590.2" cy="625.8" r="0.8" fill="#fff" stroke="#999" stroke-width="0.45"/>
<circle cx="591.7" cy="625.8" r="0.8" fill="#fff" stroke="#999" stroke-width="0.45"/>
<circle cx="593.2" cy="625.8" r="0.8" fill="#fff" stroke="#999" stroke-width="0.45"/>
<circle cx="594.7" cy="625.8" r="0.8" fill="#fff" stroke="#999" stroke-width="0.45"/>
<circle cx="596.2" cy="625.8" r="0.8" fill="#fff" stroke="#999" stroke-width="0.45"/>
<circle cx="599.4" cy="625.8" r="0.8" fill="#fff" stroke="#999" stroke-width="0.45"/>
<circle cx="600.9" cy="625.8" r="0.8" fill="#fff" stroke="#999" stroke-width="0.45"/>
<circle cx="602.4" cy="625.8" r="0.8" fill="#fff" stroke="#999" stroke-width="0.45"/>
<circle cx="603.9" cy="625.8" r="0.8" fill="#fff" stroke="#999" stroke-width="0.45"/>
<circle cx="605.4" cy="625.8" r="0.8" fill="#fff" stroke="#999" stroke-width="0.45"/>
<circle cx="606.9" cy="625.8" r="0.8" fill="#fff" stroke="#999" stroke-width="0.45"/>
<line x1="581.25" y1="626.6" x2="581.25" y2="629.6" stroke="#1b1b1b" stroke-width="1.1"/>
<circle cx="556.6" cy="599.4" r="1.15" fill="#fff" stroke="#333" stroke-width="0.5"/>
<circle cx="558.65" cy="599.59" r="1.15" fill="#fff" stroke="#333" stroke-width="0.5"/>
<circle cx="560.7" cy="599.14" r="1.15" fill="#fff" stroke="#333" stroke-width="0.5"/>
<circle cx="556.6" cy="592.67" r="1.15" fill="#fff" stroke="#333" stroke-width="0.5"/>
<circle cx="558.65" cy="596.74" r="1.15" fill="#fff" stroke="#333" stroke-width="0.5"/>
<circle cx="567.2" cy="614.56" r="1.15" fill="#fff" stroke="#333" stroke-width="0.5"/>
<circle cx="569.25" cy="615.06" r="1.15" fill="#fff" stroke="#333" stroke-width="0.5"/>
<circle cx="571.3" cy="616.54" r="1.15" fill="#fff" stroke="#333" stroke-width="0.5"/>
<circle cx="567.2" cy="612.22" r="1.15" fill="#fff" stroke="#333" stroke-width="0.5"/>
<circle cx="569.25" cy="615.21" r="1.15" fill="#fff" stroke="#333" stroke-width="0.5"/>
<line x1="558.65" y1="590" x2="558.65" y2="601" stroke="#1b1b1b" stroke-width="0.7"/>
<line x1="556.65" y1="590" x2="560.65" y2="590" stroke="#1b1b1b" stroke-width="0.7"/>
<line x1="569.25" y1="609" x2="569.25" y2="619" stroke="#1b1b1b" stroke-width="0.7"/>
<rect x="619.3" y="619" width="7.5" height="6.8" fill="#EF9B47"/>
<rect x="629.7" y="621" width="7.5" height="4.8" fill="#9B69D5"/>
<circle cx="642.35" cy="625.8" r="0.8" fill="#fff" stroke="#999" stroke-width="0.45"/>
<circle cx="643.85" cy="625.8" r="0.8" fill="#fff" stroke="#999" stroke-width="0.45"/>
<circle cx="645.35" cy="625.8" r="0.8" fill="#fff" stroke="#999" stroke-width="0.45"/>
<circle cx="646.85" cy="625.8" r="0.8" fill="#fff" stroke="#999" stroke-width="0.45"/>
<circle cx="648.35" cy="625.8" r="0.8" fill="#fff" stroke="#999" stroke-width="0.45"/>
<circle cx="649.85" cy="625.8" r="0.8" fill="#fff" stroke="#999" stroke-width="0.45"/>
<circle cx="653.05" cy="625.8" r="0.8" fill="#fff" stroke="#999" stroke-width="0.45"/>
<circle cx="654.55" cy="625.8" r="0.8" fill="#fff" stroke="#999" stroke-width="0.45"/>
<circle cx="656.05" cy="625.8" r="0.8" fill="#fff" stroke="#999" stroke-width="0.45"/>
<circle cx="657.55" cy="625.8" r="0.8" fill="#fff" stroke="#999" stroke-width="0.45"/>
<circle cx="659.05" cy="625.8" r="0.8" fill="#fff" stroke="#999" stroke-width="0.45"/>
<circle cx="660.55" cy="625.8" r="0.8" fill="#fff" stroke="#999" stroke-width="0.45"/>
<circle cx="663.75" cy="625.8" r="0.8" fill="#fff" stroke="#999" stroke-width="0.45"/>
<circle cx="665.25" cy="625.8" r="0.8" fill="#fff" stroke="#999" stroke-width="0.45"/>
<circle cx="666.75" cy="625.8" r="0.8" fill="#fff" stroke="#999" stroke-width="0.45"/>
<circle cx="668.25" cy="625.8" r="0.8" fill="#fff" stroke="#999" stroke-width="0.45"/>
<circle cx="669.75" cy="625.8" r="0.8" fill="#fff" stroke="#999" stroke-width="0.45"/>
<circle cx="671.25" cy="625.8" r="0.8" fill="#fff" stroke="#999" stroke-width="0.45"/>
<line x1="645.6" y1="626.6" x2="645.6" y2="629.6" stroke="#1b1b1b" stroke-width="1.1"/>
<circle cx="621" cy="620.7" r="1.15" fill="#fff" stroke="#333" stroke-width="0.5"/>
<circle cx="623.05" cy="621.72" r="1.15" fill="#fff" stroke="#333" stroke-width="0.5"/>
<circle cx="625.1" cy="616.46" r="1.15" fill="#fff" stroke="#333" stroke-width="0.5"/>
<circle cx="621" cy="622.99" r="1.15" fill="#fff" stroke="#333" stroke-width="0.5"/>
<circle cx="623.05" cy="616.55" r="1.15" fill="#fff" stroke="#333" stroke-width="0.5"/>
<circle cx="631.4" cy="621.23" r="1.15" fill="#fff" stroke="#333" stroke-width="0.5"/>
<circle cx="633.45" cy="621.69" r="1.15" fill="#fff" stroke="#333" stroke-width="0.5"/>
<circle cx="635.5" cy="623.75" r="1.15" fill="#fff" stroke="#333" stroke-width="0.5"/>
<circle cx="631.4" cy="624.19" r="1.15" fill="#fff" stroke="#333" stroke-width="0.5"/>
<circle cx="633.45" cy="624.06" r="1.15" fill="#fff" stroke="#333" stroke-width="0.5"/>
<line x1="623.05" y1="613" x2="623.05" y2="624" stroke="#1b1b1b" stroke-width="0.7"/>
<line x1="621.05" y1="613" x2="625.05" y2="613" stroke="#1b1b1b" stroke-width="0.7"/>
<line x1="633.45" y1="616" x2="633.45" y2="626" stroke="#1b1b1b" stroke-width="0.7"/>
<path d="M365.8 547.4V544.9H376.6V569.9" fill="none" stroke="#333" stroke-width="0.7"/>
<text transform="translate(371.2 543.9) scale(1 1.05)" font-size="4.18" font-weight="bold" stroke="#222" stroke-width="0.1" text-anchor="middle" fill="#222">p=0.0006</text>
<path d="M430.1 561.7V559.2H441.4V571.2" fill="none" stroke="#333" stroke-width="0.7"/>
<text transform="translate(435.75 558.2) scale(1 1.05)" font-size="4.18" font-weight="bold" stroke="#222" stroke-width="0.1" text-anchor="middle" fill="#222">p=0.0005</text>
<path d="M494.2 572.5V569.5H505.5V589.5" fill="none" stroke="#333" stroke-width="0.7"/>
<text transform="translate(499.85 568.5) scale(1 1.05)" font-size="4.18" font-weight="bold" stroke="#222" stroke-width="0.1" text-anchor="middle" fill="#222">p=0.0055</text>
<path d="M559 586V583H569.6V603" fill="none" stroke="#333" stroke-width="0.7"/>
<text transform="translate(564.3 582) scale(1 1.05)" font-size="4.18" font-weight="bold" stroke="#222" stroke-width="0.1" text-anchor="middle" fill="#222">p=0.0004</text>
<path d="M623 611.1V608.6H633.6V616.6" fill="none" stroke="#333" stroke-width="0.7"/>
<text transform="translate(628.3 607.6) scale(1 1.05)" font-size="4.18" font-weight="bold" stroke="#222" stroke-width="0.1" text-anchor="middle" fill="#222">p=0.0046</text>
<text transform="translate(388.7 634.6) rotate(-45) scale(1 1.05)" font-size="5.5" font-weight="bold" stroke="#1a1a1a" stroke-width="0.14" text-anchor="end" fill="#1a1a1a">A/HK/4801/2014</text>
<text transform="translate(453.05 634.6) rotate(-45) scale(1 1.05)" font-size="5.5" font-weight="bold" stroke="#1a1a1a" stroke-width="0.14" text-anchor="end" fill="#1a1a1a">A/Cambodia/2020</text>
<text transform="translate(517.4 634.6) rotate(-45) scale(1 1.05)" font-size="5.5" font-weight="bold" stroke="#1a1a1a" stroke-width="0.14" text-anchor="end" fill="#1a1a1a">A/Aichi/2/1968 (X31)</text>
<text transform="translate(581.75 634.6) rotate(-45) scale(1 1.05)" font-size="5.5" font-weight="bold" stroke="#1a1a1a" stroke-width="0.14" text-anchor="end" fill="#1a1a1a">A/PR/8/1934</text>
<text transform="translate(646.1 634.6) rotate(-45) scale(1 1.05)" font-size="5.5" font-weight="bold" stroke="#1a1a1a" stroke-width="0.14" text-anchor="end" fill="#1a1a1a">A/Michigan/45/2015</text>
<text transform="translate(141.4 698.2) scale(1 1.05)" font-size="9.4" font-weight="bold" stroke="#1a1a1a" stroke-width="0.22" text-anchor="middle" fill="#1a1a1a">Serum IgG (day 42)</text>
<line x1="26.2" y1="719.8" x2="30.2" y2="719.8" stroke="#1b1b1b" stroke-width="1.2"/>
<text transform="translate(25.6 721.9) scale(1 1.05)" font-size="5.9" font-weight="bold" stroke="#1a1a1a" stroke-width="0.15" text-anchor="end" fill="#1a1a1a">60000</text>
<line x1="26.2" y1="732.85" x2="30.2" y2="732.85" stroke="#1b1b1b" stroke-width="1.2"/>
<text transform="translate(25.6 734.95) scale(1 1.05)" font-size="5.9" font-weight="bold" stroke="#1a1a1a" stroke-width="0.15" text-anchor="end" fill="#1a1a1a">50000</text>
<line x1="26.2" y1="745.9" x2="30.2" y2="745.9" stroke="#1b1b1b" stroke-width="1.2"/>
<text transform="translate(25.6 748) scale(1 1.05)" font-size="5.9" font-weight="bold" stroke="#1a1a1a" stroke-width="0.15" text-anchor="end" fill="#1a1a1a">40000</text>
<line x1="26.2" y1="758.95" x2="30.2" y2="758.95" stroke="#1b1b1b" stroke-width="1.2"/>
<text transform="translate(25.6 761.05) scale(1 1.05)" font-size="5.9" font-weight="bold" stroke="#1a1a1a" stroke-width="0.15" text-anchor="end" fill="#1a1a1a">30000</text>
<line x1="26.2" y1="772" x2="30.2" y2="772" stroke="#1b1b1b" stroke-width="1.2"/>
<text transform="translate(25.6 774.1) scale(1 1.05)" font-size="5.9" font-weight="bold" stroke="#1a1a1a" stroke-width="0.15" text-anchor="end" fill="#1a1a1a">20000</text>
<line x1="26.2" y1="785.05" x2="30.2" y2="785.05" stroke="#1b1b1b" stroke-width="1.2"/>
<text transform="translate(25.6 787.15) scale(1 1.05)" font-size="5.9" font-weight="bold" stroke="#1a1a1a" stroke-width="0.15" text-anchor="end" fill="#1a1a1a">10000</text>
<line x1="26.2" y1="798.1" x2="30.2" y2="798.1" stroke="#1b1b1b" stroke-width="1.2"/>
<text transform="translate(25.6 800.2) scale(1 1.05)" font-size="5.9" font-weight="bold" stroke="#1a1a1a" stroke-width="0.15" text-anchor="end" fill="#1a1a1a">0</text>
<line x1="30.2" y1="719.2" x2="30.2" y2="798.7" stroke="#1b1b1b" stroke-width="1.4"/>
<line x1="29.6" y1="798.1" x2="250" y2="798.1" stroke="#1b1b1b" stroke-width="1.4"/>
<text transform="translate(5.4 752.6) rotate(-90) scale(1 1.05)" font-size="6.1" font-weight="bold" stroke="#1a1a1a" stroke-width="0.15" text-anchor="middle" fill="#1a1a1a">Endpoint titer</text>
<rect x="36.8" y="754.2" width="13.3" height="43.9" fill="#EF9B47"/>
<rect x="56.6" y="776" width="13.3" height="22.1" fill="#9B69D5"/>
<rect x="76.6" y="772.6" width="13.3" height="25.5" fill="#5FCB9B"/>
<line x1="83.4" y1="798.1" x2="83.4" y2="801.4" stroke="#1b1b1b" stroke-width="1.1"/>
<circle cx="97.3" cy="798.1" r="1" fill="#fff" stroke="#555" stroke-width="0.45"/>
<circle cx="99.3" cy="798.1" r="1" fill="#fff" stroke="#555" stroke-width="0.45"/>
<circle cx="101.3" cy="798.1" r="1" fill="#fff" stroke="#555" stroke-width="0.45"/>
<circle cx="103.3" cy="798.1" r="1" fill="#fff" stroke="#555" stroke-width="0.45"/>
<circle cx="105.3" cy="798.1" r="1" fill="#fff" stroke="#555" stroke-width="0.45"/>
<circle cx="107.3" cy="798.1" r="1" fill="#fff" stroke="#555" stroke-width="0.45"/>
<circle cx="109.3" cy="798.1" r="1" fill="#fff" stroke="#555" stroke-width="0.45"/>
<circle cx="117.3" cy="798.1" r="1" fill="#fff" stroke="#555" stroke-width="0.45"/>
<circle cx="119.3" cy="798.1" r="1" fill="#fff" stroke="#555" stroke-width="0.45"/>
<circle cx="121.3" cy="798.1" r="1" fill="#fff" stroke="#555" stroke-width="0.45"/>
<circle cx="123.3" cy="798.1" r="1" fill="#fff" stroke="#555" stroke-width="0.45"/>
<circle cx="125.3" cy="798.1" r="1" fill="#fff" stroke="#555" stroke-width="0.45"/>
<circle cx="127.3" cy="798.1" r="1" fill="#fff" stroke="#555" stroke-width="0.45"/>
<circle cx="129.3" cy="798.1" r="1" fill="#fff" stroke="#555" stroke-width="0.45"/>
<line x1="43.45" y1="737.8" x2="43.45" y2="771.5" stroke="#1b1b1b" stroke-width="0.8"/>
<line x1="40.45" y1="737.8" x2="46.45" y2="737.8" stroke="#1b1b1b" stroke-width="0.8"/>
<line x1="40.45" y1="771.5" x2="46.45" y2="771.5" stroke="#1b1b1b" stroke-width="0.8"/>
<circle cx="41.15" cy="735.2" r="1.3" fill="#fff" stroke="#2a2a2a" stroke-width="0.55"/>
<circle cx="45.75" cy="735.2" r="1.3" fill="#fff" stroke="#2a2a2a" stroke-width="0.55"/>
<circle cx="40.95" cy="755.6" r="1.3" fill="#fff" stroke="#2a2a2a" stroke-width="0.55"/>
<circle cx="45.95" cy="755.6" r="1.3" fill="#fff" stroke="#2a2a2a" stroke-width="0.55"/>
<circle cx="42.95" cy="766.4" r="1.3" fill="#fff" stroke="#2a2a2a" stroke-width="0.55"/>
<circle cx="42.95" cy="777.3" r="1.3" fill="#fff" stroke="#2a2a2a" stroke-width="0.55"/>
<line x1="63.25" y1="767.4" x2="63.25" y2="783.8" stroke="#1b1b1b" stroke-width="0.8"/>
<line x1="60.25" y1="767.4" x2="66.25" y2="767.4" stroke="#1b1b1b" stroke-width="0.8"/>
<line x1="60.25" y1="783.8" x2="66.25" y2="783.8" stroke="#1b1b1b" stroke-width="0.8"/>
<circle cx="60.85" cy="766.4" r="1.3" fill="#fff" stroke="#2a2a2a" stroke-width="0.55"/>
<circle cx="65.65" cy="766.4" r="1.3" fill="#fff" stroke="#2a2a2a" stroke-width="0.55"/>
<circle cx="60.85" cy="777.8" r="1.3" fill="#fff" stroke="#2a2a2a" stroke-width="0.55"/>
<circle cx="65.65" cy="777.8" r="1.3" fill="#fff" stroke="#2a2a2a" stroke-width="0.55"/>
<circle cx="63.25" cy="782.8" r="1.3" fill="#fff" stroke="#2a2a2a" stroke-width="0.55"/>
<circle cx="63.25" cy="787.9" r="1.3" fill="#fff" stroke="#2a2a2a" stroke-width="0.55"/>
<line x1="83.25" y1="763.4" x2="83.25" y2="781.7" stroke="#1b1b1b" stroke-width="0.8"/>
<line x1="80.25" y1="763.4" x2="86.25" y2="763.4" stroke="#1b1b1b" stroke-width="0.8"/>
<line x1="80.25" y1="781.7" x2="86.25" y2="781.7" stroke="#1b1b1b" stroke-width="0.8"/>
<circle cx="77.25" cy="766.4" r="1.3" fill="#fff" stroke="#2a2a2a" stroke-width="0.55"/>
<circle cx="80.25" cy="766.4" r="1.3" fill="#fff" stroke="#2a2a2a" stroke-width="0.55"/>
<circle cx="83.25" cy="766.4" r="1.3" fill="#fff" stroke="#2a2a2a" stroke-width="0.55"/>
<circle cx="86.75" cy="766.4" r="1.3" fill="#fff" stroke="#2a2a2a" stroke-width="0.55"/>
<circle cx="89.85" cy="766.4" r="1.3" fill="#fff" stroke="#2a2a2a" stroke-width="0.55"/>
<circle cx="83.25" cy="782.8" r="1.3" fill="#fff" stroke="#2a2a2a" stroke-width="0.55"/>
<circle cx="83.25" cy="787.9" r="1.3" fill="#fff" stroke="#2a2a2a" stroke-width="0.55"/>
<rect x="149.9" y="776.9" width="13.3" height="21.2" fill="#EF9B47"/>
<rect x="169.5" y="789.8" width="13.3" height="8.3" fill="#9B69D5"/>
<rect x="189.4" y="793.6" width="13.7" height="4.5" fill="#5FCB9B"/>
<line x1="196.4" y1="798.1" x2="196.4" y2="801.4" stroke="#1b1b1b" stroke-width="1.1"/>
<circle cx="210.3" cy="798.1" r="1" fill="#fff" stroke="#555" stroke-width="0.45"/>
<circle cx="212.3" cy="798.1" r="1" fill="#fff" stroke="#555" stroke-width="0.45"/>
<circle cx="214.3" cy="798.1" r="1" fill="#fff" stroke="#555" stroke-width="0.45"/>
<circle cx="216.3" cy="798.1" r="1" fill="#fff" stroke="#555" stroke-width="0.45"/>
<circle cx="218.3" cy="798.1" r="1" fill="#fff" stroke="#555" stroke-width="0.45"/>
<circle cx="220.3" cy="798.1" r="1" fill="#fff" stroke="#555" stroke-width="0.45"/>
<circle cx="222.3" cy="798.1" r="1" fill="#fff" stroke="#555" stroke-width="0.45"/>
<circle cx="230.3" cy="798.1" r="1" fill="#fff" stroke="#555" stroke-width="0.45"/>
<circle cx="232.3" cy="798.1" r="1" fill="#fff" stroke="#555" stroke-width="0.45"/>
<circle cx="234.3" cy="798.1" r="1" fill="#fff" stroke="#555" stroke-width="0.45"/>
<circle cx="236.3" cy="798.1" r="1" fill="#fff" stroke="#555" stroke-width="0.45"/>
<circle cx="238.3" cy="798.1" r="1" fill="#fff" stroke="#555" stroke-width="0.45"/>
<circle cx="240.3" cy="798.1" r="1" fill="#fff" stroke="#555" stroke-width="0.45"/>
<circle cx="242.3" cy="798.1" r="1" fill="#fff" stroke="#555" stroke-width="0.45"/>
<line x1="156.55" y1="771.2" x2="156.55" y2="781.6" stroke="#1b1b1b" stroke-width="0.8"/>
<line x1="153.55" y1="771.2" x2="159.55" y2="771.2" stroke="#1b1b1b" stroke-width="0.8"/>
<line x1="153.55" y1="781.6" x2="159.55" y2="781.6" stroke="#1b1b1b" stroke-width="0.8"/>
<circle cx="156.55" cy="766.8" r="1.3" fill="#fff" stroke="#2a2a2a" stroke-width="0.55"/>
<circle cx="150.55" cy="776.9" r="1.3" fill="#fff" stroke="#2a2a2a" stroke-width="0.55"/>
<circle cx="153.55" cy="776.9" r="1.3" fill="#fff" stroke="#2a2a2a" stroke-width="0.55"/>
<circle cx="156.55" cy="776.9" r="1.3" fill="#fff" stroke="#2a2a2a" stroke-width="0.55"/>
<circle cx="159.55" cy="776.9" r="1.3" fill="#fff" stroke="#2a2a2a" stroke-width="0.55"/>
<circle cx="162.55" cy="776.9" r="1.3" fill="#fff" stroke="#2a2a2a" stroke-width="0.55"/>
<circle cx="156.55" cy="782.6" r="1.3" fill="#fff" stroke="#2a2a2a" stroke-width="0.55"/>
<line x1="176.15" y1="786.5" x2="176.15" y2="792.5" stroke="#1b1b1b" stroke-width="0.8"/>
<line x1="173.15" y1="786.5" x2="179.15" y2="786.5" stroke="#1b1b1b" stroke-width="0.8"/>
<line x1="173.15" y1="792.5" x2="179.15" y2="792.5" stroke="#1b1b1b" stroke-width="0.8"/>
<circle cx="176.15" cy="787.3" r="1.3" fill="#fff" stroke="#2a2a2a" stroke-width="0.55"/>
<circle cx="170.15" cy="790.1" r="1.3" fill="#fff" stroke="#2a2a2a" stroke-width="0.55"/>
<circle cx="173.15" cy="790.1" r="1.3" fill="#fff" stroke="#2a2a2a" stroke-width="0.55"/>
<circle cx="176.15" cy="790.1" r="1.3" fill="#fff" stroke="#2a2a2a" stroke-width="0.55"/>
<circle cx="179.15" cy="790.1" r="1.3" fill="#fff" stroke="#2a2a2a" stroke-width="0.55"/>
<circle cx="182.15" cy="790.1" r="1.3" fill="#fff" stroke="#2a2a2a" stroke-width="0.55"/>
<circle cx="174.65" cy="793" r="1.3" fill="#fff" stroke="#2a2a2a" stroke-width="0.55"/>
<circle cx="177.65" cy="793" r="1.3" fill="#fff" stroke="#2a2a2a" stroke-width="0.55"/>
<line x1="196.25" y1="790.5" x2="196.25" y2="796" stroke="#1b1b1b" stroke-width="0.8"/>
<line x1="193.25" y1="790.5" x2="199.25" y2="790.5" stroke="#1b1b1b" stroke-width="0.8"/>
<line x1="193.25" y1="796" x2="199.25" y2="796" stroke="#1b1b1b" stroke-width="0.8"/>
<circle cx="196.25" cy="790.1" r="1.3" fill="#fff" stroke="#2a2a2a" stroke-width="0.55"/>
<circle cx="190.25" cy="794" r="1.3" fill="#fff" stroke="#2a2a2a" stroke-width="0.55"/>
<circle cx="193.25" cy="794" r="1.3" fill="#fff" stroke="#2a2a2a" stroke-width="0.55"/>
<circle cx="196.25" cy="794" r="1.3" fill="#fff" stroke="#2a2a2a" stroke-width="0.55"/>
<circle cx="199.25" cy="794" r="1.3" fill="#fff" stroke="#2a2a2a" stroke-width="0.55"/>
<circle cx="202.25" cy="794" r="1.3" fill="#fff" stroke="#2a2a2a" stroke-width="0.55"/>
<path d="M42.9 716.3V713.3H113.4V716.3" fill="none" stroke="#333" stroke-width="0.7"/>
<text transform="translate(78 711.6) scale(1 1.05)" font-size="4.29" font-weight="bold" stroke="#222" stroke-width="0.11" text-anchor="middle" fill="#222">p&lt;0.0001</text>
<path d="M93.7 719.5V716.5H133.1V719.5" fill="none" stroke="#333" stroke-width="0.7"/>
<path d="M42.9 722.6V719.6H82.6V722.6" fill="none" stroke="#333" stroke-width="0.7"/>
<text transform="translate(64.1 718) scale(1 1.05)" font-size="4.29" font-weight="bold" stroke="#222" stroke-width="0.11" text-anchor="middle" fill="#222">p=0.0189</text>
<path d="M43.2 730.7V727.7H114V730.7" fill="none" stroke="#333" stroke-width="0.7"/>
<line x1="62.6" y1="727.7" x2="62.6" y2="730" stroke="#333" stroke-width="0.7"/>
<text transform="translate(52.6 726.2) scale(1 1.05)" font-size="4.29" font-weight="bold" stroke="#222" stroke-width="0.11" text-anchor="middle" fill="#222">P=0.0046</text>
<text transform="translate(84.8 726.2) scale(1 1.05)" font-size="4.29" font-weight="bold" stroke="#222" stroke-width="0.11" text-anchor="middle" fill="#222">p=0.0040</text>
<path d="M93.6 733.7V730.7H133.3V733.7" fill="none" stroke="#333" stroke-width="0.7"/>
<path d="M156.2 746.7V743.7H212.9V746.7" fill="none" stroke="#333" stroke-width="0.7"/>
<text transform="translate(184.5 741.9) scale(1 1.05)" font-size="4.29" font-weight="bold" stroke="#222" stroke-width="0.11" text-anchor="middle" fill="#222">p&lt;0.0001</text>
<path d="M168.9 749.5V746.5H245.4V749.5" fill="none" stroke="#333" stroke-width="0.7"/>
<path d="M177.4 757.7V754.7H225.5V757.7" fill="none" stroke="#333" stroke-width="0.7"/>
<text transform="translate(201.5 752.9) scale(1 1.05)" font-size="4.29" font-weight="bold" stroke="#222" stroke-width="0.11" text-anchor="middle" fill="#222">p=0.0004</text>
<path d="M205.5 760.5V757.5H245.4V760.5" fill="none" stroke="#333" stroke-width="0.7"/>
<text transform="translate(82.3 804.7) rotate(-45) scale(1 1.05)" font-size="5.8" font-weight="bold" stroke="#1a1a1a" stroke-width="0.14" text-anchor="end" fill="#1a1a1a">A/HK/4801/2014</text>
<text transform="translate(195.3 804.7) rotate(-45) scale(1 1.05)" font-size="5.8" font-weight="bold" stroke="#1a1a1a" stroke-width="0.14" text-anchor="end" fill="#1a1a1a">A/Cambodia/2020</text>
<text transform="translate(460.7 697.9) scale(1 1.05)" font-size="9.4" font-weight="bold" stroke="#1a1a1a" stroke-width="0.22" text-anchor="middle" fill="#1a1a1a">Serum HI (day 42)</text>
<line x1="284.1" y1="718.4" x2="287.6" y2="718.4" stroke="#1b1b1b" stroke-width="1.1"/>
<text transform="translate(283.6 720.6) scale(1 1.05)" font-size="6.2" font-weight="bold" stroke="#1a1a1a" stroke-width="0.16" text-anchor="end" fill="#1a1a1a">5120</text>
<line x1="284.1" y1="726.26" x2="287.6" y2="726.26" stroke="#1b1b1b" stroke-width="1.1"/>
<text transform="translate(283.6 728.46) scale(1 1.05)" font-size="6.2" font-weight="bold" stroke="#1a1a1a" stroke-width="0.16" text-anchor="end" fill="#1a1a1a">2560</text>
<line x1="284.1" y1="734.12" x2="287.6" y2="734.12" stroke="#1b1b1b" stroke-width="1.1"/>
<text transform="translate(283.6 736.32) scale(1 1.05)" font-size="6.2" font-weight="bold" stroke="#1a1a1a" stroke-width="0.16" text-anchor="end" fill="#1a1a1a">1280</text>
<line x1="284.1" y1="741.98" x2="287.6" y2="741.98" stroke="#1b1b1b" stroke-width="1.1"/>
<text transform="translate(283.6 744.18) scale(1 1.05)" font-size="6.2" font-weight="bold" stroke="#1a1a1a" stroke-width="0.16" text-anchor="end" fill="#1a1a1a">640</text>
<line x1="284.1" y1="749.84" x2="287.6" y2="749.84" stroke="#1b1b1b" stroke-width="1.1"/>
<text transform="translate(283.6 752.04) scale(1 1.05)" font-size="6.2" font-weight="bold" stroke="#1a1a1a" stroke-width="0.16" text-anchor="end" fill="#1a1a1a">320</text>
<line x1="284.1" y1="757.7" x2="287.6" y2="757.7" stroke="#1b1b1b" stroke-width="1.1"/>
<text transform="translate(283.6 759.9) scale(1 1.05)" font-size="6.2" font-weight="bold" stroke="#1a1a1a" stroke-width="0.16" text-anchor="end" fill="#1a1a1a">160</text>
<line x1="284.1" y1="765.56" x2="287.6" y2="765.56" stroke="#1b1b1b" stroke-width="1.1"/>
<text transform="translate(283.6 767.76) scale(1 1.05)" font-size="6.2" font-weight="bold" stroke="#1a1a1a" stroke-width="0.16" text-anchor="end" fill="#1a1a1a">80</text>
<line x1="284.1" y1="773.42" x2="287.6" y2="773.42" stroke="#1b1b1b" stroke-width="1.1"/>
<text transform="translate(283.6 775.62) scale(1 1.05)" font-size="6.2" font-weight="bold" stroke="#1a1a1a" stroke-width="0.16" text-anchor="end" fill="#1a1a1a">40</text>
<line x1="284.1" y1="781.28" x2="287.6" y2="781.28" stroke="#1b1b1b" stroke-width="1.1"/>
<text transform="translate(283.6 783.48) scale(1 1.05)" font-size="6.2" font-weight="bold" stroke="#1a1a1a" stroke-width="0.16" text-anchor="end" fill="#1a1a1a">20</text>
<line x1="284.1" y1="789.14" x2="287.6" y2="789.14" stroke="#1b1b1b" stroke-width="1.1"/>
<text transform="translate(283.6 791.34) scale(1 1.05)" font-size="6.2" font-weight="bold" stroke="#1a1a1a" stroke-width="0.16" text-anchor="end" fill="#1a1a1a">10</text>
<line x1="284.1" y1="797" x2="287.6" y2="797" stroke="#1b1b1b" stroke-width="1.1"/>
<text transform="translate(283.6 799.2) scale(1 1.05)" font-size="6.2" font-weight="bold" stroke="#1a1a1a" stroke-width="0.16" text-anchor="end" fill="#1a1a1a">5</text>
<line x1="287.6" y1="717.8" x2="287.6" y2="797.6" stroke="#1b1b1b" stroke-width="1.4"/>
<line x1="287" y1="797" x2="683.6" y2="797" stroke="#1b1b1b" stroke-width="1.4"/>
<text transform="translate(267.6 752.7) rotate(-90) scale(1 1.05)" font-size="6.1" font-weight="bold" stroke="#1a1a1a" stroke-width="0.15" text-anchor="middle" fill="#1a1a1a">Endpoint titer</text>
<text transform="translate(369.4 710.5) scale(1 1.05)" font-size="6.8" font-weight="bold" stroke="#222" stroke-width="0.17" text-anchor="middle" fill="#222">H3N2</text>
<text transform="translate(569.4 711.3) scale(1 1.05)" font-size="7" font-weight="bold" stroke="#222" stroke-width="0.18" text-anchor="middle" fill="#222">H1N1 and H1N1pdm09</text>
<line x1="466.7" y1="711.5" x2="466.7" y2="797" stroke="#222" stroke-width="1.1" stroke-dasharray="1.8 1.5"/>
<rect x="289.55" y="734.5" width="4.7" height="62.5" fill="#EF9B47"/>
<rect x="295.85" y="746" width="4.7" height="51" fill="#9B69D5"/>
<rect x="302.15" y="742.9" width="4.7" height="54.1" fill="#5FCB9B"/>
<rect x="308.45" y="792.1" width="4.7" height="4.9" fill="#D6A388"/>
<rect x="314.75" y="794.3" width="4.7" height="2.7" fill="#A0A0A0"/>
<line x1="304.5" y1="797" x2="304.5" y2="800.4" stroke="#1b1b1b" stroke-width="1"/>
<line x1="291.9" y1="731" x2="291.9" y2="738" stroke="#1b1b1b" stroke-width="0.6"/>
<line x1="290.4" y1="731" x2="293.4" y2="731" stroke="#1b1b1b" stroke-width="0.6"/>
<circle cx="290.45" cy="733.54" r="1.1" fill="#fff" stroke="#333" stroke-width="0.5"/>
<circle cx="291.9" cy="734.89" r="1.1" fill="#fff" stroke="#333" stroke-width="0.5"/>
<circle cx="293.35" cy="733.33" r="1.1" fill="#fff" stroke="#333" stroke-width="0.5"/>
<circle cx="290.45" cy="736.04" r="1.1" fill="#fff" stroke="#333" stroke-width="0.5"/>
<line x1="298.2" y1="742.5" x2="298.2" y2="749.5" stroke="#1b1b1b" stroke-width="0.6"/>
<line x1="296.7" y1="742.5" x2="299.7" y2="742.5" stroke="#1b1b1b" stroke-width="0.6"/>
<circle cx="296.75" cy="745.97" r="1.1" fill="#fff" stroke="#333" stroke-width="0.5"/>
<circle cx="298.2" cy="746.28" r="1.1" fill="#fff" stroke="#333" stroke-width="0.5"/>
<circle cx="299.65" cy="747.55" r="1.1" fill="#fff" stroke="#333" stroke-width="0.5"/>
<circle cx="296.75" cy="745.1" r="1.1" fill="#fff" stroke="#333" stroke-width="0.5"/>
<line x1="304.5" y1="739.4" x2="304.5" y2="746.4" stroke="#1b1b1b" stroke-width="0.6"/>
<line x1="303" y1="739.4" x2="306" y2="739.4" stroke="#1b1b1b" stroke-width="0.6"/>
<circle cx="303.05" cy="745.04" r="1.1" fill="#fff" stroke="#333" stroke-width="0.5"/>
<circle cx="304.5" cy="741.27" r="1.1" fill="#fff" stroke="#333" stroke-width="0.5"/>
<circle cx="305.95" cy="745.25" r="1.1" fill="#fff" stroke="#333" stroke-width="0.5"/>
<circle cx="303.05" cy="741.59" r="1.1" fill="#fff" stroke="#333" stroke-width="0.5"/>
<line x1="310.8" y1="789.1" x2="310.8" y2="797" stroke="#1b1b1b" stroke-width="0.6"/>
<circle cx="309.9" cy="789.5" r="1" fill="#fff" stroke="#333" stroke-width="0.5"/>
<circle cx="311.7" cy="789.5" r="1" fill="#fff" stroke="#333" stroke-width="0.5"/>
<circle cx="309.8" cy="797" r="0.85" fill="#fff" stroke="#666" stroke-width="0.45"/>
<circle cx="311.8" cy="797" r="0.85" fill="#fff" stroke="#666" stroke-width="0.45"/>
<line x1="317.1" y1="791.3" x2="317.1" y2="797" stroke="#1b1b1b" stroke-width="0.6"/>
<circle cx="316.2" cy="791.7" r="1" fill="#fff" stroke="#333" stroke-width="0.5"/>
<circle cx="318" cy="791.7" r="1" fill="#fff" stroke="#333" stroke-width="0.5"/>
<circle cx="316.1" cy="797" r="0.85" fill="#fff" stroke="#666" stroke-width="0.45"/>
<circle cx="318.1" cy="797" r="0.85" fill="#fff" stroke="#666" stroke-width="0.45"/>
<rect x="325.69" y="750.3" width="4.7" height="46.7" fill="#EF9B47"/>
<rect x="331.99" y="756.1" width="4.7" height="40.9" fill="#9B69D5"/>
<rect x="338.29" y="758.5" width="4.7" height="38.5" fill="#5FCB9B"/>
<rect x="344.59" y="790.3" width="4.7" height="6.7" fill="#D6A388"/>
<rect x="350.89" y="794.5" width="4.7" height="2.5" fill="#A0A0A0"/>
<line x1="340.64" y1="797" x2="340.64" y2="800.4" stroke="#1b1b1b" stroke-width="1"/>
<line x1="328.04" y1="746.8" x2="328.04" y2="753.8" stroke="#1b1b1b" stroke-width="0.6"/>
<line x1="326.54" y1="746.8" x2="329.54" y2="746.8" stroke="#1b1b1b" stroke-width="0.6"/>
<circle cx="326.59" cy="750.18" r="1.1" fill="#fff" stroke="#333" stroke-width="0.5"/>
<circle cx="328.04" cy="750.95" r="1.1" fill="#fff" stroke="#333" stroke-width="0.5"/>
<circle cx="329.49" cy="749.82" r="1.1" fill="#fff" stroke="#333" stroke-width="0.5"/>
<circle cx="326.59" cy="752.4" r="1.1" fill="#fff" stroke="#333" stroke-width="0.5"/>
<line x1="334.34" y1="752.6" x2="334.34" y2="759.6" stroke="#1b1b1b" stroke-width="0.6"/>
<line x1="332.84" y1="752.6" x2="335.84" y2="752.6" stroke="#1b1b1b" stroke-width="0.6"/>
<circle cx="332.89" cy="755.67" r="1.1" fill="#fff" stroke="#333" stroke-width="0.5"/>
<circle cx="334.34" cy="755.04" r="1.1" fill="#fff" stroke="#333" stroke-width="0.5"/>
<circle cx="335.79" cy="757.82" r="1.1" fill="#fff" stroke="#333" stroke-width="0.5"/>
<circle cx="332.89" cy="755.82" r="1.1" fill="#fff" stroke="#333" stroke-width="0.5"/>
<line x1="340.64" y1="755" x2="340.64" y2="762" stroke="#1b1b1b" stroke-width="0.6"/>
<line x1="339.14" y1="755" x2="342.14" y2="755" stroke="#1b1b1b" stroke-width="0.6"/>
<circle cx="339.19" cy="756.35" r="1.1" fill="#fff" stroke="#333" stroke-width="0.5"/>
<circle cx="340.64" cy="758.17" r="1.1" fill="#fff" stroke="#333" stroke-width="0.5"/>
<circle cx="342.09" cy="757.23" r="1.1" fill="#fff" stroke="#333" stroke-width="0.5"/>
<circle cx="339.19" cy="758.23" r="1.1" fill="#fff" stroke="#333" stroke-width="0.5"/>
<line x1="346.94" y1="787.3" x2="346.94" y2="797" stroke="#1b1b1b" stroke-width="0.6"/>
<circle cx="346.04" cy="787.7" r="1" fill="#fff" stroke="#333" stroke-width="0.5"/>
<circle cx="347.84" cy="787.7" r="1" fill="#fff" stroke="#333" stroke-width="0.5"/>
<circle cx="345.94" cy="797" r="0.85" fill="#fff" stroke="#666" stroke-width="0.45"/>
<circle cx="347.94" cy="797" r="0.85" fill="#fff" stroke="#666" stroke-width="0.45"/>
<line x1="353.24" y1="791.5" x2="353.24" y2="797" stroke="#1b1b1b" stroke-width="0.6"/>
<circle cx="352.34" cy="791.9" r="1" fill="#fff" stroke="#333" stroke-width="0.5"/>
<circle cx="354.14" cy="791.9" r="1" fill="#fff" stroke="#333" stroke-width="0.5"/>
<circle cx="352.24" cy="797" r="0.85" fill="#fff" stroke="#666" stroke-width="0.45"/>
<circle cx="354.24" cy="797" r="0.85" fill="#fff" stroke="#666" stroke-width="0.45"/>
<rect x="361.83" y="749.1" width="4.7" height="47.9" fill="#EF9B47"/>
<rect x="368.13" y="753.5" width="4.7" height="43.5" fill="#9B69D5"/>
<rect x="374.43" y="760.5" width="4.7" height="36.5" fill="#5FCB9B"/>
<rect x="380.73" y="788.1" width="4.7" height="8.9" fill="#D6A388"/>
<rect x="387.03" y="793.5" width="4.7" height="3.5" fill="#A0A0A0"/>
<line x1="376.78" y1="797" x2="376.78" y2="800.4" stroke="#1b1b1b" stroke-width="1"/>
<line x1="364.18" y1="745.6" x2="364.18" y2="752.6" stroke="#1b1b1b" stroke-width="0.6"/>
<line x1="362.68" y1="745.6" x2="365.68" y2="745.6" stroke="#1b1b1b" stroke-width="0.6"/>
<circle cx="362.73" cy="750.31" r="1.1" fill="#fff" stroke="#333" stroke-width="0.5"/>
<circle cx="364.18" cy="751.3" r="1.1" fill="#fff" stroke="#333" stroke-width="0.5"/>
<circle cx="365.63" cy="750.34" r="1.1" fill="#fff" stroke="#333" stroke-width="0.5"/>
<circle cx="362.73" cy="751.14" r="1.1" fill="#fff" stroke="#333" stroke-width="0.5"/>
<line x1="370.48" y1="750" x2="370.48" y2="757" stroke="#1b1b1b" stroke-width="0.6"/>
<line x1="368.98" y1="750" x2="371.98" y2="750" stroke="#1b1b1b" stroke-width="0.6"/>
<circle cx="369.03" cy="754.42" r="1.1" fill="#fff" stroke="#333" stroke-width="0.5"/>
<circle cx="370.48" cy="751.48" r="1.1" fill="#fff" stroke="#333" stroke-width="0.5"/>
<circle cx="371.93" cy="751.83" r="1.1" fill="#fff" stroke="#333" stroke-width="0.5"/>
<circle cx="369.03" cy="754.03" r="1.1" fill="#fff" stroke="#333" stroke-width="0.5"/>
<line x1="376.78" y1="757" x2="376.78" y2="764" stroke="#1b1b1b" stroke-width="0.6"/>
<line x1="375.28" y1="757" x2="378.28" y2="757" stroke="#1b1b1b" stroke-width="0.6"/>
<circle cx="375.33" cy="762.55" r="1.1" fill="#fff" stroke="#333" stroke-width="0.5"/>
<circle cx="376.78" cy="759.47" r="1.1" fill="#fff" stroke="#333" stroke-width="0.5"/>
<circle cx="378.23" cy="760.3" r="1.1" fill="#fff" stroke="#333" stroke-width="0.5"/>
<circle cx="375.33" cy="758.68" r="1.1" fill="#fff" stroke="#333" stroke-width="0.5"/>
<line x1="383.08" y1="785.1" x2="383.08" y2="797" stroke="#1b1b1b" stroke-width="0.6"/>
<circle cx="382.18" cy="785.5" r="1" fill="#fff" stroke="#333" stroke-width="0.5"/>
<circle cx="383.98" cy="785.5" r="1" fill="#fff" stroke="#333" stroke-width="0.5"/>
<circle cx="382.08" cy="797" r="0.85" fill="#fff" stroke="#666" stroke-width="0.45"/>
<circle cx="384.08" cy="797" r="0.85" fill="#fff" stroke="#666" stroke-width="0.45"/>
<line x1="389.38" y1="790.5" x2="389.38" y2="797" stroke="#1b1b1b" stroke-width="0.6"/>
<circle cx="388.48" cy="790.9" r="1" fill="#fff" stroke="#333" stroke-width="0.5"/>
<circle cx="390.28" cy="790.9" r="1" fill="#fff" stroke="#333" stroke-width="0.5"/>
<circle cx="388.38" cy="797" r="0.85" fill="#fff" stroke="#666" stroke-width="0.45"/>
<circle cx="390.38" cy="797" r="0.85" fill="#fff" stroke="#666" stroke-width="0.45"/>
<rect x="397.97" y="760.1" width="4.7" height="36.9" fill="#EF9B47"/>
<rect x="404.27" y="762.3" width="4.7" height="34.7" fill="#9B69D5"/>
<rect x="410.57" y="770.6" width="4.7" height="26.4" fill="#5FCB9B"/>
<rect x="416.87" y="788.5" width="4.7" height="8.5" fill="#D6A388"/>
<rect x="423.17" y="794.8" width="4.7" height="2.2" fill="#A0A0A0"/>
<line x1="412.92" y1="797" x2="412.92" y2="800.4" stroke="#1b1b1b" stroke-width="1"/>
<line x1="400.32" y1="756.6" x2="400.32" y2="763.6" stroke="#1b1b1b" stroke-width="0.6"/>
<line x1="398.82" y1="756.6" x2="401.82" y2="756.6" stroke="#1b1b1b" stroke-width="0.6"/>
<circle cx="398.87" cy="757.97" r="1.1" fill="#fff" stroke="#333" stroke-width="0.5"/>
<circle cx="400.32" cy="760.57" r="1.1" fill="#fff" stroke="#333" stroke-width="0.5"/>
<circle cx="401.77" cy="762.55" r="1.1" fill="#fff" stroke="#333" stroke-width="0.5"/>
<circle cx="398.87" cy="759.32" r="1.1" fill="#fff" stroke="#333" stroke-width="0.5"/>
<line x1="406.62" y1="758.8" x2="406.62" y2="765.8" stroke="#1b1b1b" stroke-width="0.6"/>
<line x1="405.12" y1="758.8" x2="408.12" y2="758.8" stroke="#1b1b1b" stroke-width="0.6"/>
<circle cx="405.17" cy="761.2" r="1.1" fill="#fff" stroke="#333" stroke-width="0.5"/>
<circle cx="406.62" cy="762.31" r="1.1" fill="#fff" stroke="#333" stroke-width="0.5"/>
<circle cx="408.07" cy="762.62" r="1.1" fill="#fff" stroke="#333" stroke-width="0.5"/>
<circle cx="405.17" cy="762.1" r="1.1" fill="#fff" stroke="#333" stroke-width="0.5"/>
<line x1="412.92" y1="767.1" x2="412.92" y2="774.1" stroke="#1b1b1b" stroke-width="0.6"/>
<line x1="411.42" y1="767.1" x2="414.42" y2="767.1" stroke="#1b1b1b" stroke-width="0.6"/>
<circle cx="411.47" cy="772.4" r="1.1" fill="#fff" stroke="#333" stroke-width="0.5"/>
<circle cx="412.92" cy="770.68" r="1.1" fill="#fff" stroke="#333" stroke-width="0.5"/>
<circle cx="414.37" cy="768.67" r="1.1" fill="#fff" stroke="#333" stroke-width="0.5"/>
<circle cx="411.47" cy="768.7" r="1.1" fill="#fff" stroke="#333" stroke-width="0.5"/>
<line x1="419.22" y1="785.5" x2="419.22" y2="797" stroke="#1b1b1b" stroke-width="0.6"/>
<circle cx="418.32" cy="785.9" r="1" fill="#fff" stroke="#333" stroke-width="0.5"/>
<circle cx="420.12" cy="785.9" r="1" fill="#fff" stroke="#333" stroke-width="0.5"/>
<circle cx="418.22" cy="797" r="0.85" fill="#fff" stroke="#666" stroke-width="0.45"/>
<circle cx="420.22" cy="797" r="0.85" fill="#fff" stroke="#666" stroke-width="0.45"/>
<line x1="425.52" y1="791.8" x2="425.52" y2="797" stroke="#1b1b1b" stroke-width="0.6"/>
<circle cx="424.62" cy="792.2" r="1" fill="#fff" stroke="#333" stroke-width="0.5"/>
<circle cx="426.42" cy="792.2" r="1" fill="#fff" stroke="#333" stroke-width="0.5"/>
<circle cx="424.52" cy="797" r="0.85" fill="#fff" stroke="#666" stroke-width="0.45"/>
<circle cx="426.52" cy="797" r="0.85" fill="#fff" stroke="#666" stroke-width="0.45"/>
<rect x="434.11" y="772.1" width="4.7" height="24.9" fill="#EF9B47"/>
<rect x="440.41" y="778.7" width="4.7" height="18.3" fill="#9B69D5"/>
<rect x="446.71" y="786.3" width="4.7" height="10.7" fill="#5FCB9B"/>
<line x1="449.06" y1="797" x2="449.06" y2="800.4" stroke="#1b1b1b" stroke-width="1"/>
<line x1="436.46" y1="768.6" x2="436.46" y2="775.6" stroke="#1b1b1b" stroke-width="0.6"/>
<line x1="434.96" y1="768.6" x2="437.96" y2="768.6" stroke="#1b1b1b" stroke-width="0.6"/>
<circle cx="435.01" cy="771.45" r="1.1" fill="#fff" stroke="#333" stroke-width="0.5"/>
<circle cx="436.46" cy="774.35" r="1.1" fill="#fff" stroke="#333" stroke-width="0.5"/>
<circle cx="437.91" cy="770.6" r="1.1" fill="#fff" stroke="#333" stroke-width="0.5"/>
<circle cx="435.01" cy="771.08" r="1.1" fill="#fff" stroke="#333" stroke-width="0.5"/>
<line x1="442.76" y1="775.2" x2="442.76" y2="782.2" stroke="#1b1b1b" stroke-width="0.6"/>
<line x1="441.26" y1="775.2" x2="444.26" y2="775.2" stroke="#1b1b1b" stroke-width="0.6"/>
<circle cx="441.31" cy="780.2" r="1.1" fill="#fff" stroke="#333" stroke-width="0.5"/>
<circle cx="442.76" cy="777.83" r="1.1" fill="#fff" stroke="#333" stroke-width="0.5"/>
<circle cx="444.21" cy="777.4" r="1.1" fill="#fff" stroke="#333" stroke-width="0.5"/>
<circle cx="441.31" cy="780.31" r="1.1" fill="#fff" stroke="#333" stroke-width="0.5"/>
<line x1="449.06" y1="782.8" x2="449.06" y2="789.8" stroke="#1b1b1b" stroke-width="0.6"/>
<line x1="447.56" y1="782.8" x2="450.56" y2="782.8" stroke="#1b1b1b" stroke-width="0.6"/>
<circle cx="447.61" cy="787.87" r="1.1" fill="#fff" stroke="#333" stroke-width="0.5"/>
<circle cx="449.06" cy="784.28" r="1.1" fill="#fff" stroke="#333" stroke-width="0.5"/>
<circle cx="450.51" cy="788.42" r="1.1" fill="#fff" stroke="#333" stroke-width="0.5"/>
<circle cx="447.61" cy="787.45" r="1.1" fill="#fff" stroke="#333" stroke-width="0.5"/>
<circle cx="453.76" cy="797" r="0.85" fill="#fff" stroke="#666" stroke-width="0.45"/>
<circle cx="455.36" cy="797" r="0.85" fill="#fff" stroke="#666" stroke-width="0.45"/>
<circle cx="456.96" cy="797" r="0.85" fill="#fff" stroke="#666" stroke-width="0.45"/>
<circle cx="460.06" cy="797" r="0.85" fill="#fff" stroke="#666" stroke-width="0.45"/>
<circle cx="461.66" cy="797" r="0.85" fill="#fff" stroke="#666" stroke-width="0.45"/>
<circle cx="463.26" cy="797" r="0.85" fill="#fff" stroke="#666" stroke-width="0.45"/>
<rect x="470.25" y="765.5" width="4.7" height="31.5" fill="#EF9B47"/>
<rect x="476.55" y="767.7" width="4.7" height="29.3" fill="#9B69D5"/>
<rect x="482.85" y="789.6" width="4.7" height="7.4" fill="#5FCB9B"/>
<line x1="485.2" y1="797" x2="485.2" y2="800.4" stroke="#1b1b1b" stroke-width="1"/>
<line x1="472.6" y1="762" x2="472.6" y2="769" stroke="#1b1b1b" stroke-width="0.6"/>
<line x1="471.1" y1="762" x2="474.1" y2="762" stroke="#1b1b1b" stroke-width="0.6"/>
<circle cx="471.15" cy="764.36" r="1.1" fill="#fff" stroke="#333" stroke-width="0.5"/>
<circle cx="472.6" cy="765.71" r="1.1" fill="#fff" stroke="#333" stroke-width="0.5"/>
<circle cx="474.05" cy="766.54" r="1.1" fill="#fff" stroke="#333" stroke-width="0.5"/>
<circle cx="471.15" cy="767.79" r="1.1" fill="#fff" stroke="#333" stroke-width="0.5"/>
<line x1="478.9" y1="764.2" x2="478.9" y2="771.2" stroke="#1b1b1b" stroke-width="0.6"/>
<line x1="477.4" y1="764.2" x2="480.4" y2="764.2" stroke="#1b1b1b" stroke-width="0.6"/>
<circle cx="477.45" cy="767.73" r="1.1" fill="#fff" stroke="#333" stroke-width="0.5"/>
<circle cx="478.9" cy="767.47" r="1.1" fill="#fff" stroke="#333" stroke-width="0.5"/>
<circle cx="480.35" cy="767.99" r="1.1" fill="#fff" stroke="#333" stroke-width="0.5"/>
<circle cx="477.45" cy="767.12" r="1.1" fill="#fff" stroke="#333" stroke-width="0.5"/>
<line x1="485.2" y1="786.1" x2="485.2" y2="793.1" stroke="#1b1b1b" stroke-width="0.6"/>
<line x1="483.7" y1="786.1" x2="486.7" y2="786.1" stroke="#1b1b1b" stroke-width="0.6"/>
<circle cx="483.75" cy="787.82" r="1.1" fill="#fff" stroke="#333" stroke-width="0.5"/>
<circle cx="485.2" cy="789.55" r="1.1" fill="#fff" stroke="#333" stroke-width="0.5"/>
<circle cx="486.65" cy="789.63" r="1.1" fill="#fff" stroke="#333" stroke-width="0.5"/>
<circle cx="483.75" cy="791.94" r="1.1" fill="#fff" stroke="#333" stroke-width="0.5"/>
<circle cx="489.9" cy="797" r="0.85" fill="#fff" stroke="#666" stroke-width="0.45"/>
<circle cx="491.5" cy="797" r="0.85" fill="#fff" stroke="#666" stroke-width="0.45"/>
<circle cx="493.1" cy="797" r="0.85" fill="#fff" stroke="#666" stroke-width="0.45"/>
<circle cx="496.2" cy="797" r="0.85" fill="#fff" stroke="#666" stroke-width="0.45"/>
<circle cx="497.8" cy="797" r="0.85" fill="#fff" stroke="#666" stroke-width="0.45"/>
<circle cx="499.4" cy="797" r="0.85" fill="#fff" stroke="#666" stroke-width="0.45"/>
<rect x="506.39" y="775.4" width="4.7" height="21.6" fill="#EF9B47"/>
<rect x="512.69" y="778.8" width="4.7" height="18.2" fill="#9B69D5"/>
<rect x="518.99" y="789" width="4.7" height="8" fill="#5FCB9B"/>
<line x1="521.34" y1="797" x2="521.34" y2="800.4" stroke="#1b1b1b" stroke-width="1"/>
<line x1="508.74" y1="771.9" x2="508.74" y2="778.9" stroke="#1b1b1b" stroke-width="0.6"/>
<line x1="507.24" y1="771.9" x2="510.24" y2="771.9" stroke="#1b1b1b" stroke-width="0.6"/>
<circle cx="507.29" cy="776.56" r="1.1" fill="#fff" stroke="#333" stroke-width="0.5"/>
<circle cx="508.74" cy="777.47" r="1.1" fill="#fff" stroke="#333" stroke-width="0.5"/>
<circle cx="510.19" cy="773.09" r="1.1" fill="#fff" stroke="#333" stroke-width="0.5"/>
<circle cx="507.29" cy="772.92" r="1.1" fill="#fff" stroke="#333" stroke-width="0.5"/>
<line x1="515.04" y1="775.3" x2="515.04" y2="782.3" stroke="#1b1b1b" stroke-width="0.6"/>
<line x1="513.54" y1="775.3" x2="516.54" y2="775.3" stroke="#1b1b1b" stroke-width="0.6"/>
<circle cx="513.59" cy="777.3" r="1.1" fill="#fff" stroke="#333" stroke-width="0.5"/>
<circle cx="515.04" cy="779.38" r="1.1" fill="#fff" stroke="#333" stroke-width="0.5"/>
<circle cx="516.49" cy="776.84" r="1.1" fill="#fff" stroke="#333" stroke-width="0.5"/>
<circle cx="513.59" cy="780.83" r="1.1" fill="#fff" stroke="#333" stroke-width="0.5"/>
<line x1="521.34" y1="785.5" x2="521.34" y2="792.5" stroke="#1b1b1b" stroke-width="0.6"/>
<line x1="519.84" y1="785.5" x2="522.84" y2="785.5" stroke="#1b1b1b" stroke-width="0.6"/>
<circle cx="519.89" cy="790.46" r="1.1" fill="#fff" stroke="#333" stroke-width="0.5"/>
<circle cx="521.34" cy="786.66" r="1.1" fill="#fff" stroke="#333" stroke-width="0.5"/>
<circle cx="522.79" cy="790.69" r="1.1" fill="#fff" stroke="#333" stroke-width="0.5"/>
<circle cx="519.89" cy="788.09" r="1.1" fill="#fff" stroke="#333" stroke-width="0.5"/>
<circle cx="526.04" cy="797" r="0.85" fill="#fff" stroke="#666" stroke-width="0.45"/>
<circle cx="527.64" cy="797" r="0.85" fill="#fff" stroke="#666" stroke-width="0.45"/>
<circle cx="529.24" cy="797" r="0.85" fill="#fff" stroke="#666" stroke-width="0.45"/>
<circle cx="532.34" cy="797" r="0.85" fill="#fff" stroke="#666" stroke-width="0.45"/>
<circle cx="533.94" cy="797" r="0.85" fill="#fff" stroke="#666" stroke-width="0.45"/>
<circle cx="535.54" cy="797" r="0.85" fill="#fff" stroke="#666" stroke-width="0.45"/>
<rect x="542.53" y="774" width="4.7" height="23" fill="#EF9B47"/>
<rect x="548.83" y="777.7" width="4.7" height="19.3" fill="#9B69D5"/>
<rect x="555.13" y="791" width="4.7" height="6" fill="#5FCB9B"/>
<line x1="557.48" y1="797" x2="557.48" y2="800.4" stroke="#1b1b1b" stroke-width="1"/>
<line x1="544.88" y1="770.5" x2="544.88" y2="777.5" stroke="#1b1b1b" stroke-width="0.6"/>
<line x1="543.38" y1="770.5" x2="546.38" y2="770.5" stroke="#1b1b1b" stroke-width="0.6"/>
<circle cx="543.43" cy="773.49" r="1.1" fill="#fff" stroke="#333" stroke-width="0.5"/>
<circle cx="544.88" cy="772.45" r="1.1" fill="#fff" stroke="#333" stroke-width="0.5"/>
<circle cx="546.33" cy="776.01" r="1.1" fill="#fff" stroke="#333" stroke-width="0.5"/>
<circle cx="543.43" cy="774.63" r="1.1" fill="#fff" stroke="#333" stroke-width="0.5"/>
<line x1="551.18" y1="774.2" x2="551.18" y2="781.2" stroke="#1b1b1b" stroke-width="0.6"/>
<line x1="549.68" y1="774.2" x2="552.68" y2="774.2" stroke="#1b1b1b" stroke-width="0.6"/>
<circle cx="549.73" cy="775.61" r="1.1" fill="#fff" stroke="#333" stroke-width="0.5"/>
<circle cx="551.18" cy="778.23" r="1.1" fill="#fff" stroke="#333" stroke-width="0.5"/>
<circle cx="552.63" cy="780.19" r="1.1" fill="#fff" stroke="#333" stroke-width="0.5"/>
<circle cx="549.73" cy="775.9" r="1.1" fill="#fff" stroke="#333" stroke-width="0.5"/>
<line x1="557.48" y1="787.5" x2="557.48" y2="794.5" stroke="#1b1b1b" stroke-width="0.6"/>
<line x1="555.98" y1="787.5" x2="558.98" y2="787.5" stroke="#1b1b1b" stroke-width="0.6"/>
<circle cx="556.03" cy="789.52" r="1.1" fill="#fff" stroke="#333" stroke-width="0.5"/>
<circle cx="557.48" cy="788.96" r="1.1" fill="#fff" stroke="#333" stroke-width="0.5"/>
<circle cx="558.93" cy="791.8" r="1.1" fill="#fff" stroke="#333" stroke-width="0.5"/>
<circle cx="556.03" cy="791.43" r="1.1" fill="#fff" stroke="#333" stroke-width="0.5"/>
<circle cx="562.18" cy="797" r="0.85" fill="#fff" stroke="#666" stroke-width="0.45"/>
<circle cx="563.78" cy="797" r="0.85" fill="#fff" stroke="#666" stroke-width="0.45"/>
<circle cx="565.38" cy="797" r="0.85" fill="#fff" stroke="#666" stroke-width="0.45"/>
<circle cx="568.48" cy="797" r="0.85" fill="#fff" stroke="#666" stroke-width="0.45"/>
<circle cx="570.08" cy="797" r="0.85" fill="#fff" stroke="#666" stroke-width="0.45"/>
<circle cx="571.68" cy="797" r="0.85" fill="#fff" stroke="#666" stroke-width="0.45"/>
<rect x="578.67" y="779.7" width="4.7" height="17.3" fill="#EF9B47"/>
<rect x="584.97" y="780.5" width="4.7" height="16.5" fill="#9B69D5"/>
<rect x="591.27" y="788.2" width="4.7" height="8.8" fill="#5FCB9B"/>
<line x1="593.62" y1="797" x2="593.62" y2="800.4" stroke="#1b1b1b" stroke-width="1"/>
<line x1="581.02" y1="776.2" x2="581.02" y2="783.2" stroke="#1b1b1b" stroke-width="0.6"/>
<line x1="579.52" y1="776.2" x2="582.52" y2="776.2" stroke="#1b1b1b" stroke-width="0.6"/>
<circle cx="579.57" cy="779.31" r="1.1" fill="#fff" stroke="#333" stroke-width="0.5"/>
<circle cx="581.02" cy="780.02" r="1.1" fill="#fff" stroke="#333" stroke-width="0.5"/>
<circle cx="582.47" cy="779.99" r="1.1" fill="#fff" stroke="#333" stroke-width="0.5"/>
<circle cx="579.57" cy="780.14" r="1.1" fill="#fff" stroke="#333" stroke-width="0.5"/>
<line x1="587.32" y1="777" x2="587.32" y2="784" stroke="#1b1b1b" stroke-width="0.6"/>
<line x1="585.82" y1="777" x2="588.82" y2="777" stroke="#1b1b1b" stroke-width="0.6"/>
<circle cx="585.87" cy="782.56" r="1.1" fill="#fff" stroke="#333" stroke-width="0.5"/>
<circle cx="587.32" cy="780.47" r="1.1" fill="#fff" stroke="#333" stroke-width="0.5"/>
<circle cx="588.77" cy="780.83" r="1.1" fill="#fff" stroke="#333" stroke-width="0.5"/>
<circle cx="585.87" cy="779.77" r="1.1" fill="#fff" stroke="#333" stroke-width="0.5"/>
<line x1="593.62" y1="784.7" x2="593.62" y2="791.7" stroke="#1b1b1b" stroke-width="0.6"/>
<line x1="592.12" y1="784.7" x2="595.12" y2="784.7" stroke="#1b1b1b" stroke-width="0.6"/>
<circle cx="592.17" cy="788.43" r="1.1" fill="#fff" stroke="#333" stroke-width="0.5"/>
<circle cx="593.62" cy="786.32" r="1.1" fill="#fff" stroke="#333" stroke-width="0.5"/>
<circle cx="595.07" cy="787.1" r="1.1" fill="#fff" stroke="#333" stroke-width="0.5"/>
<circle cx="592.17" cy="787.85" r="1.1" fill="#fff" stroke="#333" stroke-width="0.5"/>
<circle cx="598.32" cy="797" r="0.85" fill="#fff" stroke="#666" stroke-width="0.45"/>
<circle cx="599.92" cy="797" r="0.85" fill="#fff" stroke="#666" stroke-width="0.45"/>
<circle cx="601.52" cy="797" r="0.85" fill="#fff" stroke="#666" stroke-width="0.45"/>
<circle cx="604.62" cy="797" r="0.85" fill="#fff" stroke="#666" stroke-width="0.45"/>
<circle cx="606.22" cy="797" r="0.85" fill="#fff" stroke="#666" stroke-width="0.45"/>
<circle cx="607.82" cy="797" r="0.85" fill="#fff" stroke="#666" stroke-width="0.45"/>
<rect x="614.81" y="780.5" width="4.7" height="16.5" fill="#EF9B47"/>
<rect x="621.11" y="781.7" width="4.7" height="15.3" fill="#9B69D5"/>
<line x1="629.76" y1="797" x2="629.76" y2="800.4" stroke="#1b1b1b" stroke-width="1"/>
<line x1="617.16" y1="777" x2="617.16" y2="784" stroke="#1b1b1b" stroke-width="0.6"/>
<line x1="615.66" y1="777" x2="618.66" y2="777" stroke="#1b1b1b" stroke-width="0.6"/>
<circle cx="615.71" cy="779.85" r="1.1" fill="#fff" stroke="#333" stroke-width="0.5"/>
<circle cx="617.16" cy="782.54" r="1.1" fill="#fff" stroke="#333" stroke-width="0.5"/>
<circle cx="618.61" cy="779.98" r="1.1" fill="#fff" stroke="#333" stroke-width="0.5"/>
<circle cx="615.71" cy="779.03" r="1.1" fill="#fff" stroke="#333" stroke-width="0.5"/>
<line x1="623.46" y1="778.2" x2="623.46" y2="785.2" stroke="#1b1b1b" stroke-width="0.6"/>
<line x1="621.96" y1="778.2" x2="624.96" y2="778.2" stroke="#1b1b1b" stroke-width="0.6"/>
<circle cx="622.01" cy="780.17" r="1.1" fill="#fff" stroke="#333" stroke-width="0.5"/>
<circle cx="623.46" cy="783.23" r="1.1" fill="#fff" stroke="#333" stroke-width="0.5"/>
<circle cx="624.91" cy="781.06" r="1.1" fill="#fff" stroke="#333" stroke-width="0.5"/>
<circle cx="622.01" cy="783.41" r="1.1" fill="#fff" stroke="#333" stroke-width="0.5"/>
<circle cx="628.16" cy="797" r="0.85" fill="#fff" stroke="#666" stroke-width="0.45"/>
<circle cx="629.76" cy="797" r="0.85" fill="#fff" stroke="#666" stroke-width="0.45"/>
<circle cx="631.36" cy="797" r="0.85" fill="#fff" stroke="#666" stroke-width="0.45"/>
<circle cx="634.46" cy="797" r="0.85" fill="#fff" stroke="#666" stroke-width="0.45"/>
<circle cx="636.06" cy="797" r="0.85" fill="#fff" stroke="#666" stroke-width="0.45"/>
<circle cx="637.66" cy="797" r="0.85" fill="#fff" stroke="#666" stroke-width="0.45"/>
<circle cx="640.76" cy="797" r="0.85" fill="#fff" stroke="#666" stroke-width="0.45"/>
<circle cx="642.36" cy="797" r="0.85" fill="#fff" stroke="#666" stroke-width="0.45"/>
<circle cx="643.96" cy="797" r="0.85" fill="#fff" stroke="#666" stroke-width="0.45"/>
<rect x="650.95" y="780.5" width="4.7" height="16.5" fill="#EF9B47"/>
<rect x="657.25" y="781.7" width="4.7" height="15.3" fill="#9B69D5"/>
<rect x="663.55" y="793.9" width="4.7" height="3.1" fill="#5FCB9B"/>
<line x1="665.9" y1="797" x2="665.9" y2="800.4" stroke="#1b1b1b" stroke-width="1"/>
<line x1="653.3" y1="777" x2="653.3" y2="784" stroke="#1b1b1b" stroke-width="0.6"/>
<line x1="651.8" y1="777" x2="654.8" y2="777" stroke="#1b1b1b" stroke-width="0.6"/>
<circle cx="651.85" cy="778.73" r="1.1" fill="#fff" stroke="#333" stroke-width="0.5"/>
<circle cx="653.3" cy="780.27" r="1.1" fill="#fff" stroke="#333" stroke-width="0.5"/>
<circle cx="654.75" cy="781.85" r="1.1" fill="#fff" stroke="#333" stroke-width="0.5"/>
<circle cx="651.85" cy="781.53" r="1.1" fill="#fff" stroke="#333" stroke-width="0.5"/>
<line x1="659.6" y1="778.2" x2="659.6" y2="785.2" stroke="#1b1b1b" stroke-width="0.6"/>
<line x1="658.1" y1="778.2" x2="661.1" y2="778.2" stroke="#1b1b1b" stroke-width="0.6"/>
<circle cx="658.15" cy="782.11" r="1.1" fill="#fff" stroke="#333" stroke-width="0.5"/>
<circle cx="659.6" cy="780.17" r="1.1" fill="#fff" stroke="#333" stroke-width="0.5"/>
<circle cx="661.05" cy="784.03" r="1.1" fill="#fff" stroke="#333" stroke-width="0.5"/>
<circle cx="658.15" cy="783.82" r="1.1" fill="#fff" stroke="#333" stroke-width="0.5"/>
<line x1="665.9" y1="790.4" x2="665.9" y2="797.4" stroke="#1b1b1b" stroke-width="0.6"/>
<line x1="664.4" y1="790.4" x2="667.4" y2="790.4" stroke="#1b1b1b" stroke-width="0.6"/>
<circle cx="664.45" cy="792.14" r="1.1" fill="#fff" stroke="#333" stroke-width="0.5"/>
<circle cx="665.9" cy="794.48" r="1.1" fill="#fff" stroke="#333" stroke-width="0.5"/>
<circle cx="667.35" cy="792.25" r="1.1" fill="#fff" stroke="#333" stroke-width="0.5"/>
<circle cx="664.45" cy="794.96" r="1.1" fill="#fff" stroke="#333" stroke-width="0.5"/>
<circle cx="670.6" cy="797" r="0.85" fill="#fff" stroke="#666" stroke-width="0.45"/>
<circle cx="672.2" cy="797" r="0.85" fill="#fff" stroke="#666" stroke-width="0.45"/>
<circle cx="673.8" cy="797" r="0.85" fill="#fff" stroke="#666" stroke-width="0.45"/>
<circle cx="676.9" cy="797" r="0.85" fill="#fff" stroke="#666" stroke-width="0.45"/>
<circle cx="678.5" cy="797" r="0.85" fill="#fff" stroke="#666" stroke-width="0.45"/>
<circle cx="680.1" cy="797" r="0.85" fill="#fff" stroke="#666" stroke-width="0.45"/>
<path d="M291.6 722.7V720.7H298.1V740.7" fill="none" stroke="#555" stroke-width="0.45"/>
<text transform="translate(294.85 720.1) scale(1 1.05)" font-size="3.19" font-weight="bold" stroke="#222" stroke-width="0.08" text-anchor="middle" fill="#222">p&lt;0.0001</text>
<path d="M291.6 717.8V715.8H304.5V737.8" fill="none" stroke="#555" stroke-width="0.45"/>
<text transform="translate(298.05 715.2) scale(1 1.05)" font-size="3.19" font-weight="bold" stroke="#222" stroke-width="0.08" text-anchor="middle" fill="#222">p&lt;0.0001</text>
<path d="M327.6 740.2V738.2H334.1V752.2" fill="none" stroke="#555" stroke-width="0.45"/>
<text transform="translate(330.85 737.6) scale(1 1.05)" font-size="3.19" font-weight="bold" stroke="#222" stroke-width="0.08" text-anchor="middle" fill="#222">p&lt;0.0001</text>
<path d="M327.6 736.7V734.7H340.5V754.7" fill="none" stroke="#555" stroke-width="0.45"/>
<text transform="translate(334.05 734.1) scale(1 1.05)" font-size="3.19" font-weight="bold" stroke="#222" stroke-width="0.08" text-anchor="middle" fill="#222">p&lt;0.0001</text>
<path d="M363.7 740.3V738.3H376.5V756.3" fill="none" stroke="#555" stroke-width="0.45"/>
<text transform="translate(370.1 737.7) scale(1 1.05)" font-size="3.19" font-weight="bold" stroke="#222" stroke-width="0.08" text-anchor="middle" fill="#222">p&lt;0.0001</text>
<path d="M399.8 752.8V750.8H406.3V758.8" fill="none" stroke="#555" stroke-width="0.45"/>
<text transform="translate(403.05 750.2) scale(1 1.05)" font-size="3.19" font-weight="bold" stroke="#222" stroke-width="0.08" text-anchor="middle" fill="#222">p&lt;0.0001</text>
<path d="M399.8 748.4V746.4H412.6V766.4" fill="none" stroke="#555" stroke-width="0.45"/>
<text transform="translate(406.2 745.8) scale(1 1.05)" font-size="3.19" font-weight="bold" stroke="#222" stroke-width="0.08" text-anchor="middle" fill="#222">p&lt;0.0001</text>
<path d="M435.9 764.4V762.4H442.4V772.4" fill="none" stroke="#555" stroke-width="0.45"/>
<text transform="translate(439.15 761.8) scale(1 1.05)" font-size="3.19" font-weight="bold" stroke="#222" stroke-width="0.08" text-anchor="middle" fill="#222">p&lt;0.0001</text>
<path d="M435.9 760V758H448.7V780" fill="none" stroke="#555" stroke-width="0.45"/>
<text transform="translate(442.3 757.4) scale(1 1.05)" font-size="3.19" font-weight="bold" stroke="#222" stroke-width="0.08" text-anchor="middle" fill="#222">p&lt;0.0001</text>
<path d="M471.3 762.7V760.7H477.8V764.7" fill="none" stroke="#555" stroke-width="0.45"/>
<text transform="translate(474.55 760.1) scale(1 1.05)" font-size="3.19" font-weight="bold" stroke="#222" stroke-width="0.08" text-anchor="middle" fill="#222">p&lt;0.0001</text>
<path d="M471.3 759.4V757.4H484.2V785.4" fill="none" stroke="#555" stroke-width="0.45"/>
<text transform="translate(477.75 756.8) scale(1 1.05)" font-size="3.19" font-weight="bold" stroke="#222" stroke-width="0.08" text-anchor="middle" fill="#222">p&lt;0.0001</text>
<path d="M507.8 768.1V766.1H514.3V774.1" fill="none" stroke="#555" stroke-width="0.45"/>
<text transform="translate(511.05 765.5) scale(1 1.05)" font-size="3.19" font-weight="bold" stroke="#222" stroke-width="0.08" text-anchor="middle" fill="#222">p&lt;0.0001</text>
<path d="M507.8 764.4V762.4H520.7V784.4" fill="none" stroke="#555" stroke-width="0.45"/>
<text transform="translate(514.25 761.8) scale(1 1.05)" font-size="3.19" font-weight="bold" stroke="#222" stroke-width="0.08" text-anchor="middle" fill="#222">p&lt;0.0001</text>
<path d="M550.6 774.9V768.9H556.9V786.9" fill="none" stroke="#555" stroke-width="0.45"/>
<text transform="translate(553.75 768.3) scale(1 1.05)" font-size="3.19" font-weight="bold" stroke="#222" stroke-width="0.08" text-anchor="middle" fill="#222">p&lt;0.0001</text>
<path d="M544 764.6V762.6H556.9V786.6" fill="none" stroke="#555" stroke-width="0.45"/>
<text transform="translate(550.45 762) scale(1 1.05)" font-size="3.19" font-weight="bold" stroke="#222" stroke-width="0.08" text-anchor="middle" fill="#222">p&lt;0.0001</text>
<path d="M586.7 776.2V770.2H593V784.2" fill="none" stroke="#555" stroke-width="0.45"/>
<text transform="translate(589.85 769.6) scale(1 1.05)" font-size="3.19" font-weight="bold" stroke="#222" stroke-width="0.08" text-anchor="middle" fill="#222">p&lt;0.0001</text>
<path d="M580.1 768.7V766.7H593V784.7" fill="none" stroke="#555" stroke-width="0.45"/>
<text transform="translate(586.55 766.1) scale(1 1.05)" font-size="3.19" font-weight="bold" stroke="#222" stroke-width="0.08" text-anchor="middle" fill="#222">p&lt;0.0001</text>
<path d="M623.2 780V774H629.5V792" fill="none" stroke="#555" stroke-width="0.45"/>
<text transform="translate(626.35 773.4) scale(1 1.05)" font-size="3.19" font-weight="bold" stroke="#222" stroke-width="0.08" text-anchor="middle" fill="#222">p&lt;0.0001</text>
<path d="M616.6 770.5V768.5H629.5V792.5" fill="none" stroke="#555" stroke-width="0.45"/>
<text transform="translate(623.05 767.9) scale(1 1.05)" font-size="3.19" font-weight="bold" stroke="#222" stroke-width="0.08" text-anchor="middle" fill="#222">p&lt;0.0001</text>
<path d="M653 775.1V771.1H659.5V777.1" fill="none" stroke="#555" stroke-width="0.45"/>
<text transform="translate(656.25 770.5) scale(1 1.05)" font-size="3.19" font-weight="bold" stroke="#222" stroke-width="0.08" text-anchor="middle" fill="#222">p&lt;0.0001</text>
<path d="M659.5 777.1V771.1H665.9V789.1" fill="none" stroke="#555" stroke-width="0.45"/>
<text transform="translate(662.7 770.5) scale(1 1.05)" font-size="3.19" font-weight="bold" stroke="#222" stroke-width="0.08" text-anchor="middle" fill="#222">p&lt;0.0001</text>
<path d="M653 763.9V761.9H665.9V769.9" fill="none" stroke="#555" stroke-width="0.45"/>
<text transform="translate(659.45 761.3) scale(1 1.05)" font-size="3.19" font-weight="bold" stroke="#222" stroke-width="0.08" text-anchor="middle" fill="#222">p&lt;0.0001</text>
<text transform="translate(305.4 806.5) rotate(-45) scale(1 1.05)" font-size="5.6" font-weight="bold" stroke="#1a1a1a" stroke-width="0.14" text-anchor="end" fill="#1a1a1a">A/HK/4801/2014</text>
<text transform="translate(341.54 806.5) rotate(-45) scale(1 1.05)" font-size="5.6" font-weight="bold" stroke="#1a1a1a" stroke-width="0.14" text-anchor="end" fill="#1a1a1a">A/Cambodia/2020</text>
<text transform="translate(377.68 806.5) rotate(-45) scale(1 1.05)" font-size="5.6" font-weight="bold" stroke="#1a1a1a" stroke-width="0.14" text-anchor="end" fill="#1a1a1a">A/Perth/16/2009</text>
<text transform="translate(413.82 806.5) rotate(-45) scale(1 1.05)" font-size="5.6" font-weight="bold" stroke="#1a1a1a" stroke-width="0.14" text-anchor="end" fill="#1a1a1a">A/Darwin/9/2021</text>
<text transform="translate(449.96 806.5) rotate(-45) scale(1 1.05)" font-size="5.6" font-weight="bold" stroke="#1a1a1a" stroke-width="0.14" text-anchor="end" fill="#1a1a1a">A/Aichi/2/1968 (X31)</text>
<text transform="translate(486.1 806.5) rotate(-45) scale(1 1.05)" font-size="5.6" font-weight="bold" stroke="#1a1a1a" stroke-width="0.14" text-anchor="end" fill="#1a1a1a">A/Michigan/45/2015</text>
<text transform="translate(522.24 806.5) rotate(-45) scale(1 1.05)" font-size="5.6" font-weight="bold" stroke="#1a1a1a" stroke-width="0.14" text-anchor="end" fill="#1a1a1a">A/PR/8/34</text>
<text transform="translate(558.38 806.5) rotate(-45) scale(1 1.05)" font-size="5.6" font-weight="bold" stroke="#1a1a1a" stroke-width="0.14" text-anchor="end" fill="#1a1a1a">A/NC/20/99</text>
<text transform="translate(594.52 806.5) rotate(-45) scale(1 1.05)" font-size="5.6" font-weight="bold" stroke="#1a1a1a" stroke-width="0.14" text-anchor="end" fill="#1a1a1a">A/California/7/2009</text>
<text transform="translate(630.66 806.5) rotate(-45) scale(1 1.05)" font-size="5.6" font-weight="bold" stroke="#1a1a1a" stroke-width="0.14" text-anchor="end" fill="#1a1a1a">A/Victoria/2570/2019</text>
<text transform="translate(666.8 806.5) rotate(-45) scale(1 1.05)" font-size="5.6" font-weight="bold" stroke="#1a1a1a" stroke-width="0.14" text-anchor="end" fill="#1a1a1a">A/Guangdong/2019</text>
</svg></body></html>
